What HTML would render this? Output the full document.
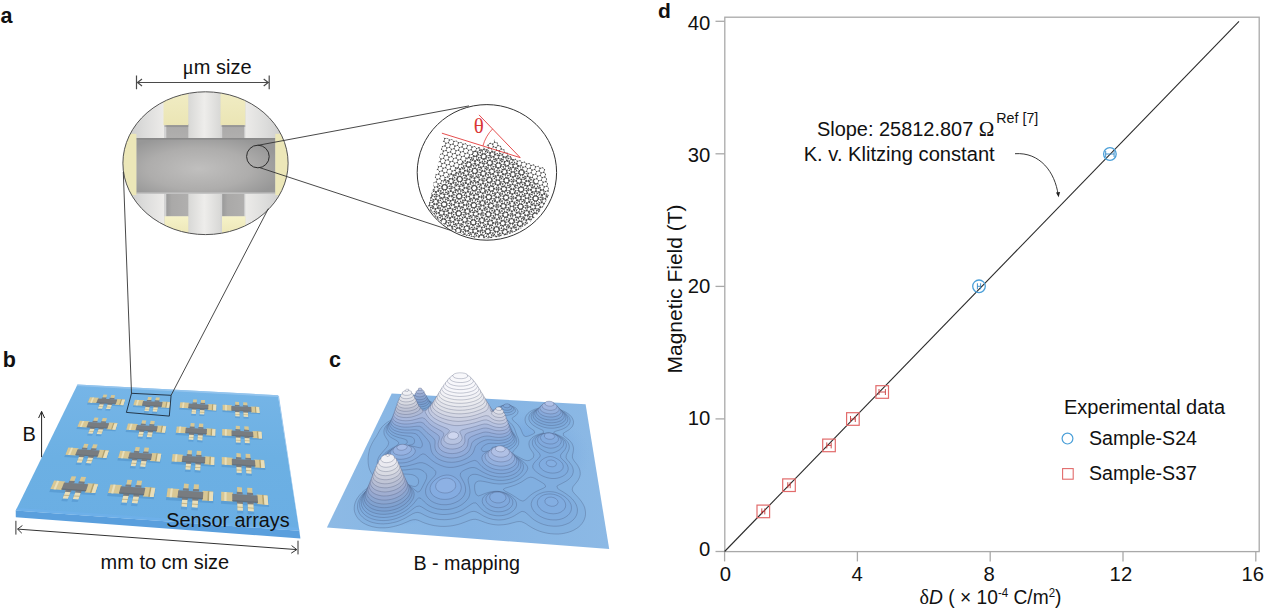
<!DOCTYPE html>
<html><head><meta charset="utf-8"><title>Twisted bilayer sensor arrays and quantized magnetic-field response</title>
<style>
html,body{margin:0;padding:0;background:#fff;}
body{width:1269px;height:611px;overflow:hidden;font-family:"Liberation Sans",sans-serif;}
svg{display:block;}
text{font-family:"Liberation Sans",sans-serif;fill:#111;}
.ser{font-family:"Liberation Serif",serif;}
</style></head><body>
<svg width="1269" height="611" viewBox="0 0 1269 611">
<rect width="1269" height="611" fill="#fff"/>
<defs><linearGradient id="cbase" x1="0" y1="0" x2="1" y2="0"><stop offset="0" stop-color="#8dbae5"/><stop offset="0.5" stop-color="#84b3e3"/><stop offset="1" stop-color="#8cb9e5"/></linearGradient>
<radialGradient id="cdark"><stop offset="0" stop-color="#5f93d6" stop-opacity="0.85"/><stop offset="0.6" stop-color="#6a9cda" stop-opacity="0.5"/><stop offset="1" stop-color="#7aaae0" stop-opacity="0"/></radialGradient></defs>
<path d="M391.7 393.4L585.6 404.2L609.2 549.1L326.9 527.5Z" fill="url(#cbase)"/>
<clipPath id="cclip"><path d="M391.7 393.4L585.6 404.2L609.2 549.1L326.9 527.5Z"/></clipPath>
<g clip-path="url(#cclip)"><ellipse cx="448" cy="462" rx="80" ry="42" fill="url(#cdark)"/><ellipse cx="395" cy="505" rx="42" ry="22" fill="url(#cdark)"/><ellipse cx="530" cy="455" rx="60" ry="45" fill="url(#cdark)" opacity="0.6"/></g>
<path d="M385.1 527.8L382.4 527.8L379.8 527.8L377.3 527.6L374.8 527.2L372.4 526.7L370.0 526.0L367.7 525.2L365.5 524.2L363.3 523.0L361.3 521.6L359.4 520.0L357.8 518.2L356.5 516.3L355.3 513.9L354.5 511.5L354.2 509.1L354.3 506.8L354.6 504.6L355.3 502.4L356.2 500.2L357.4 498.1L358.8 496.1L360.3 494.3L362.0 492.5L364.1 490.6L365.9 489.1L367.9 487.7L369.9 486.3L372.1 484.9L374.2 483.6L376.0 482.2L376.8 480.0L375.3 477.8L373.7 476.1L372.2 474.2L370.8 472.1L369.8 470.1L369.0 467.7L368.5 465.4L368.2 463.0L368.1 460.8L368.1 458.5L368.3 456.1L368.6 453.8L369.1 451.3L369.6 449.1L370.4 446.9L371.4 444.7L372.4 442.7L373.5 440.8L374.7 438.8L376.0 437.0L377.3 434.7L378.5 432.5L379.7 430.3L381.1 428.1L382.5 426.4L384.2 424.7L386.3 423.0L388.2 421.7L390.6 420.4L393.3 419.1L395.6 418.2L398.1 417.3L400.3 416.6L402.6 415.9L404.8 415.2L406.4 413.3L405.6 411.3L405.0 408.9L405.4 406.7L406.7 404.8L408.3 403.3L410.2 402.2L412.4 401.2L414.5 400.6L417.0 400.1L419.8 399.8L422.3 399.7L424.7 399.9L427.0 400.3L429.2 401.0L431.4 401.9L433.4 403.2L435.3 404.9L437.3 406.3L439.9 406.5L442.5 406.4L445.1 406.2L447.6 406.0L450.2 405.9L452.4 405.8L455.2 405.8L457.7 405.8L460.2 405.9L462.7 406.0L465.2 406.1L467.7 406.3L470.2 406.6L472.6 406.8L475.1 407.2L477.5 407.5L480.0 407.9L482.4 408.4L484.9 408.9L487.2 409.4L489.8 410.0L492.3 410.3L494.7 409.5L496.7 408.0L498.7 406.9L501.0 406.1L503.3 405.6L506.1 405.4L508.6 405.5L511.1 405.9L513.5 406.8L515.5 407.8L517.1 409.3L518.1 411.5L517.5 413.7L515.7 415.7L513.8 416.9L512.0 418.3L513.2 420.6L515.0 422.1L516.7 423.6L518.2 425.2L519.5 427.0L520.7 428.9L521.6 431.1L522.5 433.3L523.8 435.7L525.8 436.6L528.5 436.0L530.7 435.1L532.7 434.2L534.7 433.0L534.1 430.7L532.1 429.3L530.2 428.0L528.3 426.4L526.6 424.5L525.5 422.4L525.0 419.9L525.3 417.6L526.4 415.3L527.8 413.5L529.7 411.9L531.6 410.7L534.1 409.5L536.6 408.7L538.7 408.2L541.1 407.8L543.6 407.5L546.1 407.4L548.7 407.5L551.2 407.7L553.7 408.0L556.3 408.5L558.8 409.2L561.4 410.1L564.0 411.2L566.0 412.3L568.1 413.7L569.9 415.1L571.5 416.9L572.8 419.0L573.5 421.4L573.4 423.8L572.5 426.2L570.9 428.1L569.1 429.7L567.2 430.9L565.3 432.0L563.4 433.2L563.4 435.4L565.4 437.1L567.2 438.5L569.0 439.9L570.5 441.6L571.9 443.4L572.9 445.6L573.5 448.0L573.4 450.5L573.0 452.9L572.4 455.3L572.5 457.9L573.6 460.1L574.9 461.9L576.4 463.7L577.7 465.5L578.9 467.7L579.8 470.1L580.2 472.4L580.2 474.7L579.6 477.0L578.7 479.1L577.5 481.1L576.0 483.0L574.5 484.8L573.0 486.7L572.2 489.1L572.9 491.6L574.7 493.8L576.3 495.5L577.8 497.1L579.3 498.8L581.1 501.0L582.6 503.3L583.8 505.5L584.7 507.7L585.2 510.0L585.5 512.2L585.5 514.5L585.2 516.7L584.5 519.0L583.5 521.2L582.0 523.5L580.5 525.3L578.9 526.8L576.7 528.4L574.0 530.0L571.7 531.1L568.9 532.1L566.3 532.8L563.7 533.4L561.1 533.8L558.4 534.0L555.8 534.0L553.2 533.9L550.5 533.7L547.8 533.3L545.4 532.8L542.5 532.1L539.9 531.3L537.5 530.4L535.5 529.5L532.9 528.2L530.5 526.8L528.6 525.6L526.4 524.1L524.3 522.9L521.7 521.8L519.2 521.5L516.6 521.8L514.0 522.5L511.3 523.2L508.7 523.9L506.1 524.4L503.5 524.7L500.8 524.9L498.2 525.0L495.7 524.8L493.1 524.5L490.5 524.0L488.0 523.4L485.5 522.6L483.0 521.7L480.6 520.8L478.5 520.0L475.6 519.3L473.0 519.4L470.4 520.0L467.7 521.0L465.2 522.0L463.0 522.8L460.3 523.8L457.9 524.5L455.7 525.0L453.0 525.6L450.3 526.0L448.0 526.2L445.0 526.4L442.4 526.4L439.8 526.3L437.2 526.0L434.7 525.7L432.2 525.2L429.7 524.6L427.3 523.9L424.9 523.1L422.5 522.2L420.2 521.1L417.9 520.2L415.5 519.6L412.8 519.8L410.0 520.6L407.1 521.9L404.6 522.9L402.1 524.0L399.2 525.0L396.2 525.9L393.4 526.6L390.6 527.2L387.8 527.6L385.1 527.8Z" fill="rgb(131, 177, 224)" stroke="#3a4566" stroke-opacity="0.5" stroke-width="0.55"/>
<path d="M386.0 523.7L383.3 523.9L380.7 523.8L378.2 523.6L375.7 523.2L373.4 522.7L370.9 522.0L368.8 521.1L366.5 520.0L364.4 518.7L362.5 517.1L360.7 515.2L359.3 513.2L358.3 510.9L357.6 508.4L357.5 506.1L357.7 503.9L358.2 501.7L359.1 499.5L360.3 497.4L361.7 495.3L363.5 493.3L365.7 491.4L367.5 489.9L369.4 488.6L371.5 487.4L373.5 486.3L375.7 485.3L377.9 484.4L380.2 483.6L382.9 482.8L385.5 482.1L387.9 481.6L390.7 481.0L393.1 480.4L394.9 479.1L392.7 477.8L390.3 476.8L388.0 475.8L385.4 474.5L382.9 473.0L381.2 471.6L379.6 469.9L378.3 467.9L377.5 465.8L377.2 463.2L377.4 460.9L378.1 458.7L379.1 456.6L380.5 454.5L382.2 452.5L384.0 450.4L385.5 448.7L387.0 446.9L388.2 444.9L388.7 442.5L387.8 440.4L386.4 438.4L385.2 436.4L384.2 434.3L383.9 431.9L384.1 429.7L385.0 427.5L386.4 425.4L388.1 423.7L389.9 422.3L392.0 421.0L394.5 419.8L396.9 418.9L399.2 418.1L401.4 417.6L403.6 417.1L406.3 416.7L409.1 416.3L411.7 415.9L413.9 415.3L413.6 413.1L411.4 412.0L409.4 410.7L407.9 408.9L407.4 406.6L408.3 404.4L410.1 402.7L412.2 401.5L414.3 400.7L416.8 400.0L419.4 399.7L421.9 399.6L424.3 399.8L426.6 400.3L428.8 401.1L430.9 402.3L432.5 404.2L433.3 406.4L434.3 408.8L436.9 409.0L439.5 408.7L442.2 408.4L444.6 408.1L447.4 407.8L450.0 407.7L452.3 407.6L454.5 407.5L457.0 407.5L459.6 407.5L462.1 407.6L464.6 407.7L467.1 407.9L469.6 408.1L472.1 408.3L474.6 408.7L477.0 409.0L479.3 409.4L481.6 409.9L483.8 410.4L486.3 411.0L488.7 411.6L491.2 412.3L493.7 413.0L496.2 413.5L497.5 411.4L497.9 409.2L499.5 407.4L501.5 406.3L503.7 405.7L506.0 405.5L508.5 405.6L510.9 406.1L513.3 407.2L515.1 408.9L515.5 411.2L514.0 413.1L511.8 414.3L509.6 414.9L507.2 415.3L504.9 415.5L502.8 416.4L504.7 418.2L506.6 419.6L508.5 421.1L510.2 422.7L512.0 424.6L513.3 426.4L514.5 428.7L515.3 430.9L516.1 433.2L516.9 435.4L517.8 437.4L518.6 439.8L518.8 442.2L518.4 444.5L517.1 446.8L515.5 448.8L513.6 450.7L512.6 452.7L514.3 454.5L516.5 455.8L518.5 456.9L520.8 458.2L523.0 459.3L525.1 460.2L527.3 460.7L529.6 460.3L531.8 459.0L533.3 457.4L533.9 454.9L533.0 452.7L531.5 450.6L530.2 448.5L529.3 446.4L528.9 444.0L529.2 441.6L530.5 439.4L532.0 437.8L533.8 436.5L536.2 435.3L538.2 434.5L540.9 433.6L543.6 432.7L543.1 430.4L540.9 429.4L538.8 428.5L536.8 427.5L534.8 426.3L532.8 424.9L531.0 423.2L529.7 421.4L528.9 419.3L528.9 416.9L529.8 414.6L531.3 412.7L533.3 411.2L535.5 410.1L537.9 409.2L540.5 408.6L542.9 408.2L545.2 408.0L547.5 408.0L550.0 408.1L552.5 408.4L555.1 408.9L557.7 409.6L560.3 410.5L562.7 411.6L565.0 412.9L566.9 414.4L568.5 416.2L569.7 418.3L570.2 420.7L569.7 423.0L568.5 425.1L566.9 426.6L565.0 427.9L562.7 429.0L560.5 429.8L558.1 430.5L555.8 431.2L553.7 432.1L555.2 433.7L557.4 434.7L559.5 435.7L561.7 436.8L563.9 438.2L565.9 440.0L567.7 442.0L568.8 444.0L569.3 446.5L569.1 448.9L568.3 451.2L567.2 453.2L566.3 455.3L566.1 457.8L567.4 460.0L569.0 461.8L570.4 463.6L571.8 465.5L572.8 467.8L573.3 470.1L573.2 472.4L572.5 474.7L571.1 476.9L569.5 478.6L567.8 480.0L565.9 481.3L563.6 482.5L561.4 483.7L559.1 484.8L556.9 486.1L557.7 488.5L559.5 489.8L561.9 491.2L564.2 492.6L566.1 493.9L568.3 495.5L570.4 497.2L572.2 498.9L573.6 500.6L574.9 502.4L576.1 504.5L576.9 506.7L577.4 509.0L577.4 511.2L577.1 513.4L576.3 515.6L575.0 517.8L573.2 519.9L571.1 521.6L569.2 522.9L566.7 524.0L564.1 524.9L561.6 525.6L559.0 526.0L556.4 526.2L553.8 526.2L551.2 526.0L548.5 525.7L546.2 525.2L543.3 524.4L541.2 523.6L538.9 522.6L536.8 521.5L534.6 520.2L532.8 518.9L530.5 516.9L528.7 515.2L527.0 513.7L524.9 512.0L522.0 511.3L519.5 512.6L516.9 514.2L514.4 515.8L511.6 517.2L509.0 518.2L506.3 519.0L503.7 519.6L501.1 519.9L498.5 520.0L496.0 519.8L493.4 519.5L490.9 518.9L488.4 518.2L486.1 517.2L483.5 516.0L481.2 514.6L478.9 513.2L476.4 511.9L474.0 511.3L471.8 511.6L469.6 512.3L467.1 513.5L465.0 514.5L462.9 515.5L460.5 516.5L457.8 517.5L454.9 518.3L452.4 518.9L449.8 519.3L446.9 519.6L444.3 519.7L441.8 519.6L439.2 519.5L436.7 519.1L434.2 518.7L431.8 518.0L429.4 517.3L427.4 516.5L424.8 515.3L422.6 514.1L420.3 513.0L417.9 512.4L415.4 512.7L413.0 513.6L410.3 515.2L408.2 516.4L406.2 517.6L404.1 518.7L402.1 519.6L399.1 520.9L396.2 521.9L393.3 522.6L390.5 523.2L387.8 523.6Z" fill="rgb(128, 173, 222)" stroke="#3a4566" stroke-opacity="0.5" stroke-width="0.55"/>
<path d="M523.7 500.8L525.7 499.6L527.3 498.1L529.0 496.5L530.8 495.0L532.7 493.6L534.7 492.3L536.6 491.3L538.7 490.3L541.1 489.2L543.4 488.2L545.6 486.8L544.9 484.6L543.0 483.2L540.9 481.9L538.6 480.5L536.7 479.4L534.7 478.3L532.4 477.4L530.1 477.2L527.7 478.0L525.9 479.1L523.9 480.4L521.8 481.8L519.8 482.9L517.7 483.9L515.0 485.1L512.6 485.9L510.1 486.7L507.7 487.4L505.3 488.1L503.2 489.5L505.1 491.1L507.4 492.3L509.7 493.5L511.8 494.7L513.7 495.9L516.0 497.4L518.0 498.8L519.9 500.1L522.4 501.0Z" fill="rgb(129, 175, 224)" stroke="#3a4566" stroke-opacity="0.5" stroke-width="0.55"/>
<path d="M424.0 411.6L421.4 411.6L418.9 411.5L416.5 411.1L414.1 410.5L411.9 409.6L409.9 408.1L408.8 406.1L409.2 403.9L410.8 402.0L412.9 400.8L415.1 399.9L417.8 399.3L420.4 399.1L422.8 399.1L425.2 399.5L427.3 400.1L429.3 401.2L430.9 402.8L431.5 405.1L430.8 407.3L429.4 409.1L427.6 410.7L425.3 411.5Z" fill="rgb(123, 167, 216)" stroke="#3a4566" stroke-opacity="0.5" stroke-width="0.55"/>
<path d="M507.1 412.7L504.5 412.5L502.0 411.8L500.3 410.4L499.9 408.0L501.3 406.4L503.8 405.4L506.5 405.1L509.0 405.3L511.5 406.1L513.3 407.5L513.8 409.6L512.3 411.3L509.7 412.4L507.4 412.7Z" fill="rgb(124, 168, 217)" stroke="#3a4566" stroke-opacity="0.5" stroke-width="0.55"/>
<path d="M553.0 428.2L550.3 428.2L547.6 428.0L544.9 427.5L542.5 426.8L540.2 425.9L538.1 425.0L536.1 423.8L534.2 422.4L532.5 420.6L531.4 418.4L531.1 416.1L531.9 413.8L533.5 411.9L535.5 410.5L537.5 409.5L539.9 408.7L542.4 408.2L545.0 407.9L547.5 407.8L549.8 407.9L552.6 408.3L555.2 408.8L557.8 409.5L560.0 410.4L562.2 411.5L564.3 413.0L565.9 414.5L567.2 416.4L567.9 418.8L567.5 421.2L566.2 423.2L564.3 424.9L562.3 426.0L559.7 427.0L557.1 427.6L554.4 428.1Z" fill="rgb(125, 169, 218)" stroke="#3a4566" stroke-opacity="0.5" stroke-width="0.55"/>
<path d="M383.8 520.6L381.3 520.5L378.7 520.3L376.5 520.0L373.9 519.4L371.5 518.7L369.3 517.7L367.2 516.6L365.2 515.2L363.5 513.6L361.9 511.7L360.7 509.5L359.9 507.3L359.6 504.6L359.7 502.4L360.2 500.2L361.1 498.0L362.3 495.9L363.8 493.9L365.7 491.9L367.4 490.4L369.3 489.0L371.5 487.5L373.7 486.4L376.0 485.3L378.2 484.4L380.3 483.7L383.0 483.0L385.6 482.4L388.1 482.0L390.6 481.8L393.0 481.7L395.4 481.7L397.7 481.9L399.9 482.2L402.1 482.6L404.3 483.2L406.5 483.9L408.6 484.7L410.7 485.5L412.9 486.3L415.2 486.5L417.2 485.5L418.3 483.6L418.7 481.1L418.0 478.6L416.6 476.9L414.7 475.6L412.6 474.8L410.4 474.4L408.1 474.2L405.8 474.1L403.5 474.1L401.3 474.0L399.0 473.8L396.8 473.5L394.6 473.1L391.9 472.5L389.7 471.7L387.5 470.7L385.3 469.4L383.6 467.9L382.2 466.1L381.1 463.8L380.8 461.5L381.2 459.2L382.1 457.1L383.5 455.0L385.0 453.3L386.8 451.7L388.9 450.2L391.4 448.6L393.3 447.5L395.4 446.4L397.6 444.9L398.9 442.9L397.4 441.1L395.3 439.8L392.8 438.5L390.7 437.2L388.7 435.5L387.2 433.6L386.2 431.5L386.0 429.2L386.5 427.0L387.6 425.0L389.3 423.1L391.1 421.6L393.6 420.1L395.6 419.2L397.9 418.3L400.1 417.7L402.3 417.1L405.2 416.7L407.5 416.4L409.9 416.2L412.6 416.0L415.3 415.8L418.1 415.3L420.4 414.6L422.7 413.6L425.1 412.3L427.4 411.3L430.1 411.0L432.8 410.5L435.5 410.0L438.3 409.5L441.0 409.1L443.5 408.7L446.3 408.4L448.9 408.2L451.5 408.0L454.1 407.9L456.4 407.8L459.2 407.8L461.7 407.9L464.2 408.0L466.8 408.1L469.3 408.4L471.8 408.6L474.2 409.0L476.7 409.4L478.9 409.7L481.1 410.2L483.5 410.8L486.0 411.4L488.5 412.1L490.9 412.9L493.4 413.8L495.6 414.7L497.7 415.7L500.1 417.0L502.0 418.1L503.9 419.4L505.7 420.9L507.4 422.6L509.0 424.5L510.3 426.7L511.3 428.9L512.3 431.2L513.5 433.1L514.8 435.1L515.9 437.1L516.6 439.4L516.6 441.8L515.6 444.1L514.1 446.0L512.4 447.5L510.3 448.9L508.5 450.2L507.6 452.2L509.6 453.6L511.6 454.5L513.7 455.5L515.7 456.5L517.8 457.8L520.0 459.2L522.1 460.8L523.9 462.2L525.7 464.1L527.2 466.0L527.8 468.3L527.0 470.6L525.6 472.8L524.1 474.6L522.4 476.4L520.2 478.1L518.3 479.4L515.9 480.6L513.6 481.6L511.1 482.4L508.7 483.0L506.3 483.5L503.9 483.8L501.5 483.9L499.2 484.0L496.8 483.8L494.5 483.6L492.1 483.2L489.8 482.7L487.5 482.2L485.2 481.7L482.9 481.3L480.6 481.0L478.2 481.1L475.7 482.5L474.7 484.9L474.6 487.4L474.8 490.0L475.4 492.6L476.4 494.8L478.5 495.9L481.0 495.1L483.2 494.2L485.3 493.4L487.8 492.6L490.3 491.9L492.8 491.5L495.2 491.3L497.7 491.3L500.1 491.6L502.4 492.0L504.8 492.8L507.2 493.7L509.5 495.0L511.8 496.6L513.9 498.5L515.6 500.7L516.4 502.9L516.6 505.2L515.9 507.4L514.5 509.5L512.9 511.1L510.9 512.5L508.8 513.7L506.5 514.6L503.9 515.3L501.3 515.7L498.9 515.8L496.2 515.7L493.7 515.3L491.2 514.7L489.0 514.0L486.3 512.6L484.2 511.3L482.4 509.9L480.7 508.2L479.1 506.4L477.6 504.6L475.8 502.9L473.3 503.0L471.2 504.2L469.0 505.7L466.8 507.2L464.9 508.4L462.7 509.8L460.2 511.0L457.5 512.1L454.8 513.0L452.3 513.6L450.0 514.0L447.7 514.3L445.1 514.5L442.5 514.5L440.0 514.3L437.5 513.9L435.1 513.4L432.9 512.8L430.4 511.9L428.1 510.8L425.9 509.6L423.7 508.2L421.5 506.9L419.3 506.0L416.7 506.5L414.6 507.7L412.4 509.4L410.2 511.1L408.0 512.7L405.9 514.1L403.8 515.3L401.7 516.3L399.7 517.2L396.8 518.3L393.9 519.2L391.1 519.8L388.4 520.3L385.6 520.5Z" fill="rgb(125, 170, 220)" stroke="#3a4566" stroke-opacity="0.5" stroke-width="0.55"/>
<path d="M554.1 478.5L551.8 478.5L549.5 478.2L547.1 477.7L544.8 476.9L542.4 475.9L540.2 474.7L537.9 473.1L536.0 471.6L534.0 469.7L532.8 467.8L532.8 465.5L533.9 463.3L535.5 461.3L537.2 459.6L538.9 458.0L540.3 455.9L539.7 453.8L538.2 452.0L536.5 450.3L534.9 448.5L533.4 446.4L532.5 444.3L532.3 441.9L533.0 439.6L534.4 437.8L536.2 436.4L538.2 435.3L540.7 434.4L543.0 433.8L545.8 433.5L548.5 433.4L551.3 433.7L554.0 434.3L556.1 434.9L558.3 435.8L560.4 436.9L562.5 438.4L564.3 440.0L565.6 442.0L566.4 444.4L566.2 446.8L565.2 449.2L563.7 451.1L561.9 453.1L560.5 455.1L560.8 457.7L562.5 459.5L564.4 461.3L566.1 463.2L567.3 465.0L568.1 467.3L568.2 469.6L567.5 471.7L566.3 473.6L564.3 475.3L562.1 476.6L559.5 477.6L557.2 478.2L554.9 478.5Z" fill="rgb(126, 171, 222)" stroke="#3a4566" stroke-opacity="0.5" stroke-width="0.55"/>
<path d="M555.3 519.9L552.7 519.9L550.1 519.7L547.5 519.2L545.3 518.6L543.2 517.8L540.6 516.6L538.3 515.2L536.3 513.7L534.7 512.1L533.3 510.3L532.1 508.2L531.3 505.7L531.2 503.5L532.0 500.8L533.1 498.8L534.7 497.0L536.7 495.3L538.7 494.1L541.1 493.1L543.5 492.3L545.9 491.9L548.3 491.6L550.8 491.7L553.2 491.9L555.6 492.4L557.7 493.1L560.6 494.3L562.9 495.5L564.8 496.8L566.5 498.2L568.3 500.1L569.9 502.4L571.0 504.6L571.4 506.8L571.4 509.0L570.9 511.2L569.7 513.4L567.9 515.4L565.5 517.1L563.5 518.2L561.3 519.0L558.7 519.6L556.2 519.9Z" fill="rgb(127, 172, 223)" stroke="#3a4566" stroke-opacity="0.5" stroke-width="0.55"/>
<path d="M421.9 409.1L419.2 409.2L416.8 408.9L414.4 408.3L412.2 407.4L410.4 405.8L409.9 403.6L410.9 401.6L412.8 400.1L415.4 399.0L417.6 398.5L420.2 398.2L422.6 398.3L425.0 398.7L427.2 399.5L429.1 400.7L430.3 402.7L429.9 404.9L428.3 406.8L426.2 408.0L423.9 408.7Z" fill="rgb(121, 163, 211)" stroke="#3a4566" stroke-opacity="0.5" stroke-width="0.55"/>
<path d="M507.2 410.3L504.6 410.0L502.4 409.0L501.4 407.0L503.1 405.2L505.8 404.5L508.3 404.6L510.5 405.3L512.2 407.0L511.3 409.2L509.1 410.1Z" fill="rgb(124, 166, 216)" stroke="#3a4566" stroke-opacity="0.5" stroke-width="0.55"/>
<path d="M551.6 425.5L548.9 425.4L546.2 425.0L543.5 424.3L540.9 423.4L538.8 422.4L536.8 421.2L534.9 419.6L533.6 417.8L533.0 415.4L533.5 413.1L534.8 411.3L536.7 409.8L538.9 408.8L541.2 408.1L543.7 407.6L546.3 407.4L548.8 407.4L551.4 407.6L553.6 408.0L555.9 408.6L558.5 409.5L560.5 410.4L562.5 411.7L564.4 413.5L565.7 415.6L566.0 417.9L565.2 420.2L563.7 421.9L561.8 423.2L559.6 424.1L557.0 424.9L554.6 425.3L552.3 425.5Z" fill="rgb(124, 167, 217)" stroke="#3a4566" stroke-opacity="0.5" stroke-width="0.55"/>
<path d="M384.3 517.5L381.7 517.4L379.2 517.2L376.7 516.8L374.3 516.3L372.0 515.5L370.0 514.6L367.7 513.3L365.9 511.9L364.1 510.0L362.8 508.2L361.7 505.8L361.3 503.5L361.3 501.2L361.7 499.0L362.4 496.9L363.5 494.8L365.0 492.7L366.9 490.7L368.6 489.2L370.5 487.8L372.8 486.4L375.0 485.2L377.5 484.1L379.8 483.3L382.5 482.6L384.7 482.1L387.6 481.6L389.8 481.4L392.5 481.3L394.8 481.4L397.1 481.6L399.4 482.0L401.6 482.5L403.7 483.2L405.8 484.0L407.9 485.0L409.9 486.2L411.9 487.5L413.9 489.1L415.8 490.7L417.8 492.1L419.9 491.2L421.2 489.2L422.3 487.2L423.3 485.2L424.3 483.3L425.5 480.8L426.5 478.4L426.8 476.0L425.9 473.5L423.9 471.5L422.0 470.3L419.9 469.4L417.8 469.0L415.5 468.9L413.1 469.1L410.8 469.3L408.3 469.6L406.0 469.9L403.6 470.0L401.3 470.1L399.0 470.0L396.8 469.8L394.6 469.4L391.8 468.6L389.7 467.8L387.3 466.4L385.6 464.9L384.2 462.9L383.5 460.5L383.7 458.2L384.5 456.1L385.9 454.0L387.6 452.3L389.7 450.7L391.6 449.6L393.8 448.5L396.4 447.5L398.6 446.7L400.8 446.0L402.9 445.3L405.5 444.2L407.3 442.7L407.0 440.4L404.6 439.2L402.0 438.4L399.5 437.8L397.0 437.0L394.6 436.1L392.4 435.0L390.6 433.7L389.0 432.1L387.8 430.1L387.4 427.8L387.9 425.6L389.1 423.5L390.6 421.7L392.9 420.1L395.0 418.9L397.4 417.9L399.8 417.1L402.0 416.5L404.8 416.0L407.6 415.8L410.3 415.6L412.5 415.6L414.9 415.6L417.2 415.5L419.6 415.2L421.8 414.7L423.9 413.9L426.2 413.0L428.5 412.1L430.8 411.4L432.9 410.8L435.4 410.1L437.8 409.6L440.5 409.1L443.2 408.7L445.9 408.3L448.5 408.1L451.1 407.8L453.7 407.7L456.3 407.6L458.9 407.6L461.4 407.7L464.0 407.8L466.5 407.9L469.0 408.1L471.5 408.4L474.0 408.8L476.5 409.2L479.0 409.6L481.5 410.2L483.9 410.8L486.4 411.5L488.5 412.2L490.7 412.9L493.2 413.9L495.3 414.9L497.5 416.0L499.4 417.2L501.6 418.7L503.4 420.2L505.2 422.0L506.5 423.9L507.7 426.1L508.8 428.4L510.1 430.3L511.8 432.2L513.4 434.1L514.6 436.2L515.2 438.3L514.9 440.9L513.6 443.2L511.9 444.7L509.7 446.2L507.5 447.3L505.2 448.2L503.0 449.0L501.4 450.6L503.5 451.8L505.6 452.5L507.7 453.3L509.9 454.1L512.0 455.0L514.1 456.0L516.3 457.3L518.4 458.8L520.2 460.3L521.8 462.2L523.1 464.5L523.5 466.8L523.1 469.1L522.1 471.3L520.7 473.1L518.9 474.9L517.0 476.2L514.7 477.5L512.0 478.6L509.6 479.3L507.2 479.8L504.8 480.2L502.5 480.4L500.2 480.4L497.8 480.3L495.4 480.0L493.1 479.6L490.8 479.1L488.5 478.5L486.3 477.8L484.0 477.0L481.8 476.1L479.6 475.3L477.4 474.6L475.1 474.3L472.8 474.4L470.3 475.5L468.7 477.3L468.1 479.7L468.4 482.2L469.0 484.8L469.5 487.4L469.9 490.0L470.0 492.6L469.5 495.2L468.8 497.3L467.5 499.3L465.8 501.3L464.0 502.9L462.0 504.5L460.0 505.7L457.5 507.0L455.0 507.9L452.7 508.6L450.1 509.2L447.5 509.5L444.9 509.6L442.3 509.6L439.9 509.3L437.6 509.0L435.0 508.3L432.7 507.5L430.4 506.4L428.2 505.1L426.3 503.6L424.3 501.8L422.5 500.0L420.9 498.4L418.6 497.8L416.8 499.6L415.2 501.7L413.6 503.6L411.9 505.4L410.3 507.0L408.5 508.6L406.5 510.1L404.4 511.5L402.3 512.7L400.2 513.8L397.7 514.8L395.3 515.7L393.0 516.3L390.6 516.8L387.8 517.2L385.2 517.4Z" fill="rgb(125, 168, 218)" stroke="#3a4566" stroke-opacity="0.5" stroke-width="0.55"/>
<path d="M552.2 453.0L549.3 453.1L547.1 452.4L544.9 451.5L542.7 450.3L540.5 448.9L538.3 447.2L536.7 445.4L535.5 443.4L534.9 440.9L535.5 438.8L536.9 436.9L538.9 435.4L541.0 434.5L543.7 433.8L546.5 433.5L549.3 433.5L552.0 433.8L554.3 434.4L556.8 435.3L559.1 436.5L561.0 437.8L562.5 439.5L563.6 441.5L563.8 443.9L563.0 446.2L561.5 448.1L559.7 449.7L557.2 451.1L555.1 452.1L553.0 452.8Z" fill="rgb(126, 170, 220)" stroke="#3a4566" stroke-opacity="0.5" stroke-width="0.55"/>
<path d="M554.7 473.0L552.4 473.1L550.1 472.9L547.8 472.4L545.4 471.6L543.3 470.4L541.4 468.9L539.9 467.0L539.2 464.7L539.7 462.5L541.3 460.4L543.4 458.8L545.6 457.6L548.0 456.8L550.2 456.5L552.4 456.8L554.7 457.6L556.9 458.7L559.2 460.2L561.4 462.1L562.7 463.9L563.3 466.2L562.9 468.4L561.5 470.3L559.3 471.8L557.0 472.6L554.7 473.0Z" fill="rgb(128, 172, 224)" stroke="#3a4566" stroke-opacity="0.5" stroke-width="0.55"/>
<path d="M553.4 513.8L550.8 513.6L548.3 513.2L545.7 512.3L543.6 511.4L541.6 510.1L539.7 508.3L538.4 506.5L537.4 504.2L537.3 502.0L537.9 499.9L539.3 497.9L541.0 496.4L543.6 495.0L546.1 494.3L548.5 494.0L550.9 494.0L553.4 494.3L555.8 494.9L558.3 495.9L560.6 497.2L562.6 498.8L564.2 500.7L565.3 502.9L565.7 505.1L565.4 507.3L564.2 509.4L562.6 511.0L560.1 512.5L557.6 513.3L555.1 513.7Z" fill="rgb(128, 172, 224)" stroke="#3a4566" stroke-opacity="0.5" stroke-width="0.55"/>
<path d="M500.6 511.7L498.1 511.8L495.5 511.6L493.0 511.1L490.6 510.3L488.2 509.1L486.4 507.9L484.5 506.1L482.9 503.8L482.2 501.5L482.5 498.8L483.7 496.7L485.7 494.9L487.7 493.8L489.9 492.9L492.5 492.2L495.0 491.8L497.4 491.7L499.9 492.0L502.3 492.4L504.6 493.2L507.0 494.3L509.2 495.8L510.9 497.4L512.4 499.8L512.9 502.0L512.5 504.7L511.2 506.8L509.6 508.4L507.6 509.7L505.0 510.8L502.4 511.5Z" fill="rgb(126, 169, 220)" stroke="#3a4566" stroke-opacity="0.5" stroke-width="0.55"/>
<path d="M421.5 406.8L418.9 406.9L416.4 406.6L414.1 406.0L412.0 404.7L410.9 402.8L411.6 400.4L413.4 399.0L416.0 397.9L418.2 397.4L420.5 397.2L423.1 397.3L425.4 397.8L427.4 398.8L429.0 400.5L429.1 402.7L427.7 404.5L425.8 405.7L423.5 406.5Z" fill="rgb(121, 160, 209)" stroke="#3a4566" stroke-opacity="0.5" stroke-width="0.55"/>
<path d="M507.3 407.8L504.7 407.4L503.1 405.9L504.9 404.0L507.6 403.8L509.9 404.6L510.1 406.9L507.9 407.7Z" fill="rgb(126, 168, 218)" stroke="#3a4566" stroke-opacity="0.5" stroke-width="0.55"/>
<path d="M551.6 422.8L548.9 422.7L546.2 422.3L543.5 421.6L541.2 420.7L538.9 419.5L536.9 418.1L535.5 416.3L534.7 414.2L535.1 411.9L536.5 410.0L538.7 408.5L540.8 407.6L543.1 407.1L545.7 406.7L548.2 406.7L550.8 406.8L553.3 407.3L555.5 407.8L557.6 408.6L559.8 409.7L561.8 411.1L563.4 412.8L564.3 414.9L564.1 417.2L562.8 419.2L560.8 420.7L558.4 421.7L556.2 422.3L553.6 422.7Z" fill="rgb(125, 166, 216)" stroke="#3a4566" stroke-opacity="0.5" stroke-width="0.55"/>
<path d="M446.4 504.7L443.8 504.7L441.3 504.6L438.9 504.2L436.5 503.5L434.4 502.7L432.0 501.5L429.9 499.9L427.9 497.9L426.4 495.6L425.7 493.4L425.5 490.7L426.0 488.1L427.0 485.6L428.1 483.6L429.5 481.7L431.0 479.8L432.7 477.9L434.4 476.1L435.7 474.2L435.9 471.8L434.6 470.0L432.8 468.4L430.8 467.0L428.9 465.7L427.0 464.5L425.0 463.5L422.2 462.7L419.9 462.7L417.7 463.1L415.1 463.9L412.6 464.6L409.9 465.3L407.5 465.9L405.0 466.3L402.7 466.5L400.3 466.5L398.1 466.4L395.9 466.1L393.1 465.4L390.5 464.3L388.6 463.1L386.8 461.1L385.9 458.9L385.9 456.6L386.8 454.4L388.4 452.3L390.2 450.7L392.7 449.2L395.2 448.1L398.0 447.1L400.4 446.5L402.7 446.0L405.0 445.7L407.3 445.4L409.6 445.1L411.9 444.7L414.1 443.4L414.7 441.0L414.0 438.8L412.4 437.2L409.9 436.4L407.2 436.0L404.5 435.7L401.9 435.3L399.3 434.8L396.8 434.1L394.4 433.1L392.1 431.8L390.2 430.1L389.0 428.1L388.6 425.8L389.1 423.7L390.5 421.5L392.2 419.8L394.1 418.5L396.3 417.4L398.7 416.5L401.0 415.8L403.1 415.3L405.6 415.0L408.0 414.8L410.7 414.7L413.3 414.8L415.9 414.9L418.5 415.0L421.2 414.7L423.4 414.1L425.7 413.2L428.0 412.3L430.2 411.4L432.4 410.7L434.5 410.1L437.4 409.4L440.0 408.8L442.2 408.4L444.9 408.0L447.6 407.7L450.2 407.4L452.8 407.3L455.4 407.1L458.0 407.1L460.6 407.1L463.1 407.2L465.6 407.3L468.2 407.5L470.7 407.8L473.2 408.1L475.7 408.5L478.1 409.0L480.7 409.5L483.1 410.2L485.6 410.9L488.1 411.7L490.5 412.6L493.0 413.7L495.5 415.0L497.4 416.1L499.6 417.6L501.3 419.1L503.0 421.0L504.3 422.8L505.5 425.0L506.8 427.3L508.7 429.3L510.4 430.8L512.0 432.4L513.2 434.3L514.0 436.4L513.8 438.7L512.6 441.0L510.5 442.8L508.6 443.9L506.1 444.9L503.9 445.6L501.7 446.0L499.5 446.4L496.6 446.6L494.4 446.9L492.1 447.4L491.2 449.4L493.3 450.1L495.6 450.5L498.3 450.9L501.1 451.4L503.5 451.9L505.8 452.4L508.3 453.2L510.4 454.0L512.5 455.0L514.8 456.3L516.9 457.8L518.8 459.7L520.1 461.6L520.9 463.9L520.9 466.1L520.2 468.3L518.7 470.6L516.9 472.3L514.9 473.7L512.9 474.7L510.5 475.6L508.1 476.3L505.8 476.7L503.4 477.0L501.0 477.0L498.7 477.0L496.4 476.7L494.1 476.3L491.8 475.8L489.5 475.1L487.3 474.2L485.1 473.2L482.9 472.1L481.0 471.0L478.6 469.5L476.5 468.3L474.3 467.6L472.1 467.5L469.9 467.9L467.6 468.7L464.8 469.9L462.5 471.2L460.6 472.9L460.2 475.3L461.3 477.8L462.5 479.9L463.6 482.0L464.6 484.0L465.3 486.6L465.6 489.2L465.4 491.8L464.5 494.4L463.3 496.5L461.9 498.2L459.9 499.9L458.0 501.2L455.4 502.5L453.4 503.3L450.7 504.1L448.1 504.5Z" fill="rgb(127, 168, 219)" stroke="#3a4566" stroke-opacity="0.5" stroke-width="0.55"/>
<path d="M550.7 448.2L548.4 448.0L546.1 447.4L543.7 446.5L541.3 445.1L539.3 443.4L537.9 441.3L537.5 438.9L538.5 436.7L540.3 435.1L542.4 434.1L545.2 433.4L547.9 433.2L550.7 433.4L553.5 434.0L555.6 434.7L557.8 435.9L559.8 437.6L561.1 439.6L561.3 441.9L560.2 444.3L558.6 445.8L556.4 447.0L554.2 447.8L551.4 448.2Z" fill="rgb(128, 169, 221)" stroke="#3a4566" stroke-opacity="0.5" stroke-width="0.55"/>
<path d="M552.2 466.8L549.9 466.5L547.7 465.6L546.2 463.7L546.6 461.5L548.6 460.3L551.2 460.0L553.4 460.5L555.4 461.6L556.6 463.5L555.8 465.7L553.7 466.6Z" fill="rgb(131, 174, 226)" stroke="#3a4566" stroke-opacity="0.5" stroke-width="0.55"/>
<path d="M385.5 514.3L382.9 514.3L380.4 514.2L377.9 513.8L375.5 513.3L373.2 512.6L371.0 511.7L368.9 510.5L366.9 509.0L365.2 507.1L363.9 505.1L363.0 502.7L362.7 500.5L362.8 498.2L363.4 496.1L364.3 493.9L365.6 491.9L367.4 489.9L369.5 487.9L371.5 486.5L373.4 485.3L375.4 484.2L377.6 483.2L379.9 482.4L382.8 481.6L385.5 481.0L388.0 480.7L390.5 480.5L392.9 480.5L395.2 480.6L397.5 480.9L399.7 481.4L401.9 482.0L404.0 482.8L406.1 483.8L408.1 485.1L409.9 486.5L411.6 488.2L413.0 490.0L413.9 492.2L414.2 494.7L413.7 497.4L412.7 499.5L411.3 501.6L409.6 503.7L407.9 505.4L406.0 506.9L403.8 508.5L401.7 509.7L399.7 510.8L396.7 512.0L393.8 512.9L391.5 513.5L389.1 513.9L386.4 514.2Z" fill="rgb(122, 163, 212)" stroke="#3a4566" stroke-opacity="0.5" stroke-width="0.55"/>
<path d="M500.8 507.5L498.3 507.7L495.7 507.5L493.3 506.9L490.8 505.9L488.5 504.3L487.0 502.6L485.9 500.2L486.1 497.5L487.3 495.5L489.1 494.0L491.4 492.8L493.6 492.2L496.2 491.8L498.9 491.9L501.3 492.3L503.7 493.1L506.0 494.4L507.7 495.8L509.1 497.7L509.7 500.2L509.2 502.4L507.8 504.3L506.0 505.7L503.4 506.9L500.8 507.5Z" fill="rgb(128, 169, 221)" stroke="#3a4566" stroke-opacity="0.5" stroke-width="0.55"/>
<path d="M554.0 506.2L551.5 506.3L549.0 505.7L546.7 504.5L545.2 502.7L544.9 500.5L546.2 498.4L548.7 497.3L551.1 497.1L553.6 497.6L555.7 498.6L557.5 500.3L558.1 502.5L557.1 504.6L554.8 505.9Z" fill="rgb(131, 174, 226)" stroke="#3a4566" stroke-opacity="0.5" stroke-width="0.55"/>
<path d="M419.7 404.7L417.4 404.5L414.9 403.9L412.8 402.7L411.7 400.7L412.8 398.5L415.0 397.1L417.2 396.4L419.8 396.0L422.3 396.1L424.6 396.5L426.7 397.4L428.2 399.1L428.0 401.3L426.1 403.1L423.8 404.1L421.0 404.6Z" fill="rgb(121, 158, 207)" stroke="#3a4566" stroke-opacity="0.5" stroke-width="0.55"/>
<path d="M507.4 404.6Z" fill="rgb(132, 173, 226)" stroke="#3a4566" stroke-opacity="0.5" stroke-width="0.55"/>
<path d="M552.8 419.9L550.2 420.0L547.5 419.7L544.8 419.2L542.3 418.3L540.1 417.2L538.1 415.6L536.8 413.9L536.3 411.5L537.4 409.3L539.2 407.7L541.2 406.8L543.8 406.1L546.3 405.8L548.9 405.8L551.5 406.0L554.0 406.6L556.6 407.4L558.7 408.4L560.7 409.9L562.1 411.6L562.7 414.0L561.9 416.2L560.0 417.9L557.5 419.1L554.9 419.7Z" fill="rgb(127, 166, 216)" stroke="#3a4566" stroke-opacity="0.5" stroke-width="0.55"/>
<path d="M501.9 473.6L499.6 473.6L497.3 473.4L495.0 473.0L492.7 472.4L490.4 471.7L488.3 470.8L486.2 469.7L483.9 468.2L482.0 466.6L480.1 464.7L478.6 462.9L476.6 460.9L474.4 460.4L472.2 461.0L469.6 462.0L467.6 462.9L465.5 463.8L463.0 464.8L460.5 465.6L458.1 466.3L455.7 466.9L453.3 467.3L450.9 467.4L448.6 467.4L446.4 467.1L444.2 466.6L442.1 465.9L440.0 465.1L437.9 464.1L435.9 463.1L434.0 461.9L432.1 460.5L430.3 459.0L428.5 457.4L426.8 455.9L425.0 454.4L422.9 453.8L420.5 455.0L418.5 456.7L416.2 458.3L414.1 459.5L411.6 460.7L409.5 461.5L407.3 462.2L404.8 462.7L402.4 462.9L400.1 463.0L397.9 462.9L395.4 462.4L393.0 461.7L390.6 460.3L388.9 458.6L388.0 456.5L388.2 454.3L389.2 452.2L390.7 450.5L392.8 449.0L395.0 447.8L397.3 447.0L399.4 446.4L402.1 445.9L404.3 445.7L406.5 445.6L409.4 445.8L412.2 446.1L414.9 446.7L417.6 447.4L420.3 447.9L422.1 446.5L422.4 444.1L421.7 441.6L420.6 439.5L419.5 437.5L418.0 435.5L415.8 433.8L413.2 433.2L410.5 433.0L407.7 433.0L404.9 432.9L402.2 432.6L399.6 432.1L397.1 431.4L394.7 430.5L392.6 429.2L390.9 427.5L389.9 425.6L389.7 423.4L390.5 421.2L392.1 419.2L394.1 417.5L396.5 416.2L398.8 415.3L401.4 414.5L403.6 414.1L406.4 413.7L409.1 413.6L411.7 413.6L414.3 413.8L416.9 414.0L419.4 414.2L422.1 414.0L424.3 413.5L426.6 412.5L428.9 411.6L431.2 410.7L433.4 409.9L435.6 409.3L437.7 408.7L440.3 408.1L442.5 407.7L445.3 407.2L447.9 406.9L450.6 406.6L453.2 406.4L455.7 406.3L458.4 406.3L461.0 406.3L463.5 406.4L466.1 406.6L468.6 406.8L471.1 407.1L473.6 407.4L476.1 407.9L478.6 408.4L481.1 409.0L483.6 409.6L485.8 410.3L487.9 411.1L490.0 411.9L492.2 412.9L494.5 414.2L496.5 415.5L498.3 416.8L500.1 418.6L501.7 420.5L502.9 422.7L504.2 424.9L506.1 426.8L508.0 428.3L509.7 429.7L511.3 431.3L512.5 433.2L513.0 435.6L512.2 437.9L510.6 439.7L508.4 441.2L506.2 442.1L503.9 442.7L501.8 443.1L498.9 443.4L496.0 443.4L493.1 443.3L490.2 443.3L488.0 443.6L485.8 444.5L483.8 445.8L482.2 447.3L481.2 449.4L482.6 451.4L484.8 451.5L487.0 451.2L489.3 450.9L491.5 450.7L493.7 450.6L495.9 450.6L498.8 450.7L501.7 451.0L503.9 451.4L506.1 451.9L508.2 452.6L510.4 453.4L512.5 454.5L514.7 456.0L516.4 457.6L517.8 459.4L518.7 461.7L518.7 463.9L518.0 466.2L516.4 468.4L514.6 469.9L512.2 471.3L510.1 472.2L507.4 472.9L505.1 473.4L502.7 473.6Z" fill="rgb(128, 167, 218)" stroke="#3a4566" stroke-opacity="0.5" stroke-width="0.55"/>
<path d="M552.7 443.9L549.8 444.0L547.0 443.6L544.8 442.8L542.9 441.7L541.2 440.0L540.3 437.6L541.1 435.5L543.1 433.9L545.9 433.1L548.7 432.9L551.5 433.2L553.6 433.8L555.7 434.9L557.5 436.3L558.5 438.3L558.2 440.5L556.4 442.5L554.1 443.5Z" fill="rgb(130, 170, 222)" stroke="#3a4566" stroke-opacity="0.5" stroke-width="0.55"/>
<path d="M447.9 499.2L445.3 499.4L442.8 499.3L440.4 499.0L438.1 498.3L435.8 497.3L433.8 496.0L432.0 494.3L430.7 492.0L430.1 489.9L430.2 487.3L431.1 484.7L432.3 482.8L434.0 480.9L436.2 479.0L438.3 477.7L441.0 476.3L443.5 475.5L446.1 475.1L448.4 475.1L450.7 475.5L452.9 476.3L455.0 477.5L456.8 478.9L458.4 480.5L459.9 482.6L460.8 484.7L461.3 487.3L460.9 489.9L460.1 491.9L458.7 494.0L457.0 495.5L455.1 496.8L452.8 497.9L450.5 498.7L448.0 499.2Z" fill="rgb(132, 172, 225)" stroke="#3a4566" stroke-opacity="0.5" stroke-width="0.55"/>
<path d="M386.8 511.0L384.1 511.1L381.6 511.0L379.1 510.7L376.7 510.3L374.4 509.6L372.1 508.7L370.0 507.5L368.1 506.0L366.3 504.2L364.9 501.8L364.2 499.5L364.0 497.2L364.3 495.0L365.1 492.9L366.2 490.8L367.7 488.8L369.8 486.8L371.6 485.4L373.8 484.0L375.9 482.8L378.5 481.7L380.7 480.9L383.4 480.2L386.0 479.7L388.5 479.4L390.9 479.3L393.3 479.3L395.6 479.5L397.9 479.9L400.1 480.5L402.2 481.2L404.3 482.2L406.3 483.3L408.1 484.7L409.7 486.4L411.1 488.5L411.9 490.8L412.1 493.3L411.6 495.6L410.6 497.7L409.2 499.8L407.4 501.9L405.7 503.5L403.6 505.1L401.1 506.6L399.1 507.7L397.1 508.6L394.1 509.6L391.3 510.3L388.6 510.8Z" fill="rgb(123, 160, 209)" stroke="#3a4566" stroke-opacity="0.5" stroke-width="0.55"/>
<path d="M499.3 502.9L496.8 502.9L494.3 502.3L492.1 501.2L490.4 499.6L489.6 497.2L490.2 495.1L491.9 493.4L494.5 492.3L497.0 492.0L499.5 492.1L501.9 492.8L504.2 494.2L505.7 496.1L506.0 498.3L505.0 500.4L503.0 501.9L500.2 502.8Z" fill="rgb(131, 171, 223)" stroke="#3a4566" stroke-opacity="0.5" stroke-width="0.55"/>
<path d="M420.5 402.2L418.0 402.2L415.6 401.7L413.5 400.5L412.7 398.2L414.1 396.4L416.2 395.3L419.0 394.7L421.5 394.6L423.9 395.0L426.0 395.9L427.4 397.8L426.6 400.0L424.2 401.4L421.9 402.1Z" fill="rgb(128, 160, 207)" stroke="#3a4566" stroke-opacity="0.5" stroke-width="0.55"/>
<path d="M552.8 417.0L550.1 417.0L547.5 416.8L544.8 416.2L542.5 415.3L540.6 414.1L538.8 412.4L538.0 410.3L538.6 408.1L540.3 406.5L542.5 405.5L545.1 404.9L547.6 404.7L550.2 404.8L552.8 405.2L555.4 406.0L557.4 406.9L559.2 408.2L560.6 409.9L561.0 412.3L559.9 414.2L558.0 415.6L555.4 416.5L552.8 417.0Z" fill="rgb(135, 169, 218)" stroke="#3a4566" stroke-opacity="0.5" stroke-width="0.55"/>
<path d="M453.9 462.2L451.6 462.3L449.3 462.2L447.1 462.0L444.9 461.5L442.8 460.9L440.7 460.1L438.7 459.1L436.8 457.9L435.0 456.4L433.2 454.5L431.8 452.2L431.1 450.0L430.7 447.8L430.4 445.3L429.7 442.8L428.4 440.8L427.0 439.0L425.5 437.3L424.0 435.6L422.2 433.6L420.7 431.9L418.4 430.3L415.8 429.8L413.0 429.8L410.1 430.0L407.3 430.1L404.5 430.0L401.9 429.8L399.3 429.3L396.9 428.5L394.5 427.4L392.6 426.0L391.1 424.0L390.7 421.9L391.2 419.6L392.7 417.6L394.6 416.0L397.1 414.6L399.4 413.7L401.9 413.0L404.1 412.6L406.9 412.3L409.5 412.2L412.1 412.3L414.7 412.5L417.2 412.9L419.7 413.2L422.2 413.3L424.5 412.9L426.8 412.0L429.0 410.9L431.1 410.0L433.4 409.1L435.9 408.3L438.0 407.7L440.3 407.2L442.8 406.7L445.6 406.2L448.3 405.8L451.0 405.6L453.6 405.4L456.2 405.3L458.5 405.3L460.8 405.3L463.3 405.4L465.9 405.5L468.4 405.7L470.9 406.0L473.4 406.4L476.0 406.8L478.3 407.3L480.9 408.0L483.1 408.6L485.3 409.3L487.6 410.2L490.2 411.3L492.4 412.5L494.5 413.7L496.3 415.1L498.1 416.8L499.7 418.7L500.9 420.9L502.1 423.1L504.0 424.7L505.8 425.9L507.7 427.1L509.7 428.7L511.1 430.5L511.9 432.7L511.6 434.9L510.3 436.8L508.4 438.2L506.2 439.2L504.0 439.9L501.8 440.2L498.9 440.4L496.1 440.3L493.3 440.1L490.4 439.8L487.6 439.7L485.4 440.1L483.1 440.9L481.1 441.8L479.2 442.9L477.1 444.5L475.5 446.4L474.6 448.5L473.8 451.0L472.8 453.1L471.2 455.0L469.5 456.5L467.3 458.0L465.2 459.1L462.7 460.2L460.3 461.0L457.9 461.6L455.5 462.0Z" fill="rgb(135, 169, 217)" stroke="#3a4566" stroke-opacity="0.5" stroke-width="0.55"/>
<path d="M551.2 439.3L548.3 439.2L546.1 438.4L544.4 436.9L544.5 434.6L546.7 433.2L549.5 433.0L551.8 433.5L553.7 434.6L554.8 436.7L553.4 438.6L551.2 439.3Z" fill="rgb(141, 176, 227)" stroke="#3a4566" stroke-opacity="0.5" stroke-width="0.55"/>
<path d="M502.8 470.0L500.5 470.0L498.2 469.8L495.9 469.5L493.6 468.9L491.5 468.2L489.2 467.1L487.0 465.8L484.9 464.1L483.3 462.2L482.2 459.8L481.9 457.6L482.6 455.4L484.1 453.6L486.4 452.2L488.9 451.2L491.2 450.5L493.5 450.2L495.7 449.9L497.9 449.9L500.1 450.0L502.3 450.2L504.5 450.6L506.7 451.2L508.8 452.0L511.0 453.0L512.9 454.3L514.9 456.1L516.3 458.4L516.8 460.7L516.3 462.9L515.0 465.1L513.1 466.7L510.8 468.0L508.3 469.0L506.0 469.6L503.6 469.9Z" fill="rgb(136, 171, 220)" stroke="#3a4566" stroke-opacity="0.5" stroke-width="0.55"/>
<path d="M401.4 459.3L399.2 459.3L396.8 458.9L394.3 458.2L392.1 456.8L390.6 454.9L390.3 452.7L391.2 450.6L392.6 448.9L394.8 447.5L397.4 446.3L399.9 445.7L402.2 445.3L404.4 445.2L407.3 445.4L410.0 446.0L412.6 447.0L414.3 448.4L415.4 450.8L414.8 452.9L413.1 455.0L410.9 456.7L408.9 457.6L406.3 458.5L403.8 459.0L401.4 459.3Z" fill="rgb(138, 173, 222)" stroke="#3a4566" stroke-opacity="0.5" stroke-width="0.55"/>
<path d="M447.1 492.9L444.6 493.0L442.2 492.7L439.9 492.0L437.7 490.6L436.3 489.0L435.6 486.8L436.0 484.2L437.1 482.3L439.2 480.4L441.3 479.2L443.9 478.4L446.4 478.1L448.7 478.3L451.0 479.0L453.1 480.3L454.6 481.9L455.6 484.0L455.7 486.6L454.8 488.6L452.9 490.6L450.6 491.9L447.9 492.8Z" fill="rgb(141, 177, 228)" stroke="#3a4566" stroke-opacity="0.5" stroke-width="0.55"/>
<path d="M384.5 507.7L381.9 507.6L379.4 507.3L377.0 506.8L374.7 506.1L372.5 505.2L370.5 504.0L368.6 502.4L367.0 500.6L365.9 498.5L365.3 496.0L365.4 493.8L365.9 491.6L366.8 489.6L368.2 487.5L370.0 485.5L371.7 484.1L373.7 482.6L376.2 481.3L378.4 480.3L380.6 479.5L383.0 478.8L385.4 478.3L388.0 478.0L390.6 477.8L393.0 477.9L395.3 478.1L397.6 478.5L399.8 479.1L401.9 479.9L403.9 480.9L405.9 482.2L407.8 483.9L409.4 486.1L410.2 488.2L410.4 490.9L410.0 493.1L409.1 495.2L407.8 497.3L406.1 499.1L404.1 500.9L402.0 502.5L399.5 503.9L397.5 504.9L394.6 506.0L391.7 506.8L388.9 507.3L386.2 507.6Z" fill="rgb(129, 162, 208)" stroke="#3a4566" stroke-opacity="0.5" stroke-width="0.55"/>
<path d="M421.4 399.6L418.8 399.7L416.4 399.3L414.4 398.2L413.7 396.0L415.5 394.2L417.7 393.4L420.1 393.1L422.6 393.2L424.8 393.9L426.5 395.7L425.6 397.9L423.6 399.0Z" fill="rgb(138, 165, 208)" stroke="#3a4566" stroke-opacity="0.5" stroke-width="0.55"/>
<path d="M550.1 413.9L547.4 413.6L544.8 412.9L542.7 411.9L540.7 410.3L539.8 408.3L540.6 406.0L542.6 404.6L545.1 403.8L547.5 403.5L550.3 403.6L552.9 404.1L555.2 404.9L557.5 406.3L558.9 408.0L559.1 410.2L557.4 412.2L555.4 413.2L552.7 413.8L550.4 413.9Z" fill="rgb(147, 175, 221)" stroke="#3a4566" stroke-opacity="0.5" stroke-width="0.55"/>
<path d="M453.6 457.9L451.3 457.9L449.0 457.8L446.8 457.4L444.7 456.9L442.6 456.1L440.6 455.1L438.7 453.8L436.9 452.1L435.7 450.1L435.0 447.9L434.9 445.3L435.1 442.9L435.0 440.6L433.7 438.3L431.9 436.6L430.2 435.1L428.5 433.7L426.8 432.3L425.2 430.7L423.7 429.1L421.9 427.4L419.7 426.3L417.0 426.2L414.1 426.5L411.9 426.8L409.3 427.0L406.9 427.1L404.1 427.1L401.4 426.8L398.9 426.2L396.5 425.4L394.5 424.3L392.8 422.7L391.7 420.5L391.9 418.2L393.1 416.1L394.8 414.5L396.9 413.2L399.0 412.3L401.7 411.4L403.9 411.0L406.7 410.7L409.3 410.6L411.9 410.7L414.5 411.0L417.0 411.5L419.4 412.0L422.0 412.3L424.7 412.0L427.0 411.2L429.0 410.2L431.6 409.0L433.8 408.1L436.2 407.2L438.4 406.6L441.2 405.8L443.9 405.3L446.7 404.8L449.4 404.5L452.1 404.2L454.7 404.1L457.3 404.0L459.9 404.0L462.5 404.0L465.1 404.2L467.6 404.4L470.1 404.7L472.7 405.0L475.2 405.4L477.7 406.0L480.2 406.6L482.6 407.3L485.1 408.2L487.3 409.0L489.4 410.0L491.7 411.3L493.7 412.6L495.5 414.1L497.2 416.1L498.4 417.9L499.5 420.1L501.1 422.0L503.0 423.2L505.2 424.3L507.2 425.5L509.1 427.1L510.6 429.2L511.0 431.4L510.0 433.5L508.2 435.1L506.1 436.2L503.9 436.9L501.2 437.3L498.3 437.4L495.5 437.2L492.7 436.7L489.9 436.2L487.1 436.0L484.2 436.3L481.9 436.9L479.7 437.8L477.3 438.8L475.1 439.9L473.3 441.2L471.8 443.0L471.1 445.5L470.4 447.9L469.5 450.0L468.0 452.1L466.1 453.7L464.2 454.9L461.7 456.1L459.5 456.8L456.7 457.5L454.3 457.8Z" fill="rgb(145, 172, 218)" stroke="#3a4566" stroke-opacity="0.5" stroke-width="0.55"/>
<path d="M503.7 466.0L501.4 466.2L499.1 466.1L496.8 465.7L494.5 465.2L492.3 464.4L490.1 463.3L488.0 461.8L486.3 459.9L485.2 457.5L485.2 455.3L486.3 453.2L488.0 451.6L490.2 450.4L492.5 449.6L494.8 449.1L497.1 448.9L499.3 448.9L501.5 449.0L503.7 449.3L505.8 449.9L508.0 450.7L510.2 451.7L512.0 453.1L513.6 454.9L514.6 457.1L514.5 459.4L513.4 461.5L511.7 463.2L509.4 464.5L507.3 465.3L504.5 465.9Z" fill="rgb(147, 176, 222)" stroke="#3a4566" stroke-opacity="0.5" stroke-width="0.55"/>
<path d="M402.9 455.1L400.5 455.2L398.3 455.0L395.6 454.2L393.6 452.7L392.9 450.5L393.7 448.4L395.5 446.7L397.5 445.7L400.0 444.9L402.3 444.6L404.5 444.6L407.3 445.1L409.8 446.2L411.4 448.1L411.3 450.3L410.0 452.1L408.0 453.5L405.9 454.4L403.7 455.0Z" fill="rgb(150, 178, 225)" stroke="#3a4566" stroke-opacity="0.5" stroke-width="0.55"/>
<path d="M386.6 503.9L383.9 504.0L381.4 503.9L379.0 503.5L376.6 503.0L374.4 502.2L372.3 501.1L370.5 499.8L368.6 498.0L367.2 495.7L366.6 493.4L366.7 490.7L367.3 488.6L368.3 486.5L369.8 484.5L371.4 482.9L373.7 481.1L376.0 479.7L378.0 478.8L380.1 477.9L382.7 477.1L385.3 476.6L387.9 476.2L390.3 476.1L392.7 476.1L395.0 476.4L397.3 476.8L399.4 477.4L401.6 478.2L403.6 479.3L405.5 480.8L407.3 482.7L408.5 485.0L409.0 487.6L408.6 490.3L407.8 492.4L406.4 494.5L404.5 496.6L402.7 498.1L400.4 499.6L397.8 501.0L395.1 502.1L393.0 502.8L390.2 503.5L387.4 503.8Z" fill="rgb(138, 165, 208)" stroke="#3a4566" stroke-opacity="0.5" stroke-width="0.55"/>
<path d="M419.7 396.9L417.2 396.6L415.1 395.5L415.1 393.2L417.2 391.9L419.9 391.4L422.4 391.5L424.5 392.4L425.3 394.6L423.4 396.1L421.0 396.8Z" fill="rgb(151, 171, 211)" stroke="#3a4566" stroke-opacity="0.5" stroke-width="0.55"/>
<path d="M552.0 410.3L549.4 410.3L547.1 409.9L544.8 409.1L542.7 407.7L541.9 405.4L543.2 403.5L545.8 402.5L548.4 402.2L551.0 402.4L553.4 403.1L555.5 404.2L557.0 405.9L556.7 408.1L554.6 409.6L552.2 410.2Z" fill="rgb(161, 182, 225)" stroke="#3a4566" stroke-opacity="0.5" stroke-width="0.55"/>
<path d="M454.7 453.4L452.4 453.6L450.2 453.5L448.0 453.2L445.1 452.4L443.1 451.5L441.2 450.3L439.5 448.5L438.3 446.3L438.1 443.8L438.6 441.3L439.4 438.9L439.2 436.4L437.8 434.8L436.0 433.5L434.0 432.2L432.1 430.9L430.3 429.6L428.2 427.9L426.6 426.3L425.0 424.7L423.3 423.1L421.0 422.2L418.2 422.3L415.9 422.8L413.7 423.2L411.5 423.6L409.3 423.9L406.7 424.0L404.4 424.0L401.9 423.8L399.8 423.3L397.3 422.5L395.1 421.3L393.3 419.5L392.6 417.3L393.2 414.8L395.0 412.8L396.9 411.5L399.1 410.4L401.3 409.7L403.6 409.2L406.4 408.8L408.7 408.7L411.1 408.8L413.6 409.1L416.1 409.6L418.5 410.3L420.9 410.9L423.2 411.3L425.6 410.9L428.0 409.8L430.3 408.6L432.7 407.4L434.8 406.5L437.3 405.6L439.5 404.9L442.3 404.2L444.9 403.7L447.2 403.3L449.8 403.0L452.5 402.7L455.2 402.5L457.8 402.5L460.4 402.5L463.0 402.5L465.5 402.7L468.1 402.9L470.6 403.2L473.1 403.6L475.5 404.1L478.1 404.6L480.6 405.3L483.1 406.1L485.1 406.9L487.4 407.9L489.8 409.1L491.7 410.4L493.5 411.8L495.1 413.5L496.4 415.5L497.4 417.8L499.2 419.8L501.2 420.9L503.3 421.8L505.8 423.0L507.8 424.4L509.4 426.2L510.0 428.5L509.2 430.7L507.1 432.4L504.9 433.4L502.7 433.9L499.8 434.2L497.0 434.1L494.2 433.6L491.4 433.0L488.6 432.3L485.8 432.0L483.4 432.3L481.1 433.0L478.4 433.9L476.3 434.6L473.8 435.6L471.5 436.6L469.5 437.8L468.3 439.8L468.0 442.2L467.7 444.7L466.9 446.8L465.5 448.7L463.7 450.3L461.3 451.6L458.7 452.6L456.3 453.2Z" fill="rgb(156, 177, 219)" stroke="#3a4566" stroke-opacity="0.5" stroke-width="0.55"/>
<path d="M503.1 461.8L500.7 461.9L498.4 461.7L496.2 461.3L493.9 460.6L491.8 459.4L489.7 457.8L488.4 455.9L488.0 453.7L488.8 451.5L490.5 449.9L492.7 448.8L495.1 448.1L497.6 447.7L499.9 447.6L502.1 447.8L504.3 448.2L506.4 448.9L508.6 450.0L510.6 451.6L511.9 453.4L512.3 455.6L511.5 457.8L509.9 459.5L507.8 460.7L505.4 461.4L503.1 461.8Z" fill="rgb(160, 182, 225)" stroke="#3a4566" stroke-opacity="0.5" stroke-width="0.55"/>
<path d="M402.1 450.3L399.9 450.2L397.7 449.4L396.7 447.2L398.6 445.2L400.7 444.4L403.0 444.2L405.6 444.8L407.3 446.6L406.3 448.7L404.1 449.8Z" fill="rgb(165, 188, 232)" stroke="#3a4566" stroke-opacity="0.5" stroke-width="0.55"/>
<path d="M384.3 500.1L381.8 500.0L379.3 499.6L377.0 499.0L374.8 498.2L372.7 497.0L370.7 495.5L369.0 493.5L368.1 491.1L367.8 488.9L368.3 486.3L369.2 484.2L370.6 482.2L372.6 480.2L374.5 478.8L376.5 477.6L378.5 476.6L380.9 475.6L383.2 475.0L385.8 474.4L388.4 474.1L390.8 474.0L393.2 474.2L395.5 474.5L397.7 475.0L399.8 475.7L401.9 476.7L403.9 478.0L405.7 479.8L407.0 482.0L407.5 484.1L407.4 486.7L406.7 488.8L405.4 490.9L403.8 492.8L401.8 494.5L399.6 496.0L397.2 497.3L394.3 498.5L391.4 499.3L388.7 499.8L386.0 500.1Z" fill="rgb(149, 168, 208)" stroke="#3a4566" stroke-opacity="0.5" stroke-width="0.55"/>
<path d="M419.9 393.8L417.5 393.5L415.8 392.0L417.6 390.0L420.3 389.5L422.7 389.9L424.3 391.6L422.7 393.2L420.1 393.8Z" fill="rgb(166, 182, 217)" stroke="#3a4566" stroke-opacity="0.5" stroke-width="0.55"/>
<path d="M550.6 406.2L548.0 406.0L545.6 405.0L544.7 403.0L546.5 401.5L549.1 401.2L551.7 401.6L553.7 402.7L553.9 405.1L551.3 406.2Z" fill="rgb(178, 194, 232)" stroke="#3a4566" stroke-opacity="0.5" stroke-width="0.55"/>
<path d="M452.0 449.0L449.8 448.9L447.2 448.3L444.9 447.4L443.0 446.1L441.5 444.1L440.9 442.0L441.4 439.5L442.4 437.5L443.6 435.5L443.8 433.2L442.0 431.5L440.0 430.3L438.1 429.3L435.7 428.0L433.5 426.7L431.6 425.5L429.6 423.8L427.9 422.2L426.3 420.3L424.8 418.7L422.4 417.7L419.8 418.1L417.1 418.9L414.8 419.5L412.5 420.1L410.3 420.5L408.0 420.7L405.3 420.8L402.6 420.6L400.0 420.1L397.9 419.4L395.9 418.3L394.2 416.6L393.5 414.4L394.4 412.0L396.0 410.3L397.9 409.0L400.0 408.1L402.7 407.3L405.5 406.9L408.3 406.7L410.9 406.8L413.4 407.1L415.9 407.7L418.1 408.4L420.6 409.4L422.9 410.2L425.3 410.2L427.4 409.3L429.4 408.0L431.5 406.8L433.8 405.6L435.9 404.7L438.2 403.8L440.6 403.1L442.7 402.5L445.5 401.9L448.3 401.5L450.7 401.2L453.0 401.0L455.6 400.8L458.2 400.7L460.8 400.7L463.4 400.8L466.0 401.0L468.5 401.2L471.1 401.6L473.6 402.0L476.1 402.5L478.6 403.1L480.8 403.8L482.9 404.5L485.4 405.6L487.9 406.8L490.2 408.3L492.0 409.8L493.6 411.6L494.8 413.7L495.7 415.9L497.6 417.7L499.8 418.7L501.9 419.4L504.0 420.3L506.3 421.5L508.1 423.1L509.1 425.3L508.4 427.6L506.4 429.2L504.2 430.2L502.0 430.6L499.2 430.8L496.3 430.6L493.6 430.0L491.1 429.2L488.8 428.5L486.0 428.0L483.2 428.2L481.0 428.8L478.7 429.5L476.4 430.2L474.2 430.9L471.9 431.6L469.7 432.3L467.3 433.2L465.4 434.4L464.6 436.8L464.9 439.2L464.9 441.7L463.9 444.2L462.0 446.2L460.0 447.3L457.5 448.3L455.1 448.8L452.8 449.0Z" fill="rgb(168, 184, 220)" stroke="#3a4566" stroke-opacity="0.5" stroke-width="0.55"/>
<path d="M503.2 457.1L500.9 457.2L498.6 457.0L496.4 456.5L494.2 455.5L492.3 454.1L491.1 451.8L491.9 449.3L493.6 447.8L495.8 446.9L498.2 446.5L500.4 446.4L502.7 446.7L504.8 447.3L507.0 448.4L509.0 450.3L509.5 452.5L508.5 454.6L506.4 456.1L504.0 456.9Z" fill="rgb(176, 192, 229)" stroke="#3a4566" stroke-opacity="0.5" stroke-width="0.55"/>
<path d="M386.3 495.9L383.8 496.0L381.3 495.8L379.0 495.3L376.6 494.6L374.4 493.6L372.4 492.3L370.7 490.4L369.4 488.0L369.1 485.8L369.4 483.5L370.4 481.3L371.9 479.2L373.6 477.5L375.9 475.8L378.1 474.6L380.5 473.6L382.8 472.8L385.5 472.2L388.0 471.9L390.5 471.8L392.9 471.9L395.2 472.2L397.4 472.8L399.5 473.5L401.5 474.6L403.4 476.1L405.2 478.2L406.0 480.3L406.1 483.0L405.4 485.6L404.1 487.6L402.2 489.7L400.3 491.2L397.9 492.7L395.9 493.7L393.7 494.5L390.8 495.3L388.1 495.8Z" fill="rgb(160, 174, 209)" stroke="#3a4566" stroke-opacity="0.5" stroke-width="0.55"/>
<path d="M420.9 390.5L418.4 390.4L418.7 388.1L421.2 388.0L422.2 390.0Z" fill="rgb(186, 198, 228)" stroke="#3a4566" stroke-opacity="0.5" stroke-width="0.55"/>
<path d="M452.4 444.4L450.2 444.3L447.4 443.5L445.5 442.3L444.1 440.6L443.9 438.1L444.9 436.1L446.6 434.1L448.4 432.6L449.7 430.7L448.0 429.1L445.7 428.0L443.1 426.9L440.9 426.0L438.7 425.0L436.4 423.8L434.4 422.7L432.5 421.3L430.6 419.7L428.9 418.0L427.5 416.1L426.2 414.0L425.0 411.8L426.4 409.8L428.1 408.3L429.8 406.9L431.7 405.5L434.1 404.1L436.6 402.9L438.8 402.0L441.0 401.3L443.2 400.8L446.0 400.1L448.7 399.7L451.2 399.4L453.4 399.2L456.1 399.0L458.7 398.9L461.3 398.9L463.9 399.1L466.5 399.2L469.0 399.5L471.5 399.9L474.1 400.3L476.6 400.9L479.1 401.6L481.6 402.4L484.0 403.4L486.2 404.5L488.3 405.8L490.1 407.2L491.6 408.9L492.9 411.0L493.6 413.1L495.1 415.2L497.2 416.1L499.7 416.8L501.9 417.5L504.0 418.3L506.1 419.5L507.8 421.4L508.0 423.7L506.6 425.5L504.3 426.7L502.1 427.3L499.2 427.5L496.4 427.2L494.1 426.7L491.6 425.8L489.4 424.9L486.9 424.1L484.1 424.0L481.9 424.5L479.7 425.1L477.4 425.8L475.2 426.5L472.9 427.1L470.8 427.7L468.5 428.2L466.2 428.8L463.9 429.4L461.6 430.1L459.7 431.7L460.7 434.1L461.7 436.1L462.2 438.3L461.3 440.7L459.8 442.3L457.7 443.5L455.5 444.1L453.2 444.4Z" fill="rgb(183, 195, 225)" stroke="#3a4566" stroke-opacity="0.5" stroke-width="0.55"/>
<path d="M406.2 417.6L403.5 417.5L400.9 417.1L398.7 416.5L396.7 415.4L395.0 413.7L394.4 411.5L395.2 409.5L396.9 407.8L399.0 406.6L401.3 405.7L403.5 405.1L406.0 404.7L408.7 404.6L411.3 404.8L413.8 405.2L416.2 405.9L418.5 406.9L420.5 408.1L422.3 409.6L423.1 411.7L420.9 413.4L418.5 414.7L416.3 415.6L413.5 416.5L411.3 417.1L409.0 417.4L406.2 417.6Z" fill="rgb(174, 185, 213)" stroke="#3a4566" stroke-opacity="0.5" stroke-width="0.55"/>
<path d="M501.9 451.8L499.6 451.8L497.4 451.2L495.4 449.6L495.9 447.0L497.9 446.1L500.2 445.8L502.4 446.2L504.6 447.3L505.3 449.7L503.5 451.3Z" fill="rgb(193, 206, 237)" stroke="#3a4566" stroke-opacity="0.5" stroke-width="0.55"/>
<path d="M384.1 491.9L381.6 491.7L379.2 491.2L377.0 490.5L374.8 489.5L372.9 488.0L371.3 486.1L370.4 483.9L370.4 481.2L371.3 478.6L372.7 476.6L374.6 474.7L376.5 473.3L378.6 472.1L381.3 471.1L383.4 470.4L386.0 469.9L388.6 469.6L391.0 469.5L393.3 469.7L395.6 470.1L397.8 470.8L399.9 471.7L401.8 473.0L403.6 474.9L404.7 477.1L404.9 479.7L404.1 482.3L402.9 484.3L400.9 486.4L398.9 487.9L396.2 489.4L394.0 490.3L391.2 491.1L388.6 491.6L385.8 491.9Z" fill="rgb(171, 182, 210)" stroke="#3a4566" stroke-opacity="0.5" stroke-width="0.55"/>
<path d="M459.9 425.5L457.0 425.6L454.2 425.5L451.4 425.0L449.3 424.5L446.8 423.8L444.6 423.1L442.2 422.2L440.0 421.3L437.9 420.3L435.9 419.2L433.7 417.8L431.7 416.0L430.1 414.1L428.9 411.9L428.4 409.7L429.1 407.3L430.7 405.4L432.6 403.8L434.4 402.5L436.7 401.3L438.8 400.4L441.3 399.6L443.6 398.9L446.4 398.3L449.2 397.8L451.5 397.5L453.9 397.3L456.5 397.1L459.2 397.1L461.8 397.1L464.4 397.2L467.0 397.4L469.5 397.8L472.0 398.2L474.6 398.7L477.1 399.3L479.3 400.0L481.4 400.7L483.9 401.8L486.0 402.9L488.0 404.4L489.8 406.2L491.1 408.3L491.8 410.4L492.5 412.5L494.9 413.9L497.6 414.5L500.3 415.0L503.0 415.9L504.9 416.9L506.8 418.7L507.0 420.9L505.5 422.7L503.2 423.7L500.7 424.1L497.9 424.1L495.4 423.6L493.1 422.9L491.1 421.9L489.1 420.8L486.4 419.9L484.1 420.0L481.6 420.6L479.2 421.4L476.9 422.1L474.7 422.8L472.4 423.3L470.2 423.8L468.0 424.3L465.8 424.7L463.6 425.0L461.3 425.3Z" fill="rgb(194, 201, 224)" stroke="#3a4566" stroke-opacity="0.5" stroke-width="0.55"/>
<path d="M407.8 414.4L405.0 414.5L402.4 414.2L399.8 413.6L397.8 412.7L396.1 411.2L395.3 409.0L396.1 406.9L397.8 405.3L399.8 404.2L402.2 403.3L404.4 402.8L407.2 402.6L409.9 402.6L412.4 402.9L414.6 403.5L417.1 404.5L419.0 405.8L420.2 407.6L419.5 410.0L417.3 411.6L414.6 412.9L412.3 413.6L410.1 414.1L407.8 414.4Z" fill="rgb(183, 190, 212)" stroke="#3a4566" stroke-opacity="0.5" stroke-width="0.55"/>
<path d="M454.5 439.2L452.2 439.3L449.9 438.9L447.9 437.5L447.6 435.0L449.3 433.1L451.7 432.0L454.1 431.8L456.8 432.7L458.4 434.4L458.3 436.9L456.5 438.4Z" fill="rgb(206, 214, 239)" stroke="#3a4566" stroke-opacity="0.5" stroke-width="0.55"/>
<path d="M387.0 487.8L384.4 487.8L381.9 487.6L379.5 487.2L377.3 486.4L375.3 485.3L373.3 483.7L371.9 481.3L371.5 478.6L372.2 476.1L373.5 474.1L375.3 472.1L377.2 470.7L379.2 469.7L381.9 468.5L384.9 467.7L387.2 467.4L389.9 467.2L392.3 467.3L394.6 467.6L396.8 468.2L398.9 469.1L400.8 470.4L402.6 472.3L403.5 474.4L403.6 477.0L402.6 479.6L401.1 481.6L399.5 483.1L397.5 484.5L395.4 485.6L393.2 486.5L390.6 487.2L387.8 487.7Z" fill="rgb(183, 190, 212)" stroke="#3a4566" stroke-opacity="0.5" stroke-width="0.55"/>
<path d="M460.9 421.3L458.1 421.4L455.2 421.2L452.5 420.9L449.8 420.4L447.1 419.8L444.5 419.0L441.9 418.1L439.6 417.1L437.6 416.1L435.4 414.6L433.6 413.2L432.1 411.6L430.9 409.4L430.4 406.9L431.2 404.5L432.8 402.6L434.8 401.0L436.8 399.8L438.9 398.8L441.2 397.9L443.4 397.2L445.5 396.7L448.3 396.1L451.0 395.7L453.6 395.4L456.4 395.3L459.0 395.2L461.6 395.2L464.2 395.3L466.8 395.6L469.4 395.9L471.9 396.3L474.4 396.8L476.9 397.5L479.4 398.3L481.7 399.2L483.7 400.2L485.7 401.4L487.4 402.8L488.9 404.5L489.8 406.6L490.2 409.1L490.8 411.3L493.4 412.3L496.1 412.5L498.9 412.7L501.6 413.3L504.0 414.4L505.8 415.9L506.1 418.1L504.4 419.8L502.2 420.6L499.3 420.9L496.8 420.6L494.5 420.0L492.5 419.0L490.6 417.7L488.7 416.1L486.0 415.6L483.8 416.1L481.6 416.8L479.4 417.5L477.1 418.3L474.9 418.9L472.6 419.5L470.4 420.0L468.2 420.4L466.0 420.8L463.8 421.0L461.1 421.3Z" fill="rgb(202, 207, 225)" stroke="#3a4566" stroke-opacity="0.5" stroke-width="0.55"/>
<path d="M406.6 411.3L403.9 411.3L401.3 410.8L398.9 410.0L397.1 408.6L396.2 406.5L397.2 404.1L399.3 402.5L402.0 401.3L404.2 400.8L406.4 400.5L409.0 400.5L411.6 400.8L414.0 401.4L416.3 402.4L418.1 403.8L418.6 406.3L416.9 408.3L415.0 409.4L412.5 410.3L410.2 410.9L408.0 411.2Z" fill="rgb(191, 196, 213)" stroke="#3a4566" stroke-opacity="0.5" stroke-width="0.55"/>
<path d="M384.7 483.8L382.2 483.6L379.9 483.1L377.7 482.3L375.6 481.1L373.9 479.3L372.9 477.1L372.9 474.5L373.9 472.0L375.5 470.1L377.2 468.7L379.5 467.3L381.7 466.3L384.1 465.6L386.3 465.1L388.7 464.9L391.2 464.9L393.5 465.2L395.8 465.7L397.9 466.6L399.8 467.8L401.5 469.7L402.4 471.8L402.3 474.3L401.1 476.8L399.4 478.8L397.4 480.3L394.8 481.7L392.4 482.7L390.0 483.3L387.3 483.7L384.7 483.8Z" fill="rgb(192, 197, 214)" stroke="#3a4566" stroke-opacity="0.5" stroke-width="0.55"/>
<path d="M461.2 417.5L458.3 417.5L455.5 417.4L452.8 417.1L450.1 416.6L447.4 416.0L444.8 415.3L442.2 414.3L440.0 413.3L438.0 412.2L436.1 410.9L434.4 409.4L433.0 407.6L432.3 405.4L432.5 403.0L433.6 401.1L435.2 399.5L437.5 397.9L439.9 396.7L442.1 395.9L444.6 395.1L447.1 394.5L449.5 394.1L452.2 393.7L454.9 393.4L457.6 393.3L460.2 393.3L462.8 393.3L465.4 393.5L468.0 393.8L470.2 394.1L472.4 394.5L474.9 395.1L477.2 395.7L479.3 396.5L481.7 397.5L483.8 398.7L485.7 400.1L487.2 401.8L488.2 403.9L488.4 406.3L487.9 408.7L486.3 410.7L484.0 411.9L481.8 412.8L479.7 413.6L477.3 414.5L475.1 415.2L472.8 415.8L470.6 416.3L468.4 416.7L466.2 417.0L463.3 417.3Z" fill="rgb(213, 216, 229)" stroke="#3a4566" stroke-opacity="0.5" stroke-width="0.55"/>
<path d="M404.7 408.2L402.1 407.8L399.7 407.0L397.9 405.7L397.1 403.6L398.1 401.6L400.0 400.1L402.5 399.1L404.7 398.6L407.5 398.4L410.1 398.5L412.6 399.0L414.7 399.7L416.8 401.2L417.3 403.6L415.6 405.6L413.6 406.7L411.3 407.5L409.0 408.0L406.1 408.2Z" fill="rgb(203, 206, 219)" stroke="#3a4566" stroke-opacity="0.5" stroke-width="0.55"/>
<path d="M500.8 417.5L498.0 417.4L495.3 416.8L493.3 415.7L491.5 413.9L492.2 411.4L494.6 410.8L497.0 410.6L499.5 410.8L502.2 411.5L504.1 412.7L505.2 414.6L503.7 416.6L501.5 417.4Z" fill="rgb(210, 213, 226)" stroke="#3a4566" stroke-opacity="0.5" stroke-width="0.55"/>
<path d="M386.7 479.7L384.2 479.7L381.8 479.4L379.5 478.8L377.4 477.8L375.5 476.3L374.2 474.1L374.0 471.9L374.8 469.5L376.3 467.5L378.2 465.9L380.2 464.7L382.3 463.8L385.0 463.1L387.7 462.6L390.1 462.6L392.5 462.7L394.7 463.2L396.9 464.0L398.8 465.3L400.4 467.0L401.2 469.6L400.7 472.1L399.5 474.1L397.4 476.0L395.2 477.4L393.2 478.3L390.3 479.2L387.6 479.6Z" fill="rgb(205, 208, 221)" stroke="#3a4566" stroke-opacity="0.5" stroke-width="0.55"/>
<path d="M458.6 413.8L455.8 413.7L453.0 413.4L450.6 413.0L448.3 412.5L445.7 411.8L443.2 410.9L441.0 410.0L438.9 408.8L436.8 407.3L435.1 405.5L434.0 403.3L434.0 400.9L435.2 398.6L436.8 397.0L439.0 395.6L441.0 394.6L443.3 393.7L445.8 393.0L448.5 392.4L450.7 392.0L453.3 391.7L455.6 391.5L458.1 391.4L460.7 391.3L463.3 391.4L465.9 391.6L468.5 391.9L471.0 392.3L473.5 392.9L476.0 393.6L478.5 394.4L481.0 395.5L483.0 396.7L484.7 398.1L486.1 399.9L486.8 402.2L486.4 404.6L485.2 406.6L483.0 408.3L480.5 409.6L478.2 410.5L476.0 411.3L473.8 412.0L471.5 412.5L469.3 413.0L467.2 413.3L464.3 413.6L461.4 413.8L458.6 413.8Z" fill="rgb(222, 224, 232)" stroke="#3a4566" stroke-opacity="0.5" stroke-width="0.55"/>
<path d="M407.0 405.1L404.3 405.0L401.7 404.5L399.5 403.5L398.1 401.7L398.8 399.4L400.5 398.0L403.0 396.9L405.2 396.5L408.0 396.3L410.6 396.5L412.9 397.1L415.0 398.2L416.2 400.3L415.2 402.3L413.2 403.6L410.7 404.5L408.5 404.9Z" fill="rgb(215, 217, 225)" stroke="#3a4566" stroke-opacity="0.5" stroke-width="0.55"/>
<path d="M500.9 414.0L498.1 414.1L495.4 413.2L493.5 411.7L494.5 409.3L496.6 408.8L499.4 408.8L502.1 409.6L503.8 411.1L503.0 413.3L500.9 414.0Z" fill="rgb(222, 223, 232)" stroke="#3a4566" stroke-opacity="0.5" stroke-width="0.55"/>
<path d="M387.9 475.5L385.4 475.7L382.9 475.5L380.7 475.0L378.4 474.0L376.7 472.6L375.4 470.5L375.4 467.9L376.7 465.4L378.7 463.6L380.9 462.2L383.0 461.3L385.6 460.6L388.2 460.3L390.6 460.3L392.9 460.6L395.1 461.2L397.2 462.3L398.8 463.8L399.8 465.8L399.6 468.4L398.5 470.3L396.8 472.1L394.6 473.5L392.6 474.4L389.7 475.2Z" fill="rgb(217, 219, 227)" stroke="#3a4566" stroke-opacity="0.5" stroke-width="0.55"/>
<path d="M462.3 410.2L459.5 410.3L456.7 410.2L453.9 409.9L451.2 409.5L448.6 409.0L446.1 408.3L443.8 407.4L441.6 406.5L439.3 405.1L437.5 403.6L436.1 401.8L435.4 399.4L436.1 397.0L437.6 395.2L439.4 393.9L441.5 392.7L443.6 391.9L446.2 391.0L448.5 390.5L451.2 390.0L453.9 389.7L456.6 389.5L459.3 389.4L461.9 389.4L464.5 389.6L467.1 389.8L469.6 390.2L472.1 390.7L474.6 391.3L477.1 392.1L479.2 393.0L481.2 394.1L483.0 395.5L484.5 397.2L485.3 399.5L484.8 401.8L483.3 403.9L481.0 405.5L478.4 406.7L476.2 407.6L474.1 408.3L471.8 408.9L469.5 409.4L467.3 409.7L464.5 410.1Z" fill="rgb(227, 228, 235)" stroke="#3a4566" stroke-opacity="0.5" stroke-width="0.55"/>
<path d="M408.0 401.8L405.2 401.9L402.6 401.5L400.5 400.6L399.1 398.9L400.0 396.7L401.9 395.4L404.3 394.6L407.1 394.2L409.7 394.4L412.2 394.9L414.3 396.2L414.8 398.6L413.0 400.3L411.0 401.2L408.7 401.7Z" fill="rgb(224, 225, 232)" stroke="#3a4566" stroke-opacity="0.5" stroke-width="0.55"/>
<path d="M500.3 410.5L497.5 410.3L495.5 409.2L496.5 407.2L499.3 407.0L501.8 408.0L501.0 410.3Z" fill="rgb(231, 232, 239)" stroke="#3a4566" stroke-opacity="0.5" stroke-width="0.55"/>
<path d="M385.7 471.6L383.3 471.3L381.0 470.8L378.9 469.7L377.3 467.9L376.7 465.3L377.8 462.9L379.7 461.0L381.9 459.7L384.1 458.8L387.0 458.2L389.5 458.0L391.8 458.2L394.1 458.8L396.1 459.8L397.9 461.6L398.4 464.1L397.5 466.6L395.6 468.5L393.2 469.9L391.1 470.8L388.3 471.4L385.8 471.6Z" fill="rgb(225, 227, 234)" stroke="#3a4566" stroke-opacity="0.5" stroke-width="0.55"/>
<path d="M461.8 406.8L459.0 406.8L456.2 406.7L453.5 406.4L450.8 405.9L448.4 405.4L446.2 404.7L443.7 403.7L441.4 402.5L439.6 401.3L438.0 399.7L437.1 397.5L437.3 395.2L438.6 393.3L440.5 391.7L442.7 390.5L444.8 389.7L447.5 388.9L449.8 388.3L452.4 387.9L454.8 387.6L457.1 387.5L459.8 387.4L462.4 387.5L465.0 387.6L467.6 387.9L470.1 388.3L472.3 388.8L474.5 389.4L477.0 390.3L479.3 391.4L481.2 392.7L482.9 394.5L483.7 396.5L483.3 398.8L481.8 400.8L479.6 402.4L477.1 403.6L474.9 404.5L472.6 405.2L470.4 405.7L468.2 406.1L465.3 406.5L462.5 406.7Z" fill="rgb(233, 234, 239)" stroke="#3a4566" stroke-opacity="0.5" stroke-width="0.55"/>
<path d="M406.8 398.7L404.1 398.6L401.7 397.8L400.3 396.0L401.3 394.0L403.7 392.8L406.2 392.3L408.8 392.3L411.3 392.8L413.2 394.0L413.3 396.3L411.3 397.7L409.0 398.4Z" fill="rgb(232, 233, 238)" stroke="#3a4566" stroke-opacity="0.5" stroke-width="0.55"/>
<path d="M388.8 467.0L386.1 467.3L383.7 467.1L381.5 466.4L379.5 465.1L378.4 462.8L379.0 460.5L380.6 458.7L382.8 457.3L385.6 456.3L388.2 456.0L390.7 456.0L392.9 456.5L395.0 457.5L396.5 459.4L396.6 461.9L395.4 463.8L393.7 465.2L391.6 466.2L389.0 467.0Z" fill="rgb(234, 234, 240)" stroke="#3a4566" stroke-opacity="0.5" stroke-width="0.55"/>
<path d="M461.3 403.3L458.5 403.3L455.7 403.1L453.0 402.8L450.3 402.3L447.7 401.6L445.4 400.8L443.4 399.8L441.3 398.5L439.5 396.7L438.6 394.6L439.0 392.3L440.5 390.5L442.7 389.0L445.0 387.9L447.2 387.1L449.4 386.6L452.2 386.0L454.6 385.7L457.0 385.5L459.6 385.5L462.2 385.5L464.8 385.7L467.4 386.0L470.0 386.4L472.5 387.0L474.6 387.6L476.8 388.5L479.1 389.8L481.0 391.4L482.1 393.5L481.9 395.8L480.5 397.7L478.3 399.3L475.8 400.6L473.6 401.4L471.3 402.0L469.1 402.5L467.0 402.9L464.5 403.1L462.0 403.3Z" fill="rgb(239, 239, 242)" stroke="#3a4566" stroke-opacity="0.5" stroke-width="0.55"/>
<path d="M407.8 395.3L405.1 395.3L402.7 394.5L402.3 392.2L404.2 391.0L406.5 390.5L409.1 390.5L411.3 391.3L411.8 393.6L409.6 394.9Z" fill="rgb(240, 240, 244)" stroke="#3a4566" stroke-opacity="0.5" stroke-width="0.55"/>
<path d="M386.7 462.7L384.4 462.5L382.1 461.6L380.7 459.8L381.2 457.3L383.0 455.7L385.0 454.7L387.7 454.2L390.1 454.2L392.3 454.8L394.2 456.3L394.5 458.6L393.1 460.5L390.8 461.9L388.4 462.5Z" fill="rgb(241, 241, 245)" stroke="#3a4566" stroke-opacity="0.5" stroke-width="0.55"/>
<path d="M460.0 399.9L457.3 399.8L454.5 399.6L451.9 399.1L449.2 398.5L446.7 397.6L444.6 396.7L442.5 395.4L441.0 393.8L440.1 391.8L440.7 389.5L442.2 387.9L444.4 386.5L447.0 385.4L449.2 384.8L452.0 384.2L454.4 383.8L456.7 383.6L459.5 383.5L462.1 383.5L464.7 383.7L467.3 384.0L469.8 384.5L472.3 385.1L474.8 386.0L477.2 387.1L479.0 388.4L480.5 390.5L480.5 392.8L479.2 394.7L477.0 396.3L474.5 397.5L472.3 398.2L470.1 398.8L467.9 399.3L465.0 399.7L462.1 399.9Z" fill="rgb(242, 242, 246)" stroke="#3a4566" stroke-opacity="0.5" stroke-width="0.55"/>
<path d="M407.0 391.5L404.8 390.7L406.6 389.2L408.9 389.3L407.7 391.5Z" fill="rgb(245, 245, 249)" stroke="#3a4566" stroke-opacity="0.5" stroke-width="0.55"/>
<path d="M387.1 456.6L385.6 454.9L388.2 453.8L389.6 455.7L387.1 456.6Z" fill="rgb(246, 246, 250)" stroke="#3a4566" stroke-opacity="0.5" stroke-width="0.55"/>
<path d="M459.5 396.5L456.8 396.3L454.1 396.0L451.4 395.5L449.3 395.0L447.1 394.2L444.9 393.1L443.1 391.6L441.8 389.6L442.1 387.3L443.7 385.5L445.7 384.3L448.2 383.3L450.4 382.6L452.9 382.1L455.3 381.8L458.0 381.6L460.5 381.5L463.3 381.6L465.9 381.9L468.4 382.3L470.9 382.9L473.4 383.7L475.7 384.8L477.6 386.1L478.9 388.1L478.7 390.4L477.1 392.3L475.1 393.5L473.1 394.4L470.3 395.3L468.0 395.8L465.2 396.2L462.3 396.4L459.8 396.5Z" fill="rgb(245, 245, 249)" stroke="#3a4566" stroke-opacity="0.5" stroke-width="0.55"/>
<path d="M463.2 393.0L460.4 393.1L457.6 393.0L454.9 392.7L452.3 392.2L449.7 391.5L447.3 390.5L445.1 389.1L443.6 387.1L443.8 384.8L445.5 383.0L447.6 381.8L449.9 381.0L452.3 380.4L454.7 380.0L457.1 379.7L459.8 379.6L462.4 379.7L465.1 379.9L467.4 380.2L470.2 380.9L472.6 381.7L474.8 382.8L476.7 384.4L477.4 386.7L476.0 388.9L473.7 390.5L471.6 391.3L469.0 392.1L466.8 392.5L463.9 392.9Z" fill="rgb(247, 247, 251)" stroke="#3a4566" stroke-opacity="0.5" stroke-width="0.55"/>
<path d="M462.0 389.6L459.2 389.6L456.5 389.4L453.8 389.0L451.3 388.4L448.8 387.4L446.8 386.2L445.3 384.2L445.8 382.0L447.4 380.5L449.8 379.3L452.0 378.7L454.9 378.1L457.4 377.8L459.6 377.7L462.3 377.8L464.9 378.0L467.4 378.4L469.8 379.0L472.4 380.1L474.4 381.4L475.6 383.4L474.7 385.6L473.0 387.0L470.7 388.0L468.4 388.7L466.3 389.1L463.4 389.5Z" fill="rgb(247, 247, 251)" stroke="#3a4566" stroke-opacity="0.5" stroke-width="0.55"/>
<path d="M458.7 386.1L456.0 385.8L453.4 385.3L450.9 384.5L448.8 383.3L447.3 381.4L448.0 379.2L450.2 377.7L452.5 376.9L454.6 376.4L457.4 376.0L460.1 375.9L462.7 376.0L465.3 376.3L467.9 376.8L470.4 377.7L472.5 379.0L473.5 381.3L472.3 383.1L470.3 384.3L467.9 385.2L465.8 385.7L463.5 386.0L460.8 386.1Z" fill="rgb(247, 247, 251)" stroke="#3a4566" stroke-opacity="0.5" stroke-width="0.55"/>
<path d="M460.4 382.5L457.9 382.4L455.7 382.1L453.1 381.4L450.7 380.2L449.6 378.2L451.2 376.1L453.6 375.1L455.7 374.6L458.4 374.3L461.2 374.2L463.8 374.4L466.4 374.9L468.5 375.7L470.6 377.0L471.0 379.2L469.3 380.7L467.3 381.6L465.2 382.1L462.5 382.5Z" fill="rgb(248, 248, 251)" stroke="#3a4566" stroke-opacity="0.5" stroke-width="0.55"/>
<path d="M461.4 378.7L458.6 378.6L456.0 378.2L453.9 377.4L452.6 375.4L454.6 373.7L456.8 373.1L459.5 372.8L462.2 372.9L464.8 373.3L467.0 374.2L467.9 376.4L465.7 377.9L463.5 378.5Z" fill="rgb(248, 248, 251)" stroke="#3a4566" stroke-opacity="0.5" stroke-width="0.55"/>
<text x="329" y="366.8" font-size="21.5" font-weight="bold">c</text>
<text x="413.4" y="569.5" font-size="20" textLength="106.5" lengthAdjust="spacingAndGlyphs">B - mapping</text><defs><linearGradient id="slab" x1="0" y1="0" x2="0" y2="1"><stop offset="0" stop-color="#76b5e7"/><stop offset="0.5" stop-color="#6cb0e3"/><stop offset="1" stop-color="#6aaee4"/></linearGradient></defs>
<path d="M15.7 510.6L299.3 530.7L300.4 538.5000000000001L15.8 517.2Z" fill="#5a9fdd"/>
<path d="M278 395.3L299.3 530.7L300.6 538.5000000000001L279 396.5Z" fill="#8cbdec"/>
<path d="M77.5 384.5L278 395.3L299.3 530.7L15.7 510.6Z" fill="url(#slab)"/>
<path d="M77.5 384.5L278.0 395.3L278.3 397.0L76.7 386.1Z" fill="#9cc8ef" opacity="0.75"/>
<path d="M17.0 507.9L298.8 527.8L299.3 530.7L15.7 510.6Z" fill="#6fb0ec" opacity="0.6"/>
<path d="M89.4 398.7L125.2 400.7L123.3 406.5L86.9 404.4Z" fill="#4e8fc9" opacity="0.55"/><path d="M99.9 402.9L104.5 403.2L101.8 410.3L97.1 410.0Z" fill="#4e8fc9" opacity="0.5"/><path d="M107.8 403.3L112.6 403.6L110.0 410.8L105.2 410.5Z" fill="#4e8fc9" opacity="0.5"/><path d="M103.6 394.5L107.3 394.7L106.1 397.8L102.4 397.6Z" fill="#d8c794" /><path d="M102.1 397.4L106.6 397.6L106.0 399.0L101.5 398.7Z" fill="#787c80" /><path d="M111.3 394.9L115.2 395.2L114.1 398.2L110.2 398.0Z" fill="#d8c794" /><path d="M109.8 397.8L114.5 398.1L114.1 399.4L109.3 399.2Z" fill="#787c80" /><path d="M100.1 402.9L104.3 403.1L102.2 408.7L97.9 408.4Z" fill="#e9dfba" /><path d="M99.9 402.9L104.5 403.2L103.9 404.6L99.3 404.3Z" fill="#787c80" /><path d="M98.6 406.1L103.2 406.4L103.0 407.0L98.4 406.8Z" fill="#a89868" opacity="0.6"/><path d="M108.0 403.4L112.4 403.6L110.4 409.1L106.0 408.9Z" fill="#e9dfba" /><path d="M107.8 403.3L112.6 403.6L112.1 405.0L107.3 404.8Z" fill="#787c80" /><path d="M106.6 406.6L111.4 406.9L111.2 407.5L106.4 407.2Z" fill="#a89868" opacity="0.6"/><path d="M90.0 397.3L99.0 397.8L96.8 403.1L87.7 402.6Z" fill="#d8c794" /><path d="M92.5 397.4L94.1 397.5L91.9 402.9L90.2 402.8Z" fill="#e9dfba" /><path d="M116.9 399.0L125.1 399.5L123.3 405.2L114.9 404.8Z" fill="#d8c794" /><path d="M121.0 399.2L122.3 399.3L120.4 405.1L119.1 405.0Z" fill="#a89868" opacity="0.8"/><path d="M122.1 399.7L125.0 399.8L123.3 405.2L120.4 405.1Z" fill="#e9dfba" /><path d="M98.1 398.5L117.3 399.6L115.9 403.8L96.4 402.7Z" fill="#787c80" /><path d="M96.5 402.3L116.0 403.4L115.8 404.2L96.2 403.1Z" fill="#5d6670" opacity="0.7"/>
<path d="M134.5 401.2L170.7 403.2L169.6 409.1L132.8 407.0Z" fill="#4e8fc9" opacity="0.55"/><path d="M145.6 405.5L150.2 405.7L148.5 413.0L143.8 412.7Z" fill="#4e8fc9" opacity="0.5"/><path d="M153.6 405.9L158.4 406.2L156.9 413.4L151.9 413.2Z" fill="#4e8fc9" opacity="0.5"/><path d="M148.1 397.0L151.8 397.2L151.1 400.3L147.4 400.1Z" fill="#d8c794" /><path d="M147.0 399.9L151.5 400.1L151.2 401.5L146.7 401.2Z" fill="#787c80" /><path d="M155.9 397.4L159.8 397.6L159.2 400.7L155.2 400.5Z" fill="#d8c794" /><path d="M154.9 400.3L159.6 400.6L159.3 401.9L154.5 401.7Z" fill="#787c80" /><path d="M145.8 405.5L150.0 405.7L148.7 411.3L144.4 411.1Z" fill="#e9dfba" /><path d="M145.6 405.5L150.2 405.7L149.9 407.2L145.2 406.9Z" fill="#787c80" /><path d="M144.8 408.7L149.4 409.0L149.3 409.6L144.6 409.4Z" fill="#a89868" opacity="0.6"/><path d="M153.8 405.9L158.2 406.2L157.0 411.8L152.5 411.5Z" fill="#e9dfba" /><path d="M153.6 405.9L158.4 406.2L158.1 407.6L153.3 407.3Z" fill="#787c80" /><path d="M152.8 409.2L157.7 409.5L157.6 410.1L152.7 409.8Z" fill="#a89868" opacity="0.6"/><path d="M134.9 399.8L144.0 400.3L142.6 405.7L133.3 405.2Z" fill="#d8c794" /><path d="M137.4 399.9L139.0 400.0L137.5 405.4L135.8 405.3Z" fill="#e9dfba" /><path d="M162.1 401.5L170.5 402.0L169.4 407.8L161.0 407.4Z" fill="#d8c794" /><path d="M166.3 401.7L167.5 401.8L166.5 407.7L165.2 407.6Z" fill="#a89868" opacity="0.8"/><path d="M167.5 402.2L170.4 402.4L169.4 407.8L166.5 407.7Z" fill="#e9dfba" /><path d="M143.1 401.0L162.6 402.1L161.8 406.4L142.0 405.3Z" fill="#787c80" /><path d="M142.1 404.9L161.9 406.0L161.7 406.8L141.9 405.7Z" fill="#5d6670" opacity="0.7"/>
<path d="M180.1 403.7L216.7 405.7L216.5 411.7L179.2 409.6Z" fill="#4e8fc9" opacity="0.55"/><path d="M191.8 408.1L196.5 408.3L195.8 415.7L191.0 415.4Z" fill="#4e8fc9" opacity="0.5"/><path d="M199.9 408.5L204.8 408.8L204.3 416.1L199.3 415.9Z" fill="#4e8fc9" opacity="0.5"/><path d="M193.2 399.4L196.9 399.6L196.6 402.8L192.9 402.6Z" fill="#d8c794" /><path d="M192.5 402.4L197.1 402.6L196.9 404.0L192.3 403.8Z" fill="#787c80" /><path d="M201.1 399.9L205.0 400.1L204.8 403.3L200.8 403.0Z" fill="#d8c794" /><path d="M200.4 402.8L205.2 403.1L205.1 404.5L200.3 404.2Z" fill="#787c80" /><path d="M192.1 408.1L196.3 408.3L195.8 414.0L191.4 413.7Z" fill="#e9dfba" /><path d="M191.8 408.1L196.5 408.3L196.4 409.8L191.7 409.5Z" fill="#787c80" /><path d="M191.5 411.4L196.2 411.7L196.1 412.3L191.4 412.0Z" fill="#a89868" opacity="0.6"/><path d="M200.1 408.5L204.6 408.8L204.2 414.5L199.7 414.2Z" fill="#e9dfba" /><path d="M199.9 408.5L204.8 408.8L204.7 410.2L199.8 410.0Z" fill="#787c80" /><path d="M199.6 411.8L204.6 412.1L204.5 412.8L199.6 412.5Z" fill="#a89868" opacity="0.6"/><path d="M180.3 402.3L189.5 402.8L188.8 408.3L179.5 407.8Z" fill="#d8c794" /><path d="M182.8 402.4L184.5 402.5L183.7 408.0L182.0 407.9Z" fill="#e9dfba" /><path d="M207.9 404.0L216.3 404.5L216.1 410.5L207.5 410.0Z" fill="#d8c794" /><path d="M212.1 404.3L213.4 404.3L213.1 410.3L211.8 410.2Z" fill="#a89868" opacity="0.8"/><path d="M213.3 404.7L216.3 404.9L216.1 410.5L213.1 410.3Z" fill="#e9dfba" /><path d="M188.7 403.6L208.5 404.7L208.2 409.0L188.2 407.9Z" fill="#787c80" /><path d="M188.3 407.4L208.3 408.6L208.2 409.4L188.2 408.3Z" fill="#5d6670" opacity="0.7"/>
<path d="M222.6 406.1L259.6 408.1L260.2 414.2L222.5 412.1Z" fill="#4e8fc9" opacity="0.55"/><path d="M235.0 410.5L239.7 410.7L240.0 418.2L235.1 417.9Z" fill="#4e8fc9" opacity="0.5"/><path d="M243.2 410.9L248.1 411.2L248.6 418.7L243.5 418.4Z" fill="#4e8fc9" opacity="0.5"/><path d="M235.2 401.8L239.0 402.0L239.1 405.2L235.3 405.0Z" fill="#d8c794" /><path d="M234.9 404.7L239.5 405.0L239.6 406.4L234.9 406.1Z" fill="#787c80" /><path d="M243.2 402.2L247.2 402.4L247.4 405.6L243.3 405.4Z" fill="#d8c794" /><path d="M242.9 405.2L247.8 405.4L247.9 406.9L243.0 406.6Z" fill="#787c80" /><path d="M235.2 410.5L239.5 410.7L239.7 416.5L235.3 416.2Z" fill="#e9dfba" /><path d="M235.0 410.5L239.7 410.7L239.8 412.2L235.0 411.9Z" fill="#787c80" /><path d="M235.1 413.9L239.8 414.1L239.9 414.8L235.1 414.5Z" fill="#a89868" opacity="0.6"/><path d="M243.4 410.9L247.9 411.2L248.2 417.0L243.6 416.7Z" fill="#e9dfba" /><path d="M243.2 410.9L248.1 411.2L248.2 412.7L243.2 412.4Z" fill="#787c80" /><path d="M243.3 414.3L248.3 414.6L248.4 415.2L243.3 415.0Z" fill="#a89868" opacity="0.6"/><path d="M222.6 404.7L231.9 405.2L232.0 410.7L222.5 410.2Z" fill="#d8c794" /><path d="M225.2 404.8L226.9 404.9L226.8 410.4L225.1 410.3Z" fill="#e9dfba" /><path d="M250.6 406.4L259.1 406.9L259.7 412.9L251.0 412.4Z" fill="#d8c794" /><path d="M254.8 406.6L256.1 406.7L256.6 412.7L255.3 412.7Z" fill="#a89868" opacity="0.8"/><path d="M256.1 407.1L259.1 407.3L259.7 412.9L256.6 412.7Z" fill="#e9dfba" /><path d="M231.3 405.9L251.3 407.1L251.6 411.4L231.3 410.3Z" fill="#787c80" /><path d="M231.3 409.9L251.5 411.0L251.6 411.8L231.3 410.7Z" fill="#5d6670" opacity="0.7"/>
<path d="M79.2 422.3L117.6 424.5L115.4 431.3L76.4 428.9Z" fill="#4e8fc9" opacity="0.55"/><path d="M90.4 427.1L95.3 427.4L92.1 435.7L87.1 435.4Z" fill="#4e8fc9" opacity="0.5"/><path d="M98.8 427.6L104.0 428.0L101.0 436.2L95.8 435.9Z" fill="#4e8fc9" opacity="0.5"/><path d="M94.6 417.5L98.5 417.7L97.2 421.3L93.2 421.0Z" fill="#d8c794" /><path d="M92.9 420.8L97.7 421.1L97.1 422.6L92.2 422.3Z" fill="#787c80" /><path d="M102.8 418.0L107.0 418.2L105.7 421.8L101.5 421.5Z" fill="#d8c794" /><path d="M101.2 421.3L106.2 421.6L105.7 423.1L100.6 422.8Z" fill="#787c80" /><path d="M90.6 427.2L95.0 427.4L92.6 433.8L88.1 433.5Z" fill="#e9dfba" /><path d="M90.4 427.1L95.3 427.4L94.6 429.1L89.7 428.8Z" fill="#787c80" /><path d="M88.9 430.9L93.8 431.2L93.6 431.9L88.6 431.6Z" fill="#a89868" opacity="0.6"/><path d="M99.1 427.7L103.7 427.9L101.5 434.3L96.7 434.0Z" fill="#e9dfba" /><path d="M98.8 427.6L104.0 428.0L103.4 429.6L98.2 429.3Z" fill="#787c80" /><path d="M97.4 431.4L102.6 431.7L102.4 432.4L97.2 432.1Z" fill="#a89868" opacity="0.6"/><path d="M79.9 420.7L89.5 421.3L87.1 427.4L77.3 426.8Z" fill="#d8c794" /><path d="M82.5 420.9L84.3 421.0L81.7 427.1L79.9 427.0Z" fill="#e9dfba" /><path d="M108.8 422.6L117.6 423.1L115.4 429.8L106.5 429.3Z" fill="#d8c794" /><path d="M113.2 422.9L114.5 423.0L112.3 429.6L111.0 429.6Z" fill="#a89868" opacity="0.8"/><path d="M114.3 423.4L117.4 423.6L115.4 429.8L112.3 429.6Z" fill="#e9dfba" /><path d="M88.5 422.1L109.2 423.3L107.5 428.2L86.6 426.9Z" fill="#787c80" /><path d="M86.8 426.5L107.7 427.7L107.4 428.6L86.4 427.4Z" fill="#5d6670" opacity="0.7"/>
<path d="M127.6 425.1L166.4 427.4L165.2 434.2L125.6 431.9Z" fill="#4e8fc9" opacity="0.55"/><path d="M139.4 430.1L144.4 430.3L142.4 438.7L137.3 438.4Z" fill="#4e8fc9" opacity="0.5"/><path d="M148.0 430.6L153.2 430.9L151.4 439.3L146.1 439.0Z" fill="#4e8fc9" opacity="0.5"/><path d="M142.3 420.3L146.3 420.5L145.4 424.1L141.4 423.8Z" fill="#d8c794" /><path d="M141.0 423.6L145.9 423.9L145.5 425.5L140.6 425.2Z" fill="#787c80" /><path d="M150.7 420.7L154.8 421.0L154.1 424.6L149.9 424.3Z" fill="#d8c794" /><path d="M149.5 424.1L154.6 424.4L154.2 426.0L149.1 425.7Z" fill="#787c80" /><path d="M139.6 430.1L144.2 430.3L142.6 436.8L138.0 436.5Z" fill="#e9dfba" /><path d="M139.4 430.1L144.4 430.3L144.0 432.0L139.0 431.7Z" fill="#787c80" /><path d="M138.5 433.9L143.5 434.2L143.3 434.9L138.3 434.6Z" fill="#a89868" opacity="0.6"/><path d="M148.2 430.6L153.0 430.9L151.6 437.3L146.8 437.1Z" fill="#e9dfba" /><path d="M148.0 430.6L153.2 430.9L152.8 432.5L147.6 432.2Z" fill="#787c80" /><path d="M147.1 434.4L152.4 434.7L152.2 435.4L147.0 435.1Z" fill="#a89868" opacity="0.6"/><path d="M128.0 423.5L137.8 424.1L136.1 430.3L126.2 429.7Z" fill="#d8c794" /><path d="M130.7 423.7L132.5 423.8L130.7 430.0L128.9 429.9Z" fill="#e9dfba" /><path d="M157.3 425.5L166.2 426.0L165.0 432.8L155.9 432.2Z" fill="#d8c794" /><path d="M161.7 425.7L163.1 425.8L161.8 432.6L160.4 432.5Z" fill="#a89868" opacity="0.8"/><path d="M163.0 426.3L166.1 426.5L165.0 432.8L161.8 432.6Z" fill="#e9dfba" /><path d="M136.9 425.0L157.8 426.2L156.8 431.1L135.6 429.8Z" fill="#787c80" /><path d="M135.7 429.4L156.9 430.6L156.7 431.6L135.5 430.3Z" fill="#5d6670" opacity="0.7"/>
<path d="M176.5 428.0L215.8 430.3L215.6 437.2L175.5 434.9Z" fill="#4e8fc9" opacity="0.55"/><path d="M189.1 433.0L194.1 433.3L193.3 441.8L188.2 441.5Z" fill="#4e8fc9" opacity="0.5"/><path d="M197.8 433.5L203.1 433.8L202.5 442.4L197.1 442.0Z" fill="#4e8fc9" opacity="0.5"/><path d="M190.7 423.1L194.6 423.3L194.3 426.9L190.3 426.7Z" fill="#d8c794" /><path d="M189.8 426.4L194.8 426.7L194.6 428.4L189.7 428.1Z" fill="#787c80" /><path d="M199.1 423.6L203.3 423.8L203.1 427.5L198.8 427.2Z" fill="#d8c794" /><path d="M198.4 426.9L203.5 427.2L203.4 428.9L198.2 428.6Z" fill="#787c80" /><path d="M189.3 433.0L193.9 433.3L193.3 439.9L188.6 439.6Z" fill="#e9dfba" /><path d="M189.1 433.0L194.1 433.3L194.0 435.0L188.9 434.7Z" fill="#787c80" /><path d="M188.7 436.9L193.8 437.2L193.7 437.9L188.6 437.6Z" fill="#a89868" opacity="0.6"/><path d="M198.0 433.5L202.8 433.8L202.4 440.4L197.5 440.1Z" fill="#e9dfba" /><path d="M197.8 433.5L203.1 433.8L203.0 435.5L197.7 435.2Z" fill="#787c80" /><path d="M197.5 437.4L202.8 437.7L202.7 438.4L197.4 438.1Z" fill="#a89868" opacity="0.6"/><path d="M176.8 426.4L186.6 427.0L185.9 433.3L175.8 432.7Z" fill="#d8c794" /><path d="M179.4 426.5L181.2 426.6L180.4 433.0L178.6 432.9Z" fill="#e9dfba" /><path d="M206.4 428.3L215.4 428.9L215.2 435.8L206.0 435.2Z" fill="#d8c794" /><path d="M210.9 428.6L212.3 428.7L212.0 435.6L210.6 435.5Z" fill="#a89868" opacity="0.8"/><path d="M212.3 429.2L215.4 429.3L215.2 435.8L212.0 435.6Z" fill="#e9dfba" /><path d="M185.8 427.8L207.0 429.1L206.7 434.0L185.2 432.8Z" fill="#787c80" /><path d="M185.3 432.3L206.8 433.6L206.7 434.5L185.2 433.2Z" fill="#5d6670" opacity="0.7"/>
<path d="M222.2 430.7L262.0 433.0L262.7 440.1L222.1 437.6Z" fill="#4e8fc9" opacity="0.55"/><path d="M235.5 435.8L240.6 436.1L240.9 444.7L235.7 444.4Z" fill="#4e8fc9" opacity="0.5"/><path d="M244.3 436.3L249.6 436.6L250.2 445.2L244.7 444.9Z" fill="#4e8fc9" opacity="0.5"/><path d="M235.8 425.7L239.8 425.9L239.9 429.6L235.8 429.4Z" fill="#d8c794" /><path d="M235.4 429.1L240.4 429.4L240.4 431.0L235.4 430.7Z" fill="#787c80" /><path d="M244.3 426.2L248.6 426.4L248.8 430.1L244.5 429.9Z" fill="#d8c794" /><path d="M244.0 429.6L249.2 429.9L249.3 431.6L244.1 431.3Z" fill="#787c80" /><path d="M235.8 435.8L240.4 436.0L240.6 442.7L235.9 442.4Z" fill="#e9dfba" /><path d="M235.5 435.8L240.6 436.1L240.7 437.8L235.6 437.5Z" fill="#787c80" /><path d="M235.6 439.7L240.7 440.0L240.8 440.7L235.6 440.4Z" fill="#a89868" opacity="0.6"/><path d="M244.5 436.3L249.4 436.6L249.8 443.3L244.9 443.0Z" fill="#e9dfba" /><path d="M244.3 436.3L249.6 436.6L249.7 438.3L244.4 438.0Z" fill="#787c80" /><path d="M244.5 440.2L249.9 440.5L249.9 441.3L244.5 440.9Z" fill="#a89868" opacity="0.6"/><path d="M222.2 429.0L232.2 429.6L232.3 436.0L222.1 435.4Z" fill="#d8c794" /><path d="M225.0 429.2L226.8 429.3L226.7 435.7L224.9 435.6Z" fill="#e9dfba" /><path d="M252.3 431.0L261.4 431.6L262.1 438.5L252.7 438.0Z" fill="#d8c794" /><path d="M256.8 431.3L258.2 431.4L258.8 438.4L257.4 438.3Z" fill="#a89868" opacity="0.8"/><path d="M258.3 431.9L261.5 432.0L262.1 438.5L258.8 438.4Z" fill="#e9dfba" /><path d="M231.5 430.5L253.0 431.8L253.4 436.8L231.6 435.5Z" fill="#787c80" /><path d="M231.6 435.0L253.3 436.3L253.4 437.3L231.6 436.0Z" fill="#5d6670" opacity="0.7"/>
<path d="M67.6 449.4L108.9 451.9L106.4 459.8L64.2 457.1Z" fill="#4e8fc9" opacity="0.55"/><path d="M79.4 455.0L84.7 455.4L81.0 465.0L75.6 464.7Z" fill="#4e8fc9" opacity="0.5"/><path d="M88.5 455.6L94.1 455.9L90.6 465.6L85.0 465.3Z" fill="#4e8fc9" opacity="0.5"/><path d="M84.3 443.8L88.5 444.0L86.9 448.2L82.7 447.9Z" fill="#d8c794" /><path d="M82.3 447.6L87.5 447.9L86.8 449.8L81.6 449.4Z" fill="#787c80" /><path d="M93.2 444.3L97.6 444.6L96.1 448.7L91.6 448.5Z" fill="#d8c794" /><path d="M91.3 448.2L96.7 448.5L96.0 450.3L90.6 450.0Z" fill="#787c80" /><path d="M79.6 455.0L84.4 455.3L81.6 462.8L76.7 462.5Z" fill="#e9dfba" /><path d="M79.4 455.0L84.7 455.4L84.0 457.3L78.6 456.9Z" fill="#787c80" /><path d="M77.7 459.4L83.0 459.7L82.7 460.6L77.3 460.2Z" fill="#a89868" opacity="0.6"/><path d="M88.8 455.6L93.8 455.9L91.2 463.4L86.0 463.1Z" fill="#e9dfba" /><path d="M88.5 455.6L94.1 455.9L93.4 457.9L87.8 457.5Z" fill="#787c80" /><path d="M86.9 460.0L92.5 460.3L92.2 461.2L86.6 460.8Z" fill="#a89868" opacity="0.6"/><path d="M68.3 447.5L78.7 448.2L75.8 455.4L65.3 454.7Z" fill="#d8c794" /><path d="M71.2 447.7L73.0 447.8L70.1 455.0L68.1 454.9Z" fill="#e9dfba" /><path d="M99.4 449.7L108.9 450.3L106.4 458.1L96.7 457.5Z" fill="#d8c794" /><path d="M104.1 450.0L105.6 450.1L103.0 457.9L101.6 457.8Z" fill="#a89868" opacity="0.8"/><path d="M105.4 450.7L108.7 450.9L106.4 458.1L103.0 457.9Z" fill="#e9dfba" /><path d="M77.6 449.2L99.8 450.6L97.9 456.2L75.3 454.8Z" fill="#787c80" /><path d="M75.5 454.2L98.1 455.7L97.7 456.7L75.1 455.3Z" fill="#5d6670" opacity="0.7"/>
<path d="M119.6 452.6L161.5 455.2L160.1 463.2L117.4 460.5Z" fill="#4e8fc9" opacity="0.55"/><path d="M132.3 458.4L137.7 458.7L135.3 468.5L129.9 468.2Z" fill="#4e8fc9" opacity="0.5"/><path d="M141.6 458.9L147.2 459.3L145.1 469.1L139.3 468.8Z" fill="#4e8fc9" opacity="0.5"/><path d="M135.7 447.0L139.9 447.2L138.9 451.4L134.6 451.1Z" fill="#d8c794" /><path d="M134.2 450.8L139.5 451.2L139.0 453.0L133.7 452.7Z" fill="#787c80" /><path d="M144.6 447.5L149.1 447.8L148.2 452.0L143.7 451.7Z" fill="#d8c794" /><path d="M143.3 451.4L148.8 451.7L148.4 453.6L142.9 453.3Z" fill="#787c80" /><path d="M132.6 458.4L137.4 458.7L135.6 466.2L130.7 465.9Z" fill="#e9dfba" /><path d="M132.3 458.4L137.7 458.7L137.2 460.6L131.8 460.3Z" fill="#787c80" /><path d="M131.2 462.8L136.6 463.1L136.4 464.0L131.0 463.6Z" fill="#a89868" opacity="0.6"/><path d="M141.8 459.0L146.9 459.3L145.3 466.9L140.1 466.5Z" fill="#e9dfba" /><path d="M141.6 458.9L147.2 459.3L146.8 461.2L141.1 460.9Z" fill="#787c80" /><path d="M140.6 463.4L146.2 463.8L146.1 464.6L140.4 464.2Z" fill="#a89868" opacity="0.6"/><path d="M120.2 450.8L130.7 451.4L128.8 458.7L118.1 458.0Z" fill="#d8c794" /><path d="M123.0 450.9L124.9 451.1L122.9 458.3L121.0 458.2Z" fill="#e9dfba" /><path d="M151.7 453.0L161.3 453.6L159.9 461.5L150.1 460.9Z" fill="#d8c794" /><path d="M156.5 453.3L157.9 453.4L156.5 461.3L155.0 461.2Z" fill="#a89868" opacity="0.8"/><path d="M157.8 453.9L161.2 454.1L159.9 461.5L156.5 461.3Z" fill="#e9dfba" /><path d="M129.7 452.4L152.2 453.8L151.1 459.5L128.2 458.1Z" fill="#787c80" /><path d="M128.3 457.6L151.2 459.0L151.0 460.1L128.0 458.6Z" fill="#5d6670" opacity="0.7"/>
<path d="M172.4 455.9L214.9 458.6L214.6 466.7L171.2 463.9Z" fill="#4e8fc9" opacity="0.55"/><path d="M186.0 461.7L191.4 462.1L190.5 472.0L184.9 471.7Z" fill="#4e8fc9" opacity="0.5"/><path d="M195.4 462.3L201.1 462.7L200.4 472.7L194.5 472.3Z" fill="#4e8fc9" opacity="0.5"/><path d="M187.7 450.2L192.0 450.4L191.6 454.7L187.3 454.4Z" fill="#d8c794" /><path d="M186.8 454.1L192.1 454.4L192.0 456.3L186.6 456.0Z" fill="#787c80" /><path d="M196.8 450.7L201.4 451.0L201.1 455.3L196.5 455.0Z" fill="#d8c794" /><path d="M196.0 454.7L201.6 455.0L201.5 456.9L195.9 456.6Z" fill="#787c80" /><path d="M186.2 461.8L191.2 462.1L190.4 469.8L185.4 469.4Z" fill="#e9dfba" /><path d="M186.0 461.7L191.4 462.1L191.2 464.0L185.8 463.7Z" fill="#787c80" /><path d="M185.5 466.3L191.0 466.6L190.9 467.5L185.4 467.1Z" fill="#a89868" opacity="0.6"/><path d="M195.6 462.4L200.8 462.7L200.3 470.4L195.0 470.0Z" fill="#e9dfba" /><path d="M195.4 462.3L201.1 462.7L200.9 464.7L195.2 464.3Z" fill="#787c80" /><path d="M195.0 466.9L200.7 467.2L200.7 468.1L194.9 467.7Z" fill="#a89868" opacity="0.6"/><path d="M172.7 454.0L183.3 454.7L182.5 462.1L171.6 461.4Z" fill="#d8c794" /><path d="M175.6 454.2L177.5 454.3L176.5 461.7L174.6 461.6Z" fill="#e9dfba" /><path d="M204.7 456.3L214.4 456.9L214.2 464.9L204.2 464.3Z" fill="#d8c794" /><path d="M209.6 456.6L211.0 456.7L210.7 464.7L209.2 464.6Z" fill="#a89868" opacity="0.8"/><path d="M211.0 457.2L214.4 457.4L214.2 464.9L210.7 464.7Z" fill="#e9dfba" /><path d="M182.5 455.7L205.4 457.1L205.0 462.9L181.8 461.5Z" fill="#787c80" /><path d="M181.8 460.9L205.1 462.4L205.0 463.5L181.7 462.0Z" fill="#5d6670" opacity="0.7"/>
<path d="M221.7 459.0L264.7 461.7L265.5 469.9L221.6 467.1Z" fill="#4e8fc9" opacity="0.55"/><path d="M236.1 464.9L241.6 465.3L242.0 475.4L236.3 475.0Z" fill="#4e8fc9" opacity="0.5"/><path d="M245.6 465.5L251.4 465.9L252.0 476.0L246.1 475.6Z" fill="#4e8fc9" opacity="0.5"/><path d="M236.4 453.1L240.7 453.4L240.9 457.7L236.5 457.5Z" fill="#d8c794" /><path d="M236.0 457.1L241.4 457.5L241.4 459.4L236.0 459.1Z" fill="#787c80" /><path d="M245.6 453.7L250.2 454.0L250.5 458.3L245.8 458.0Z" fill="#d8c794" /><path d="M245.3 457.7L250.9 458.1L251.1 460.0L245.4 459.6Z" fill="#787c80" /><path d="M236.4 464.9L241.4 465.2L241.7 473.0L236.6 472.7Z" fill="#e9dfba" /><path d="M236.1 464.9L241.6 465.3L241.7 467.2L236.2 466.9Z" fill="#787c80" /><path d="M236.2 469.5L241.8 469.8L241.8 470.7L236.2 470.4Z" fill="#a89868" opacity="0.6"/><path d="M245.9 465.5L251.2 465.9L251.6 473.7L246.3 473.3Z" fill="#e9dfba" /><path d="M245.6 465.5L251.4 465.9L251.5 467.9L245.7 467.5Z" fill="#787c80" /><path d="M245.9 470.1L251.7 470.5L251.7 471.3L245.9 471.0Z" fill="#a89868" opacity="0.6"/><path d="M221.8 457.1L232.6 457.8L232.6 465.3L221.7 464.6Z" fill="#d8c794" /><path d="M224.7 457.3L226.7 457.4L226.6 464.9L224.7 464.7Z" fill="#e9dfba" /><path d="M254.2 459.4L264.1 460.0L264.9 468.1L254.8 467.5Z" fill="#d8c794" /><path d="M259.2 459.7L260.6 459.8L261.3 467.9L259.8 467.8Z" fill="#a89868" opacity="0.8"/><path d="M260.7 460.3L264.1 460.5L264.9 468.1L261.3 467.9Z" fill="#e9dfba" /><path d="M231.8 458.8L255.0 460.2L255.4 466.1L231.9 464.6Z" fill="#787c80" /><path d="M231.9 464.1L255.4 465.6L255.5 466.7L231.9 465.2Z" fill="#5d6670" opacity="0.7"/>
<path d="M53.1 482.8L98.1 485.8L95.1 495.2L49.2 492.0Z" fill="#4e8fc9" opacity="0.55"/><path d="M65.8 489.5L71.6 489.9L67.2 501.4L61.3 501.0Z" fill="#4e8fc9" opacity="0.5"/><path d="M75.8 490.2L81.8 490.6L77.7 502.1L71.5 501.7Z" fill="#4e8fc9" opacity="0.5"/><path d="M71.6 476.2L76.2 476.5L74.3 481.3L69.7 481.0Z" fill="#d8c794" /><path d="M69.3 480.7L74.9 481.1L74.1 483.2L68.4 482.9Z" fill="#787c80" /><path d="M81.2 476.8L86.1 477.1L84.3 482.0L79.4 481.7Z" fill="#d8c794" /><path d="M79.0 481.3L84.9 481.7L84.2 483.9L78.2 483.5Z" fill="#787c80" /><path d="M66.1 489.5L71.3 489.9L67.9 498.8L62.6 498.4Z" fill="#e9dfba" /><path d="M65.8 489.5L71.6 489.9L70.7 492.2L64.9 491.8Z" fill="#787c80" /><path d="M63.8 494.7L69.6 495.1L69.2 496.1L63.4 495.7Z" fill="#a89868" opacity="0.6"/><path d="M76.0 490.2L81.5 490.6L78.4 499.5L72.8 499.1Z" fill="#e9dfba" /><path d="M75.8 490.2L81.8 490.6L81.0 492.9L74.9 492.4Z" fill="#787c80" /><path d="M73.8 495.4L80.0 495.8L79.6 496.8L73.5 496.4Z" fill="#a89868" opacity="0.6"/><path d="M54.1 480.6L65.3 481.4L61.9 489.9L50.4 489.1Z" fill="#d8c794" /><path d="M57.1 480.8L59.2 481.0L55.6 489.5L53.5 489.3Z" fill="#e9dfba" /><path d="M87.8 483.2L98.2 483.9L95.2 493.1L84.7 492.4Z" fill="#d8c794" /><path d="M93.0 483.5L94.6 483.6L91.5 492.9L89.9 492.8Z" fill="#a89868" opacity="0.8"/><path d="M94.4 484.3L98.0 484.5L95.2 493.1L91.5 492.9Z" fill="#e9dfba" /><path d="M64.1 482.6L88.3 484.2L86.0 490.9L61.4 489.2Z" fill="#787c80" /><path d="M61.6 488.6L86.2 490.2L85.8 491.5L61.1 489.8Z" fill="#5d6670" opacity="0.7"/>
<path d="M109.8 486.6L155.5 489.6L153.8 499.2L107.1 496.0Z" fill="#4e8fc9" opacity="0.55"/><path d="M123.5 493.4L129.4 493.8L126.6 505.5L120.6 505.1Z" fill="#4e8fc9" opacity="0.5"/><path d="M133.6 494.1L139.7 494.5L137.2 506.3L131.0 505.8Z" fill="#4e8fc9" opacity="0.5"/><path d="M127.4 479.8L132.1 480.1L130.9 485.1L126.2 484.8Z" fill="#d8c794" /><path d="M125.8 484.4L131.5 484.8L131.0 487.0L125.2 486.6Z" fill="#787c80" /><path d="M137.2 480.5L142.1 480.8L141.1 485.8L136.1 485.4Z" fill="#d8c794" /><path d="M135.6 485.1L141.6 485.5L141.2 487.7L135.1 487.3Z" fill="#787c80" /><path d="M123.8 493.4L129.1 493.8L126.9 502.8L121.5 502.4Z" fill="#e9dfba" /><path d="M123.5 493.4L129.4 493.8L128.8 496.1L122.9 495.7Z" fill="#787c80" /><path d="M122.2 498.7L128.1 499.1L127.9 500.1L121.9 499.7Z" fill="#a89868" opacity="0.6"/><path d="M133.9 494.1L139.5 494.5L137.5 503.5L131.8 503.1Z" fill="#e9dfba" /><path d="M133.6 494.1L139.7 494.5L139.2 496.8L133.1 496.4Z" fill="#787c80" /><path d="M132.4 499.4L138.6 499.8L138.4 500.8L132.2 500.4Z" fill="#a89868" opacity="0.6"/><path d="M110.5 484.4L121.9 485.1L119.6 493.8L108.0 493.0Z" fill="#d8c794" /><path d="M113.6 484.6L115.6 484.7L113.3 493.4L111.1 493.2Z" fill="#e9dfba" /><path d="M144.8 487.0L155.3 487.7L153.6 497.1L142.9 496.4Z" fill="#d8c794" /><path d="M150.0 487.3L151.6 487.4L149.8 496.9L148.2 496.7Z" fill="#a89868" opacity="0.8"/><path d="M151.5 488.1L155.2 488.3L153.6 497.1L149.8 496.9Z" fill="#e9dfba" /><path d="M120.8 486.3L145.4 488.0L144.0 494.8L119.0 493.1Z" fill="#787c80" /><path d="M119.2 492.4L144.1 494.1L143.9 495.4L118.8 493.7Z" fill="#5d6670" opacity="0.7"/>
<path d="M167.3 490.4L213.7 493.5L213.3 503.2L165.9 500.0Z" fill="#4e8fc9" opacity="0.55"/><path d="M182.1 497.4L188.0 497.8L186.9 509.7L180.8 509.3Z" fill="#4e8fc9" opacity="0.5"/><path d="M192.3 498.1L198.6 498.5L197.7 510.4L191.3 510.0Z" fill="#4e8fc9" opacity="0.5"/><path d="M184.1 483.6L188.8 483.9L188.3 488.9L183.6 488.6Z" fill="#d8c794" /><path d="M183.1 488.2L188.9 488.6L188.7 490.9L182.8 490.5Z" fill="#787c80" /><path d="M194.0 484.2L199.0 484.5L198.6 489.6L193.6 489.3Z" fill="#d8c794" /><path d="M193.1 488.9L199.2 489.3L199.0 491.6L192.9 491.2Z" fill="#787c80" /><path d="M182.3 497.4L187.7 497.7L186.9 506.9L181.4 506.6Z" fill="#e9dfba" /><path d="M182.1 497.4L188.0 497.8L187.8 500.1L181.8 499.7Z" fill="#787c80" /><path d="M181.5 502.8L187.5 503.2L187.4 504.2L181.4 503.8Z" fill="#a89868" opacity="0.6"/><path d="M192.6 498.1L198.3 498.5L197.6 507.7L191.8 507.3Z" fill="#e9dfba" /><path d="M192.3 498.1L198.6 498.5L198.4 500.8L192.1 500.4Z" fill="#787c80" /><path d="M191.9 503.5L198.2 503.9L198.1 504.9L191.8 504.5Z" fill="#a89868" opacity="0.6"/><path d="M167.7 488.2L179.3 489.0L178.2 497.8L166.4 497.0Z" fill="#d8c794" /><path d="M170.8 488.4L172.9 488.5L171.8 497.3L169.6 497.2Z" fill="#e9dfba" /><path d="M202.6 490.8L213.2 491.5L212.9 501.1L202.0 500.4Z" fill="#d8c794" /><path d="M207.9 491.2L209.5 491.3L209.0 500.9L207.4 500.8Z" fill="#a89868" opacity="0.8"/><path d="M209.4 491.9L213.2 492.2L212.9 501.1L209.0 500.9Z" fill="#e9dfba" /><path d="M178.3 490.2L203.3 491.9L202.9 498.8L177.5 497.1Z" fill="#787c80" /><path d="M177.6 496.4L202.9 498.1L202.8 499.4L177.4 497.7Z" fill="#5d6670" opacity="0.7"/>
<path d="M221.2 494.0L268.1 497.2L269.1 507.0L221.0 503.7Z" fill="#4e8fc9" opacity="0.55"/><path d="M236.9 501.1L242.9 501.5L243.3 513.6L237.1 513.2Z" fill="#4e8fc9" opacity="0.5"/><path d="M247.3 501.8L253.6 502.2L254.3 514.4L247.8 513.9Z" fill="#4e8fc9" opacity="0.5"/><path d="M237.1 487.1L241.9 487.4L242.1 492.5L237.2 492.2Z" fill="#d8c794" /><path d="M236.7 491.8L242.6 492.2L242.7 494.5L236.7 494.1Z" fill="#787c80" /><path d="M247.2 487.7L252.2 488.0L252.5 493.2L247.4 492.9Z" fill="#d8c794" /><path d="M246.9 492.5L253.0 492.9L253.2 495.2L247.0 494.8Z" fill="#787c80" /><path d="M237.2 501.1L242.6 501.5L243.0 510.8L237.4 510.4Z" fill="#e9dfba" /><path d="M236.9 501.1L242.9 501.5L243.0 503.9L236.9 503.4Z" fill="#787c80" /><path d="M237.0 506.5L243.1 507.0L243.1 508.0L237.0 507.6Z" fill="#a89868" opacity="0.6"/><path d="M247.6 501.8L253.3 502.2L253.9 511.6L248.0 511.1Z" fill="#e9dfba" /><path d="M247.3 501.8L253.6 502.2L253.7 504.6L247.4 504.2Z" fill="#787c80" /><path d="M247.5 507.3L253.9 507.7L254.0 508.8L247.6 508.3Z" fill="#a89868" opacity="0.6"/><path d="M221.2 491.8L233.0 492.5L233.1 501.5L221.1 500.7Z" fill="#d8c794" /><path d="M224.4 492.0L226.6 492.1L226.5 501.0L224.3 500.9Z" fill="#e9dfba" /><path d="M256.6 494.4L267.4 495.2L268.3 504.9L257.3 504.1Z" fill="#d8c794" /><path d="M262.0 494.8L263.6 494.9L264.5 504.6L262.8 504.5Z" fill="#a89868" opacity="0.8"/><path d="M263.7 495.6L267.5 495.8L268.3 504.9L264.5 504.6Z" fill="#e9dfba" /><path d="M232.2 493.8L257.5 495.5L258.0 502.5L232.3 500.8Z" fill="#787c80" /><path d="M232.2 500.1L257.9 501.8L258.0 503.2L232.3 501.4Z" fill="#5d6670" opacity="0.7"/>
<path d="M131.5 393.3L171.1 395.3L169.3 416.1L126.4 412.4Z" fill="none" stroke="#1c2a3a" stroke-width="0.9"/>
<text x="2.7" y="366.7" font-size="21.5" font-weight="bold">b</text>
<text x="166.2" y="527" font-size="20" textLength="123.5" lengthAdjust="spacingAndGlyphs">Sensor arrays</text>
<text x="100.6" y="569.3" font-size="20" textLength="128.6" lengthAdjust="spacingAndGlyphs">mm to cm size</text>
<text x="22.6" y="440.5" font-size="20">B</text>
<path d="M41.6 457.2V411.6M38.6 418L41.6 411.4L44.6 418" fill="none" stroke="#222" stroke-width="1"/>
<path d="M15.9 520.8V534.6M298 540.7V554.4M17.6 529.1L296.8 549.6M22.4 525.5L17.6 529.1L21.8 533.2M291.6 545.6L296.8 549.6L291.2 553.2" fill="none" stroke="#333" stroke-width="1"/><text x="0.6" y="22.8" font-size="21.5" font-weight="bold">a</text>
<text x="182.6" y="74.2" font-size="20"><tspan class="ser" font-size="21">μ</tspan>m size</text>
<path d="M136.5 75.5V89.2M269.2 75.5V89.2M137.5 82.5H268.2M142 79L137.5 82.5L142 86M263.7 79L268.2 82.5L263.7 86" fill="none" stroke="#4a4a4a" stroke-width="1.2"/>
<defs>
<clipPath id="ecl"><ellipse cx="205.5" cy="163.2" rx="82.6" ry="71.4"/></clipPath>
<linearGradient id="band" x1="0" x2="1" y1="0" y2="0"><stop offset="0" stop-color="#d8d8d6"/><stop offset="0.5" stop-color="#eeedeb"/><stop offset="1" stop-color="#d8d8d6"/></linearGradient>
<linearGradient id="bandL" x1="0" x2="1" y1="0" y2="0"><stop offset="0" stop-color="#c4c4c4"/><stop offset="0.55" stop-color="#dcdcdb"/><stop offset="1" stop-color="#ecebe9"/></linearGradient>
<linearGradient id="bandR" x1="0" x2="1" y1="0" y2="0"><stop offset="0" stop-color="#ecebe9"/><stop offset="0.45" stop-color="#dcdcdb"/><stop offset="1" stop-color="#c4c4c4"/></linearGradient>
<radialGradient id="bar" cx="0.45" cy="0.55" r="0.62"><stop offset="0" stop-color="#c0bfbe"/><stop offset="0.6" stop-color="#aeadac"/><stop offset="1" stop-color="#979797"/></radialGradient>
<linearGradient id="gold" x1="0" x2="0" y1="0" y2="1"><stop offset="0" stop-color="#f1edc6"/><stop offset="1" stop-color="#ebe5b4"/></linearGradient>
<linearGradient id="goldb" x1="0" x2="0" y1="0" y2="1"><stop offset="0" stop-color="#f6f2c8"/><stop offset="1" stop-color="#e9e3b2"/></linearGradient>
<linearGradient id="armt" x1="0" x2="0" y1="0" y2="1"><stop offset="0" stop-color="#949494"/><stop offset="0.25" stop-color="#acabaa"/><stop offset="1" stop-color="#b0afae"/></linearGradient>
<linearGradient id="armb" x1="0" x2="1" y1="0" y2="0"><stop offset="0" stop-color="#9a9a9a"/><stop offset="0.25" stop-color="#aaa9a8"/><stop offset="1" stop-color="#b0afae"/></linearGradient>
</defs>
<g clip-path="url(#ecl)">
<rect x="120" y="88" width="172" height="150" fill="#d3d3d3"/>
<rect x="120" y="88" width="44" height="150" fill="url(#bandL)"/>
<rect x="188.3" y="88" width="32.2" height="150" fill="url(#band)"/>
<rect x="245.4" y="88" width="46" height="150" fill="url(#bandR)"/>
<rect x="166.3" y="124" width="22" height="15" fill="url(#armt)"/>
<rect x="166.3" y="193" width="22" height="23.5" fill="url(#armb)"/>
<rect x="222.2" y="124" width="22" height="15" fill="url(#armt)"/>
<rect x="222.2" y="193" width="22" height="23.5" fill="url(#armb)"/>
<rect x="136.2" y="138.1" width="139.2" height="55.7" fill="url(#bar)"/>
<rect x="136.2" y="138.1" width="139.2" height="1.4" fill="#7d7d7d" opacity="0.7"/>
<rect x="136.2" y="192.4" width="139.2" height="1.6" fill="#c9c9c9" opacity="0.8"/>
<rect x="163.5" y="88" width="24.80000000000001" height="37.2" fill="url(#gold)"/>
<rect x="164.5" y="125.2" width="23.80000000000001" height="1.6" fill="#8a8a8a" opacity="0.6"/>
<rect x="220.5" y="88" width="24.80000000000001" height="37.2" fill="url(#gold)"/>
<rect x="221.5" y="125.2" width="23.80000000000001" height="1.6" fill="#8a8a8a" opacity="0.6"/>
<rect x="164.5" y="216.3" width="23.80000000000001" height="24" fill="url(#goldb)"/>
<rect x="222" y="216.3" width="23.5" height="24" fill="url(#goldb)"/>
<rect x="120" y="133.8" width="16.4" height="61.4" fill="#ece7b8"/>
<rect x="275.3" y="133.8" width="16" height="61.4" fill="#ece7b8"/>
</g>
<ellipse cx="205.5" cy="163.2" rx="82.6" ry="71.4" fill="none" stroke="#555" stroke-width="1"/>
<circle cx="257.9" cy="156.5" r="11.3" fill="none" stroke="#2b2b2b" stroke-width="1"/>
<path d="M257.5 145.4L469 105.9M259.6 167.6L455 231.8" fill="none" stroke="#333" stroke-width="0.9"/>
<path d="M123.3 172L131.5 393.3M268.4 208.5L171.1 395.3" fill="none" stroke="#333" stroke-width="0.9"/>
<defs><clipPath id="ccl"><ellipse cx="485.5" cy="172.6" rx="67.3" ry="65.6"/></clipPath><clipPath id="ccl2"><path d="M443.9 136.9L544.3 165.6L549 190L552 250L415 250L429.3 202.7Z"/></clipPath><clipPath id="ccl3"><path d="M443.9 136.9L544.3 165.6L549 190L552 250L415 250L429.3 202.7ZM480 149.8L494.6 139.4L511.5 156Z"/></clipPath></defs>
<ellipse cx="486.9" cy="172.4" rx="69.7" ry="67.8" fill="#fff" stroke="#333" stroke-width="1"/>
<g clip-path="url(#ccl)">
<defs><marker id="dot" markerWidth="2" markerHeight="2" refX="1" refY="1" markerUnits="userSpaceOnUse"><circle cx="1" cy="1" r="0.56" fill="#4a4a4a"/></marker></defs>
<g clip-path="url(#ccl2)"><g transform="translate(443.6 136.6) rotate(17.3)"><path d="M-3.00 1.60l2.375-1.371l2.375 1.371l2.375-1.371l2.375 1.371l2.375-1.371l2.375 1.371l2.375-1.371l2.375 1.371l2.375-1.371l2.375 1.371l2.375-1.371l2.375 1.371l2.375-1.371l2.375 1.371l2.375-1.371l2.375 1.371l2.375-1.371l2.375 1.371l2.375-1.371l2.375 1.371l2.375-1.371l2.375 1.371l2.375-1.371l2.375 1.371l2.375-1.371l2.375 1.371l2.375-1.371l2.375 1.371l2.375-1.371l2.375 1.371l2.375-1.371l2.375 1.371l2.375-1.371l2.375 1.371l2.375-1.371l2.375 1.371l2.375-1.371l2.375 1.371l2.375-1.371l2.375 1.371l2.375-1.371l2.375 1.371l2.375-1.371l2.375 1.371l2.375-1.371l2.375 1.371l2.375-1.371l2.375 1.371l2.375-1.371l2.375 1.371l2.375-1.371l2.375 1.371l2.375-1.371l2.375 1.371l2.375-1.371l2.375 1.371v2.742m-4.750-2.742v2.742m-4.750-2.742v2.742m-4.750-2.742v2.742m-4.750-2.742v2.742m-4.750-2.742v2.742m-4.750-2.742v2.742m-4.750-2.742v2.742m-4.750-2.742v2.742m-4.750-2.742v2.742m-4.750-2.742v2.742m-4.750-2.742v2.742m-4.750-2.742v2.742m-4.750-2.742v2.742m-4.750-2.742v2.742m-4.750-2.742v2.742m-4.750-2.742v2.742m-4.750-2.742v2.742m-4.750-2.742v2.742m-4.750-2.742v2.742m-4.750-2.742v2.742m-4.750-2.742v2.742m-4.750-2.742v2.742m-4.750-2.742v2.742m-4.750-2.742v2.742m-4.750-2.742v2.742m-4.750-2.742v2.742m-4.750-2.742v2.742m-4.750-2.742v2.742M-5.38 5.71l2.375-1.371l2.375 1.371l2.375-1.371l2.375 1.371l2.375-1.371l2.375 1.371l2.375-1.371l2.375 1.371l2.375-1.371l2.375 1.371l2.375-1.371l2.375 1.371l2.375-1.371l2.375 1.371l2.375-1.371l2.375 1.371l2.375-1.371l2.375 1.371l2.375-1.371l2.375 1.371l2.375-1.371l2.375 1.371l2.375-1.371l2.375 1.371l2.375-1.371l2.375 1.371l2.375-1.371l2.375 1.371l2.375-1.371l2.375 1.371l2.375-1.371l2.375 1.371l2.375-1.371l2.375 1.371l2.375-1.371l2.375 1.371l2.375-1.371l2.375 1.371l2.375-1.371l2.375 1.371l2.375-1.371l2.375 1.371l2.375-1.371l2.375 1.371l2.375-1.371l2.375 1.371l2.375-1.371l2.375 1.371l2.375-1.371l2.375 1.371l2.375-1.371l2.375 1.371l2.375-1.371l2.375 1.371l2.375-1.371l2.375 1.371v2.742m-4.750-2.742v2.742m-4.750-2.742v2.742m-4.750-2.742v2.742m-4.750-2.742v2.742m-4.750-2.742v2.742m-4.750-2.742v2.742m-4.750-2.742v2.742m-4.750-2.742v2.742m-4.750-2.742v2.742m-4.750-2.742v2.742m-4.750-2.742v2.742m-4.750-2.742v2.742m-4.750-2.742v2.742m-4.750-2.742v2.742m-4.750-2.742v2.742m-4.750-2.742v2.742m-4.750-2.742v2.742m-4.750-2.742v2.742m-4.750-2.742v2.742m-4.750-2.742v2.742m-4.750-2.742v2.742m-4.750-2.742v2.742m-4.750-2.742v2.742m-4.750-2.742v2.742m-4.750-2.742v2.742m-4.750-2.742v2.742m-4.750-2.742v2.742m-4.750-2.742v2.742M-3.00 9.83l2.375-1.371l2.375 1.371l2.375-1.371l2.375 1.371l2.375-1.371l2.375 1.371l2.375-1.371l2.375 1.371l2.375-1.371l2.375 1.371l2.375-1.371l2.375 1.371l2.375-1.371l2.375 1.371l2.375-1.371l2.375 1.371l2.375-1.371l2.375 1.371l2.375-1.371l2.375 1.371l2.375-1.371l2.375 1.371l2.375-1.371l2.375 1.371l2.375-1.371l2.375 1.371l2.375-1.371l2.375 1.371l2.375-1.371l2.375 1.371l2.375-1.371l2.375 1.371l2.375-1.371l2.375 1.371l2.375-1.371l2.375 1.371l2.375-1.371l2.375 1.371l2.375-1.371l2.375 1.371l2.375-1.371l2.375 1.371l2.375-1.371l2.375 1.371l2.375-1.371l2.375 1.371l2.375-1.371l2.375 1.371l2.375-1.371l2.375 1.371l2.375-1.371l2.375 1.371l2.375-1.371l2.375 1.371l2.375-1.371l2.375 1.371v2.742m-4.750-2.742v2.742m-4.750-2.742v2.742m-4.750-2.742v2.742m-4.750-2.742v2.742m-4.750-2.742v2.742m-4.750-2.742v2.742m-4.750-2.742v2.742m-4.750-2.742v2.742m-4.750-2.742v2.742m-4.750-2.742v2.742m-4.750-2.742v2.742m-4.750-2.742v2.742m-4.750-2.742v2.742m-4.750-2.742v2.742m-4.750-2.742v2.742m-4.750-2.742v2.742m-4.750-2.742v2.742m-4.750-2.742v2.742m-4.750-2.742v2.742m-4.750-2.742v2.742m-4.750-2.742v2.742m-4.750-2.742v2.742m-4.750-2.742v2.742m-4.750-2.742v2.742m-4.750-2.742v2.742m-4.750-2.742v2.742m-4.750-2.742v2.742m-4.750-2.742v2.742M-5.38 13.94l2.375-1.371l2.375 1.371l2.375-1.371l2.375 1.371l2.375-1.371l2.375 1.371l2.375-1.371l2.375 1.371l2.375-1.371l2.375 1.371l2.375-1.371l2.375 1.371l2.375-1.371l2.375 1.371l2.375-1.371l2.375 1.371l2.375-1.371l2.375 1.371l2.375-1.371l2.375 1.371l2.375-1.371l2.375 1.371l2.375-1.371l2.375 1.371l2.375-1.371l2.375 1.371l2.375-1.371l2.375 1.371l2.375-1.371l2.375 1.371l2.375-1.371l2.375 1.371l2.375-1.371l2.375 1.371l2.375-1.371l2.375 1.371l2.375-1.371l2.375 1.371l2.375-1.371l2.375 1.371l2.375-1.371l2.375 1.371l2.375-1.371l2.375 1.371l2.375-1.371l2.375 1.371l2.375-1.371l2.375 1.371l2.375-1.371l2.375 1.371l2.375-1.371l2.375 1.371l2.375-1.371l2.375 1.371l2.375-1.371l2.375 1.371v2.742m-4.750-2.742v2.742m-4.750-2.742v2.742m-4.750-2.742v2.742m-4.750-2.742v2.742m-4.750-2.742v2.742m-4.750-2.742v2.742m-4.750-2.742v2.742m-4.750-2.742v2.742m-4.750-2.742v2.742m-4.750-2.742v2.742m-4.750-2.742v2.742m-4.750-2.742v2.742m-4.750-2.742v2.742m-4.750-2.742v2.742m-4.750-2.742v2.742m-4.750-2.742v2.742m-4.750-2.742v2.742m-4.750-2.742v2.742m-4.750-2.742v2.742m-4.750-2.742v2.742m-4.750-2.742v2.742m-4.750-2.742v2.742m-4.750-2.742v2.742m-4.750-2.742v2.742m-4.750-2.742v2.742m-4.750-2.742v2.742m-4.750-2.742v2.742m-4.750-2.742v2.742M-3.00 18.05l2.375-1.371l2.375 1.371l2.375-1.371l2.375 1.371l2.375-1.371l2.375 1.371l2.375-1.371l2.375 1.371l2.375-1.371l2.375 1.371l2.375-1.371l2.375 1.371l2.375-1.371l2.375 1.371l2.375-1.371l2.375 1.371l2.375-1.371l2.375 1.371l2.375-1.371l2.375 1.371l2.375-1.371l2.375 1.371l2.375-1.371l2.375 1.371l2.375-1.371l2.375 1.371l2.375-1.371l2.375 1.371l2.375-1.371l2.375 1.371l2.375-1.371l2.375 1.371l2.375-1.371l2.375 1.371l2.375-1.371l2.375 1.371l2.375-1.371l2.375 1.371l2.375-1.371l2.375 1.371l2.375-1.371l2.375 1.371l2.375-1.371l2.375 1.371l2.375-1.371l2.375 1.371l2.375-1.371l2.375 1.371l2.375-1.371l2.375 1.371l2.375-1.371l2.375 1.371l2.375-1.371l2.375 1.371l2.375-1.371l2.375 1.371v2.742m-4.750-2.742v2.742m-4.750-2.742v2.742m-4.750-2.742v2.742m-4.750-2.742v2.742m-4.750-2.742v2.742m-4.750-2.742v2.742m-4.750-2.742v2.742m-4.750-2.742v2.742m-4.750-2.742v2.742m-4.750-2.742v2.742m-4.750-2.742v2.742m-4.750-2.742v2.742m-4.750-2.742v2.742m-4.750-2.742v2.742m-4.750-2.742v2.742m-4.750-2.742v2.742m-4.750-2.742v2.742m-4.750-2.742v2.742m-4.750-2.742v2.742m-4.750-2.742v2.742m-4.750-2.742v2.742m-4.750-2.742v2.742m-4.750-2.742v2.742m-4.750-2.742v2.742m-4.750-2.742v2.742m-4.750-2.742v2.742m-4.750-2.742v2.742m-4.750-2.742v2.742M-5.38 22.17l2.375-1.371l2.375 1.371l2.375-1.371l2.375 1.371l2.375-1.371l2.375 1.371l2.375-1.371l2.375 1.371l2.375-1.371l2.375 1.371l2.375-1.371l2.375 1.371l2.375-1.371l2.375 1.371l2.375-1.371l2.375 1.371l2.375-1.371l2.375 1.371l2.375-1.371l2.375 1.371l2.375-1.371l2.375 1.371l2.375-1.371l2.375 1.371l2.375-1.371l2.375 1.371l2.375-1.371l2.375 1.371l2.375-1.371l2.375 1.371l2.375-1.371l2.375 1.371l2.375-1.371l2.375 1.371l2.375-1.371l2.375 1.371l2.375-1.371l2.375 1.371l2.375-1.371l2.375 1.371l2.375-1.371l2.375 1.371l2.375-1.371l2.375 1.371l2.375-1.371l2.375 1.371l2.375-1.371l2.375 1.371l2.375-1.371l2.375 1.371l2.375-1.371l2.375 1.371l2.375-1.371l2.375 1.371l2.375-1.371l2.375 1.371v2.742m-4.750-2.742v2.742m-4.750-2.742v2.742m-4.750-2.742v2.742m-4.750-2.742v2.742m-4.750-2.742v2.742m-4.750-2.742v2.742m-4.750-2.742v2.742m-4.750-2.742v2.742m-4.750-2.742v2.742m-4.750-2.742v2.742m-4.750-2.742v2.742m-4.750-2.742v2.742m-4.750-2.742v2.742m-4.750-2.742v2.742m-4.750-2.742v2.742m-4.750-2.742v2.742m-4.750-2.742v2.742m-4.750-2.742v2.742m-4.750-2.742v2.742m-4.750-2.742v2.742m-4.750-2.742v2.742m-4.750-2.742v2.742m-4.750-2.742v2.742m-4.750-2.742v2.742m-4.750-2.742v2.742m-4.750-2.742v2.742m-4.750-2.742v2.742m-4.750-2.742v2.742M-3.00 26.28l2.375-1.371l2.375 1.371l2.375-1.371l2.375 1.371l2.375-1.371l2.375 1.371l2.375-1.371l2.375 1.371l2.375-1.371l2.375 1.371l2.375-1.371l2.375 1.371l2.375-1.371l2.375 1.371l2.375-1.371l2.375 1.371l2.375-1.371l2.375 1.371l2.375-1.371l2.375 1.371l2.375-1.371l2.375 1.371l2.375-1.371l2.375 1.371l2.375-1.371l2.375 1.371l2.375-1.371l2.375 1.371l2.375-1.371l2.375 1.371l2.375-1.371l2.375 1.371l2.375-1.371l2.375 1.371l2.375-1.371l2.375 1.371l2.375-1.371l2.375 1.371l2.375-1.371l2.375 1.371l2.375-1.371l2.375 1.371l2.375-1.371l2.375 1.371l2.375-1.371l2.375 1.371l2.375-1.371l2.375 1.371l2.375-1.371l2.375 1.371l2.375-1.371l2.375 1.371l2.375-1.371l2.375 1.371l2.375-1.371l2.375 1.371v2.742m-4.750-2.742v2.742m-4.750-2.742v2.742m-4.750-2.742v2.742m-4.750-2.742v2.742m-4.750-2.742v2.742m-4.750-2.742v2.742m-4.750-2.742v2.742m-4.750-2.742v2.742m-4.750-2.742v2.742m-4.750-2.742v2.742m-4.750-2.742v2.742m-4.750-2.742v2.742m-4.750-2.742v2.742m-4.750-2.742v2.742m-4.750-2.742v2.742m-4.750-2.742v2.742m-4.750-2.742v2.742m-4.750-2.742v2.742m-4.750-2.742v2.742m-4.750-2.742v2.742m-4.750-2.742v2.742m-4.750-2.742v2.742m-4.750-2.742v2.742m-4.750-2.742v2.742m-4.750-2.742v2.742m-4.750-2.742v2.742m-4.750-2.742v2.742m-4.750-2.742v2.742M-5.38 30.40l2.375-1.371l2.375 1.371l2.375-1.371l2.375 1.371l2.375-1.371l2.375 1.371l2.375-1.371l2.375 1.371l2.375-1.371l2.375 1.371l2.375-1.371l2.375 1.371l2.375-1.371l2.375 1.371l2.375-1.371l2.375 1.371l2.375-1.371l2.375 1.371l2.375-1.371l2.375 1.371l2.375-1.371l2.375 1.371l2.375-1.371l2.375 1.371l2.375-1.371l2.375 1.371l2.375-1.371l2.375 1.371l2.375-1.371l2.375 1.371l2.375-1.371l2.375 1.371l2.375-1.371l2.375 1.371l2.375-1.371l2.375 1.371l2.375-1.371l2.375 1.371l2.375-1.371l2.375 1.371l2.375-1.371l2.375 1.371l2.375-1.371l2.375 1.371l2.375-1.371l2.375 1.371l2.375-1.371l2.375 1.371l2.375-1.371l2.375 1.371l2.375-1.371l2.375 1.371l2.375-1.371l2.375 1.371l2.375-1.371l2.375 1.371v2.742m-4.750-2.742v2.742m-4.750-2.742v2.742m-4.750-2.742v2.742m-4.750-2.742v2.742m-4.750-2.742v2.742m-4.750-2.742v2.742m-4.750-2.742v2.742m-4.750-2.742v2.742m-4.750-2.742v2.742m-4.750-2.742v2.742m-4.750-2.742v2.742m-4.750-2.742v2.742m-4.750-2.742v2.742m-4.750-2.742v2.742m-4.750-2.742v2.742m-4.750-2.742v2.742m-4.750-2.742v2.742m-4.750-2.742v2.742m-4.750-2.742v2.742m-4.750-2.742v2.742m-4.750-2.742v2.742m-4.750-2.742v2.742m-4.750-2.742v2.742m-4.750-2.742v2.742m-4.750-2.742v2.742m-4.750-2.742v2.742m-4.750-2.742v2.742m-4.750-2.742v2.742M-3.00 34.51l2.375-1.371l2.375 1.371l2.375-1.371l2.375 1.371l2.375-1.371l2.375 1.371l2.375-1.371l2.375 1.371l2.375-1.371l2.375 1.371l2.375-1.371l2.375 1.371l2.375-1.371l2.375 1.371l2.375-1.371l2.375 1.371l2.375-1.371l2.375 1.371l2.375-1.371l2.375 1.371l2.375-1.371l2.375 1.371l2.375-1.371l2.375 1.371l2.375-1.371l2.375 1.371l2.375-1.371l2.375 1.371l2.375-1.371l2.375 1.371l2.375-1.371l2.375 1.371l2.375-1.371l2.375 1.371l2.375-1.371l2.375 1.371l2.375-1.371l2.375 1.371l2.375-1.371l2.375 1.371l2.375-1.371l2.375 1.371l2.375-1.371l2.375 1.371l2.375-1.371l2.375 1.371l2.375-1.371l2.375 1.371l2.375-1.371l2.375 1.371l2.375-1.371l2.375 1.371l2.375-1.371l2.375 1.371l2.375-1.371l2.375 1.371v2.742m-4.750-2.742v2.742m-4.750-2.742v2.742m-4.750-2.742v2.742m-4.750-2.742v2.742m-4.750-2.742v2.742m-4.750-2.742v2.742m-4.750-2.742v2.742m-4.750-2.742v2.742m-4.750-2.742v2.742m-4.750-2.742v2.742m-4.750-2.742v2.742m-4.750-2.742v2.742m-4.750-2.742v2.742m-4.750-2.742v2.742m-4.750-2.742v2.742m-4.750-2.742v2.742m-4.750-2.742v2.742m-4.750-2.742v2.742m-4.750-2.742v2.742m-4.750-2.742v2.742m-4.750-2.742v2.742m-4.750-2.742v2.742m-4.750-2.742v2.742m-4.750-2.742v2.742m-4.750-2.742v2.742m-4.750-2.742v2.742m-4.750-2.742v2.742m-4.750-2.742v2.742M-5.38 38.62l2.375-1.371l2.375 1.371l2.375-1.371l2.375 1.371l2.375-1.371l2.375 1.371l2.375-1.371l2.375 1.371l2.375-1.371l2.375 1.371l2.375-1.371l2.375 1.371l2.375-1.371l2.375 1.371l2.375-1.371l2.375 1.371l2.375-1.371l2.375 1.371l2.375-1.371l2.375 1.371l2.375-1.371l2.375 1.371l2.375-1.371l2.375 1.371l2.375-1.371l2.375 1.371l2.375-1.371l2.375 1.371l2.375-1.371l2.375 1.371l2.375-1.371l2.375 1.371l2.375-1.371l2.375 1.371l2.375-1.371l2.375 1.371l2.375-1.371l2.375 1.371l2.375-1.371l2.375 1.371l2.375-1.371l2.375 1.371l2.375-1.371l2.375 1.371l2.375-1.371l2.375 1.371l2.375-1.371l2.375 1.371l2.375-1.371l2.375 1.371l2.375-1.371l2.375 1.371l2.375-1.371l2.375 1.371l2.375-1.371l2.375 1.371v2.742m-4.750-2.742v2.742m-4.750-2.742v2.742m-4.750-2.742v2.742m-4.750-2.742v2.742m-4.750-2.742v2.742m-4.750-2.742v2.742m-4.750-2.742v2.742m-4.750-2.742v2.742m-4.750-2.742v2.742m-4.750-2.742v2.742m-4.750-2.742v2.742m-4.750-2.742v2.742m-4.750-2.742v2.742m-4.750-2.742v2.742m-4.750-2.742v2.742m-4.750-2.742v2.742m-4.750-2.742v2.742m-4.750-2.742v2.742m-4.750-2.742v2.742m-4.750-2.742v2.742m-4.750-2.742v2.742m-4.750-2.742v2.742m-4.750-2.742v2.742m-4.750-2.742v2.742m-4.750-2.742v2.742m-4.750-2.742v2.742m-4.750-2.742v2.742m-4.750-2.742v2.742M-3.00 42.74l2.375-1.371l2.375 1.371l2.375-1.371l2.375 1.371l2.375-1.371l2.375 1.371l2.375-1.371l2.375 1.371l2.375-1.371l2.375 1.371l2.375-1.371l2.375 1.371l2.375-1.371l2.375 1.371l2.375-1.371l2.375 1.371l2.375-1.371l2.375 1.371l2.375-1.371l2.375 1.371l2.375-1.371l2.375 1.371l2.375-1.371l2.375 1.371l2.375-1.371l2.375 1.371l2.375-1.371l2.375 1.371l2.375-1.371l2.375 1.371l2.375-1.371l2.375 1.371l2.375-1.371l2.375 1.371l2.375-1.371l2.375 1.371l2.375-1.371l2.375 1.371l2.375-1.371l2.375 1.371l2.375-1.371l2.375 1.371l2.375-1.371l2.375 1.371l2.375-1.371l2.375 1.371l2.375-1.371l2.375 1.371l2.375-1.371l2.375 1.371l2.375-1.371l2.375 1.371l2.375-1.371l2.375 1.371l2.375-1.371l2.375 1.371v2.742m-4.750-2.742v2.742m-4.750-2.742v2.742m-4.750-2.742v2.742m-4.750-2.742v2.742m-4.750-2.742v2.742m-4.750-2.742v2.742m-4.750-2.742v2.742m-4.750-2.742v2.742m-4.750-2.742v2.742m-4.750-2.742v2.742m-4.750-2.742v2.742m-4.750-2.742v2.742m-4.750-2.742v2.742m-4.750-2.742v2.742m-4.750-2.742v2.742m-4.750-2.742v2.742m-4.750-2.742v2.742m-4.750-2.742v2.742m-4.750-2.742v2.742m-4.750-2.742v2.742m-4.750-2.742v2.742m-4.750-2.742v2.742m-4.750-2.742v2.742m-4.750-2.742v2.742m-4.750-2.742v2.742m-4.750-2.742v2.742m-4.750-2.742v2.742m-4.750-2.742v2.742M-5.38 46.85l2.375-1.371l2.375 1.371l2.375-1.371l2.375 1.371l2.375-1.371l2.375 1.371l2.375-1.371l2.375 1.371l2.375-1.371l2.375 1.371l2.375-1.371l2.375 1.371l2.375-1.371l2.375 1.371l2.375-1.371l2.375 1.371l2.375-1.371l2.375 1.371l2.375-1.371l2.375 1.371l2.375-1.371l2.375 1.371l2.375-1.371l2.375 1.371l2.375-1.371l2.375 1.371l2.375-1.371l2.375 1.371l2.375-1.371l2.375 1.371l2.375-1.371l2.375 1.371l2.375-1.371l2.375 1.371l2.375-1.371l2.375 1.371l2.375-1.371l2.375 1.371l2.375-1.371l2.375 1.371l2.375-1.371l2.375 1.371l2.375-1.371l2.375 1.371l2.375-1.371l2.375 1.371l2.375-1.371l2.375 1.371l2.375-1.371l2.375 1.371l2.375-1.371l2.375 1.371l2.375-1.371l2.375 1.371l2.375-1.371l2.375 1.371v2.742m-4.750-2.742v2.742m-4.750-2.742v2.742m-4.750-2.742v2.742m-4.750-2.742v2.742m-4.750-2.742v2.742m-4.750-2.742v2.742m-4.750-2.742v2.742m-4.750-2.742v2.742m-4.750-2.742v2.742m-4.750-2.742v2.742m-4.750-2.742v2.742m-4.750-2.742v2.742m-4.750-2.742v2.742m-4.750-2.742v2.742m-4.750-2.742v2.742m-4.750-2.742v2.742m-4.750-2.742v2.742m-4.750-2.742v2.742m-4.750-2.742v2.742m-4.750-2.742v2.742m-4.750-2.742v2.742m-4.750-2.742v2.742m-4.750-2.742v2.742m-4.750-2.742v2.742m-4.750-2.742v2.742m-4.750-2.742v2.742m-4.750-2.742v2.742m-4.750-2.742v2.742M-3.00 50.96l2.375-1.371l2.375 1.371l2.375-1.371l2.375 1.371l2.375-1.371l2.375 1.371l2.375-1.371l2.375 1.371l2.375-1.371l2.375 1.371l2.375-1.371l2.375 1.371l2.375-1.371l2.375 1.371l2.375-1.371l2.375 1.371l2.375-1.371l2.375 1.371l2.375-1.371l2.375 1.371l2.375-1.371l2.375 1.371l2.375-1.371l2.375 1.371l2.375-1.371l2.375 1.371l2.375-1.371l2.375 1.371l2.375-1.371l2.375 1.371l2.375-1.371l2.375 1.371l2.375-1.371l2.375 1.371l2.375-1.371l2.375 1.371l2.375-1.371l2.375 1.371l2.375-1.371l2.375 1.371l2.375-1.371l2.375 1.371l2.375-1.371l2.375 1.371l2.375-1.371l2.375 1.371l2.375-1.371l2.375 1.371l2.375-1.371l2.375 1.371l2.375-1.371l2.375 1.371l2.375-1.371l2.375 1.371l2.375-1.371l2.375 1.371v2.742m-4.750-2.742v2.742m-4.750-2.742v2.742m-4.750-2.742v2.742m-4.750-2.742v2.742m-4.750-2.742v2.742m-4.750-2.742v2.742m-4.750-2.742v2.742m-4.750-2.742v2.742m-4.750-2.742v2.742m-4.750-2.742v2.742m-4.750-2.742v2.742m-4.750-2.742v2.742m-4.750-2.742v2.742m-4.750-2.742v2.742m-4.750-2.742v2.742m-4.750-2.742v2.742m-4.750-2.742v2.742m-4.750-2.742v2.742m-4.750-2.742v2.742m-4.750-2.742v2.742m-4.750-2.742v2.742m-4.750-2.742v2.742m-4.750-2.742v2.742m-4.750-2.742v2.742m-4.750-2.742v2.742m-4.750-2.742v2.742m-4.750-2.742v2.742m-4.750-2.742v2.742M-5.38 55.08l2.375-1.371l2.375 1.371l2.375-1.371l2.375 1.371l2.375-1.371l2.375 1.371l2.375-1.371l2.375 1.371l2.375-1.371l2.375 1.371l2.375-1.371l2.375 1.371l2.375-1.371l2.375 1.371l2.375-1.371l2.375 1.371l2.375-1.371l2.375 1.371l2.375-1.371l2.375 1.371l2.375-1.371l2.375 1.371l2.375-1.371l2.375 1.371l2.375-1.371l2.375 1.371l2.375-1.371l2.375 1.371l2.375-1.371l2.375 1.371l2.375-1.371l2.375 1.371l2.375-1.371l2.375 1.371l2.375-1.371l2.375 1.371l2.375-1.371l2.375 1.371l2.375-1.371l2.375 1.371l2.375-1.371l2.375 1.371l2.375-1.371l2.375 1.371l2.375-1.371l2.375 1.371l2.375-1.371l2.375 1.371l2.375-1.371l2.375 1.371l2.375-1.371l2.375 1.371l2.375-1.371l2.375 1.371l2.375-1.371l2.375 1.371v2.742m-4.750-2.742v2.742m-4.750-2.742v2.742m-4.750-2.742v2.742m-4.750-2.742v2.742m-4.750-2.742v2.742m-4.750-2.742v2.742m-4.750-2.742v2.742m-4.750-2.742v2.742m-4.750-2.742v2.742m-4.750-2.742v2.742m-4.750-2.742v2.742m-4.750-2.742v2.742m-4.750-2.742v2.742m-4.750-2.742v2.742m-4.750-2.742v2.742m-4.750-2.742v2.742m-4.750-2.742v2.742m-4.750-2.742v2.742m-4.750-2.742v2.742m-4.750-2.742v2.742m-4.750-2.742v2.742m-4.750-2.742v2.742m-4.750-2.742v2.742m-4.750-2.742v2.742m-4.750-2.742v2.742m-4.750-2.742v2.742m-4.750-2.742v2.742m-4.750-2.742v2.742M-3.00 59.19l2.375-1.371l2.375 1.371l2.375-1.371l2.375 1.371l2.375-1.371l2.375 1.371l2.375-1.371l2.375 1.371l2.375-1.371l2.375 1.371l2.375-1.371l2.375 1.371l2.375-1.371l2.375 1.371l2.375-1.371l2.375 1.371l2.375-1.371l2.375 1.371l2.375-1.371l2.375 1.371l2.375-1.371l2.375 1.371l2.375-1.371l2.375 1.371l2.375-1.371l2.375 1.371l2.375-1.371l2.375 1.371l2.375-1.371l2.375 1.371l2.375-1.371l2.375 1.371l2.375-1.371l2.375 1.371l2.375-1.371l2.375 1.371l2.375-1.371l2.375 1.371l2.375-1.371l2.375 1.371l2.375-1.371l2.375 1.371l2.375-1.371l2.375 1.371l2.375-1.371l2.375 1.371l2.375-1.371l2.375 1.371l2.375-1.371l2.375 1.371l2.375-1.371l2.375 1.371l2.375-1.371l2.375 1.371l2.375-1.371l2.375 1.371v2.742m-4.750-2.742v2.742m-4.750-2.742v2.742m-4.750-2.742v2.742m-4.750-2.742v2.742m-4.750-2.742v2.742m-4.750-2.742v2.742m-4.750-2.742v2.742m-4.750-2.742v2.742m-4.750-2.742v2.742m-4.750-2.742v2.742m-4.750-2.742v2.742m-4.750-2.742v2.742m-4.750-2.742v2.742m-4.750-2.742v2.742m-4.750-2.742v2.742m-4.750-2.742v2.742m-4.750-2.742v2.742m-4.750-2.742v2.742m-4.750-2.742v2.742m-4.750-2.742v2.742m-4.750-2.742v2.742m-4.750-2.742v2.742m-4.750-2.742v2.742m-4.750-2.742v2.742m-4.750-2.742v2.742m-4.750-2.742v2.742m-4.750-2.742v2.742m-4.750-2.742v2.742M-5.38 63.30l2.375-1.371l2.375 1.371l2.375-1.371l2.375 1.371l2.375-1.371l2.375 1.371l2.375-1.371l2.375 1.371l2.375-1.371l2.375 1.371l2.375-1.371l2.375 1.371l2.375-1.371l2.375 1.371l2.375-1.371l2.375 1.371l2.375-1.371l2.375 1.371l2.375-1.371l2.375 1.371l2.375-1.371l2.375 1.371l2.375-1.371l2.375 1.371l2.375-1.371l2.375 1.371l2.375-1.371l2.375 1.371l2.375-1.371l2.375 1.371l2.375-1.371l2.375 1.371l2.375-1.371l2.375 1.371l2.375-1.371l2.375 1.371l2.375-1.371l2.375 1.371l2.375-1.371l2.375 1.371l2.375-1.371l2.375 1.371l2.375-1.371l2.375 1.371l2.375-1.371l2.375 1.371l2.375-1.371l2.375 1.371l2.375-1.371l2.375 1.371l2.375-1.371l2.375 1.371l2.375-1.371l2.375 1.371l2.375-1.371l2.375 1.371v2.742m-4.750-2.742v2.742m-4.750-2.742v2.742m-4.750-2.742v2.742m-4.750-2.742v2.742m-4.750-2.742v2.742m-4.750-2.742v2.742m-4.750-2.742v2.742m-4.750-2.742v2.742m-4.750-2.742v2.742m-4.750-2.742v2.742m-4.750-2.742v2.742m-4.750-2.742v2.742m-4.750-2.742v2.742m-4.750-2.742v2.742m-4.750-2.742v2.742m-4.750-2.742v2.742m-4.750-2.742v2.742m-4.750-2.742v2.742m-4.750-2.742v2.742m-4.750-2.742v2.742m-4.750-2.742v2.742m-4.750-2.742v2.742m-4.750-2.742v2.742m-4.750-2.742v2.742m-4.750-2.742v2.742m-4.750-2.742v2.742m-4.750-2.742v2.742m-4.750-2.742v2.742M-3.00 67.42l2.375-1.371l2.375 1.371l2.375-1.371l2.375 1.371l2.375-1.371l2.375 1.371l2.375-1.371l2.375 1.371l2.375-1.371l2.375 1.371l2.375-1.371l2.375 1.371l2.375-1.371l2.375 1.371l2.375-1.371l2.375 1.371l2.375-1.371l2.375 1.371l2.375-1.371l2.375 1.371l2.375-1.371l2.375 1.371l2.375-1.371l2.375 1.371l2.375-1.371l2.375 1.371l2.375-1.371l2.375 1.371l2.375-1.371l2.375 1.371l2.375-1.371l2.375 1.371l2.375-1.371l2.375 1.371l2.375-1.371l2.375 1.371l2.375-1.371l2.375 1.371l2.375-1.371l2.375 1.371l2.375-1.371l2.375 1.371l2.375-1.371l2.375 1.371l2.375-1.371l2.375 1.371l2.375-1.371l2.375 1.371l2.375-1.371l2.375 1.371l2.375-1.371l2.375 1.371l2.375-1.371l2.375 1.371l2.375-1.371l2.375 1.371v2.742m-4.750-2.742v2.742m-4.750-2.742v2.742m-4.750-2.742v2.742m-4.750-2.742v2.742m-4.750-2.742v2.742m-4.750-2.742v2.742m-4.750-2.742v2.742m-4.750-2.742v2.742m-4.750-2.742v2.742m-4.750-2.742v2.742m-4.750-2.742v2.742m-4.750-2.742v2.742m-4.750-2.742v2.742m-4.750-2.742v2.742m-4.750-2.742v2.742m-4.750-2.742v2.742m-4.750-2.742v2.742m-4.750-2.742v2.742m-4.750-2.742v2.742m-4.750-2.742v2.742m-4.750-2.742v2.742m-4.750-2.742v2.742m-4.750-2.742v2.742m-4.750-2.742v2.742m-4.750-2.742v2.742m-4.750-2.742v2.742m-4.750-2.742v2.742m-4.750-2.742v2.742M-5.38 71.53l2.375-1.371l2.375 1.371l2.375-1.371l2.375 1.371l2.375-1.371l2.375 1.371l2.375-1.371l2.375 1.371l2.375-1.371l2.375 1.371l2.375-1.371l2.375 1.371l2.375-1.371l2.375 1.371l2.375-1.371l2.375 1.371l2.375-1.371l2.375 1.371l2.375-1.371l2.375 1.371l2.375-1.371l2.375 1.371l2.375-1.371l2.375 1.371l2.375-1.371l2.375 1.371l2.375-1.371l2.375 1.371l2.375-1.371l2.375 1.371l2.375-1.371l2.375 1.371l2.375-1.371l2.375 1.371l2.375-1.371l2.375 1.371l2.375-1.371l2.375 1.371l2.375-1.371l2.375 1.371l2.375-1.371l2.375 1.371l2.375-1.371l2.375 1.371l2.375-1.371l2.375 1.371l2.375-1.371l2.375 1.371l2.375-1.371l2.375 1.371l2.375-1.371l2.375 1.371l2.375-1.371l2.375 1.371l2.375-1.371l2.375 1.371v2.742m-4.750-2.742v2.742m-4.750-2.742v2.742m-4.750-2.742v2.742m-4.750-2.742v2.742m-4.750-2.742v2.742m-4.750-2.742v2.742m-4.750-2.742v2.742m-4.750-2.742v2.742m-4.750-2.742v2.742m-4.750-2.742v2.742m-4.750-2.742v2.742m-4.750-2.742v2.742m-4.750-2.742v2.742m-4.750-2.742v2.742m-4.750-2.742v2.742m-4.750-2.742v2.742m-4.750-2.742v2.742m-4.750-2.742v2.742m-4.750-2.742v2.742m-4.750-2.742v2.742m-4.750-2.742v2.742m-4.750-2.742v2.742m-4.750-2.742v2.742m-4.750-2.742v2.742m-4.750-2.742v2.742m-4.750-2.742v2.742m-4.750-2.742v2.742m-4.750-2.742v2.742M-3.00 75.65l2.375-1.371l2.375 1.371l2.375-1.371l2.375 1.371l2.375-1.371l2.375 1.371l2.375-1.371l2.375 1.371l2.375-1.371l2.375 1.371l2.375-1.371l2.375 1.371l2.375-1.371l2.375 1.371l2.375-1.371l2.375 1.371l2.375-1.371l2.375 1.371l2.375-1.371l2.375 1.371l2.375-1.371l2.375 1.371l2.375-1.371l2.375 1.371l2.375-1.371l2.375 1.371l2.375-1.371l2.375 1.371l2.375-1.371l2.375 1.371l2.375-1.371l2.375 1.371l2.375-1.371l2.375 1.371l2.375-1.371l2.375 1.371l2.375-1.371l2.375 1.371l2.375-1.371l2.375 1.371l2.375-1.371l2.375 1.371l2.375-1.371l2.375 1.371l2.375-1.371l2.375 1.371l2.375-1.371l2.375 1.371l2.375-1.371l2.375 1.371l2.375-1.371l2.375 1.371l2.375-1.371l2.375 1.371l2.375-1.371l2.375 1.371v2.742m-4.750-2.742v2.742m-4.750-2.742v2.742m-4.750-2.742v2.742m-4.750-2.742v2.742m-4.750-2.742v2.742m-4.750-2.742v2.742m-4.750-2.742v2.742m-4.750-2.742v2.742m-4.750-2.742v2.742m-4.750-2.742v2.742m-4.750-2.742v2.742m-4.750-2.742v2.742m-4.750-2.742v2.742m-4.750-2.742v2.742m-4.750-2.742v2.742m-4.750-2.742v2.742m-4.750-2.742v2.742m-4.750-2.742v2.742m-4.750-2.742v2.742m-4.750-2.742v2.742m-4.750-2.742v2.742m-4.750-2.742v2.742m-4.750-2.742v2.742m-4.750-2.742v2.742m-4.750-2.742v2.742m-4.750-2.742v2.742m-4.750-2.742v2.742m-4.750-2.742v2.742M-5.38 79.76l2.375-1.371l2.375 1.371l2.375-1.371l2.375 1.371l2.375-1.371l2.375 1.371l2.375-1.371l2.375 1.371l2.375-1.371l2.375 1.371l2.375-1.371l2.375 1.371l2.375-1.371l2.375 1.371l2.375-1.371l2.375 1.371l2.375-1.371l2.375 1.371l2.375-1.371l2.375 1.371l2.375-1.371l2.375 1.371l2.375-1.371l2.375 1.371l2.375-1.371l2.375 1.371l2.375-1.371l2.375 1.371l2.375-1.371l2.375 1.371l2.375-1.371l2.375 1.371l2.375-1.371l2.375 1.371l2.375-1.371l2.375 1.371l2.375-1.371l2.375 1.371l2.375-1.371l2.375 1.371l2.375-1.371l2.375 1.371l2.375-1.371l2.375 1.371l2.375-1.371l2.375 1.371l2.375-1.371l2.375 1.371l2.375-1.371l2.375 1.371l2.375-1.371l2.375 1.371l2.375-1.371l2.375 1.371l2.375-1.371l2.375 1.371v2.742m-4.750-2.742v2.742m-4.750-2.742v2.742m-4.750-2.742v2.742m-4.750-2.742v2.742m-4.750-2.742v2.742m-4.750-2.742v2.742m-4.750-2.742v2.742m-4.750-2.742v2.742m-4.750-2.742v2.742m-4.750-2.742v2.742m-4.750-2.742v2.742m-4.750-2.742v2.742m-4.750-2.742v2.742m-4.750-2.742v2.742m-4.750-2.742v2.742m-4.750-2.742v2.742m-4.750-2.742v2.742m-4.750-2.742v2.742m-4.750-2.742v2.742m-4.750-2.742v2.742m-4.750-2.742v2.742m-4.750-2.742v2.742m-4.750-2.742v2.742m-4.750-2.742v2.742m-4.750-2.742v2.742m-4.750-2.742v2.742m-4.750-2.742v2.742m-4.750-2.742v2.742M-3.00 83.87l2.375-1.371l2.375 1.371l2.375-1.371l2.375 1.371l2.375-1.371l2.375 1.371l2.375-1.371l2.375 1.371l2.375-1.371l2.375 1.371l2.375-1.371l2.375 1.371l2.375-1.371l2.375 1.371l2.375-1.371l2.375 1.371l2.375-1.371l2.375 1.371l2.375-1.371l2.375 1.371l2.375-1.371l2.375 1.371l2.375-1.371l2.375 1.371l2.375-1.371l2.375 1.371l2.375-1.371l2.375 1.371l2.375-1.371l2.375 1.371l2.375-1.371l2.375 1.371l2.375-1.371l2.375 1.371l2.375-1.371l2.375 1.371l2.375-1.371l2.375 1.371l2.375-1.371l2.375 1.371l2.375-1.371l2.375 1.371l2.375-1.371l2.375 1.371l2.375-1.371l2.375 1.371l2.375-1.371l2.375 1.371l2.375-1.371l2.375 1.371l2.375-1.371l2.375 1.371l2.375-1.371l2.375 1.371l2.375-1.371l2.375 1.371v2.742m-4.750-2.742v2.742m-4.750-2.742v2.742m-4.750-2.742v2.742m-4.750-2.742v2.742m-4.750-2.742v2.742m-4.750-2.742v2.742m-4.750-2.742v2.742m-4.750-2.742v2.742m-4.750-2.742v2.742m-4.750-2.742v2.742m-4.750-2.742v2.742m-4.750-2.742v2.742m-4.750-2.742v2.742m-4.750-2.742v2.742m-4.750-2.742v2.742m-4.750-2.742v2.742m-4.750-2.742v2.742m-4.750-2.742v2.742m-4.750-2.742v2.742m-4.750-2.742v2.742m-4.750-2.742v2.742m-4.750-2.742v2.742m-4.750-2.742v2.742m-4.750-2.742v2.742m-4.750-2.742v2.742m-4.750-2.742v2.742m-4.750-2.742v2.742m-4.750-2.742v2.742M-5.38 87.99l2.375-1.371l2.375 1.371l2.375-1.371l2.375 1.371l2.375-1.371l2.375 1.371l2.375-1.371l2.375 1.371l2.375-1.371l2.375 1.371l2.375-1.371l2.375 1.371l2.375-1.371l2.375 1.371l2.375-1.371l2.375 1.371l2.375-1.371l2.375 1.371l2.375-1.371l2.375 1.371l2.375-1.371l2.375 1.371l2.375-1.371l2.375 1.371l2.375-1.371l2.375 1.371l2.375-1.371l2.375 1.371l2.375-1.371l2.375 1.371l2.375-1.371l2.375 1.371l2.375-1.371l2.375 1.371l2.375-1.371l2.375 1.371l2.375-1.371l2.375 1.371l2.375-1.371l2.375 1.371l2.375-1.371l2.375 1.371l2.375-1.371l2.375 1.371l2.375-1.371l2.375 1.371l2.375-1.371l2.375 1.371l2.375-1.371l2.375 1.371l2.375-1.371l2.375 1.371l2.375-1.371l2.375 1.371l2.375-1.371l2.375 1.371v2.742m-4.750-2.742v2.742m-4.750-2.742v2.742m-4.750-2.742v2.742m-4.750-2.742v2.742m-4.750-2.742v2.742m-4.750-2.742v2.742m-4.750-2.742v2.742m-4.750-2.742v2.742m-4.750-2.742v2.742m-4.750-2.742v2.742m-4.750-2.742v2.742m-4.750-2.742v2.742m-4.750-2.742v2.742m-4.750-2.742v2.742m-4.750-2.742v2.742m-4.750-2.742v2.742m-4.750-2.742v2.742m-4.750-2.742v2.742m-4.750-2.742v2.742m-4.750-2.742v2.742m-4.750-2.742v2.742m-4.750-2.742v2.742m-4.750-2.742v2.742m-4.750-2.742v2.742m-4.750-2.742v2.742m-4.750-2.742v2.742m-4.750-2.742v2.742m-4.750-2.742v2.742M-3.00 92.10l2.375-1.371l2.375 1.371l2.375-1.371l2.375 1.371l2.375-1.371l2.375 1.371l2.375-1.371l2.375 1.371l2.375-1.371l2.375 1.371l2.375-1.371l2.375 1.371l2.375-1.371l2.375 1.371l2.375-1.371l2.375 1.371l2.375-1.371l2.375 1.371l2.375-1.371l2.375 1.371l2.375-1.371l2.375 1.371l2.375-1.371l2.375 1.371l2.375-1.371l2.375 1.371l2.375-1.371l2.375 1.371l2.375-1.371l2.375 1.371l2.375-1.371l2.375 1.371l2.375-1.371l2.375 1.371l2.375-1.371l2.375 1.371l2.375-1.371l2.375 1.371l2.375-1.371l2.375 1.371l2.375-1.371l2.375 1.371l2.375-1.371l2.375 1.371l2.375-1.371l2.375 1.371l2.375-1.371l2.375 1.371l2.375-1.371l2.375 1.371l2.375-1.371l2.375 1.371l2.375-1.371l2.375 1.371l2.375-1.371l2.375 1.371v2.742m-4.750-2.742v2.742m-4.750-2.742v2.742m-4.750-2.742v2.742m-4.750-2.742v2.742m-4.750-2.742v2.742m-4.750-2.742v2.742m-4.750-2.742v2.742m-4.750-2.742v2.742m-4.750-2.742v2.742m-4.750-2.742v2.742m-4.750-2.742v2.742m-4.750-2.742v2.742m-4.750-2.742v2.742m-4.750-2.742v2.742m-4.750-2.742v2.742m-4.750-2.742v2.742m-4.750-2.742v2.742m-4.750-2.742v2.742m-4.750-2.742v2.742m-4.750-2.742v2.742m-4.750-2.742v2.742m-4.750-2.742v2.742m-4.750-2.742v2.742m-4.750-2.742v2.742m-4.750-2.742v2.742m-4.750-2.742v2.742m-4.750-2.742v2.742m-4.750-2.742v2.742M-5.38 96.21l2.375-1.371l2.375 1.371l2.375-1.371l2.375 1.371l2.375-1.371l2.375 1.371l2.375-1.371l2.375 1.371l2.375-1.371l2.375 1.371l2.375-1.371l2.375 1.371l2.375-1.371l2.375 1.371l2.375-1.371l2.375 1.371l2.375-1.371l2.375 1.371l2.375-1.371l2.375 1.371l2.375-1.371l2.375 1.371l2.375-1.371l2.375 1.371l2.375-1.371l2.375 1.371l2.375-1.371l2.375 1.371l2.375-1.371l2.375 1.371l2.375-1.371l2.375 1.371l2.375-1.371l2.375 1.371l2.375-1.371l2.375 1.371l2.375-1.371l2.375 1.371l2.375-1.371l2.375 1.371l2.375-1.371l2.375 1.371l2.375-1.371l2.375 1.371l2.375-1.371l2.375 1.371l2.375-1.371l2.375 1.371l2.375-1.371l2.375 1.371l2.375-1.371l2.375 1.371l2.375-1.371l2.375 1.371l2.375-1.371l2.375 1.371v2.742m-4.750-2.742v2.742m-4.750-2.742v2.742m-4.750-2.742v2.742m-4.750-2.742v2.742m-4.750-2.742v2.742m-4.750-2.742v2.742m-4.750-2.742v2.742m-4.750-2.742v2.742m-4.750-2.742v2.742m-4.750-2.742v2.742m-4.750-2.742v2.742m-4.750-2.742v2.742m-4.750-2.742v2.742m-4.750-2.742v2.742m-4.750-2.742v2.742m-4.750-2.742v2.742m-4.750-2.742v2.742m-4.750-2.742v2.742m-4.750-2.742v2.742m-4.750-2.742v2.742m-4.750-2.742v2.742m-4.750-2.742v2.742m-4.750-2.742v2.742m-4.750-2.742v2.742m-4.750-2.742v2.742m-4.750-2.742v2.742m-4.750-2.742v2.742m-4.750-2.742v2.742M-3.00 100.33l2.375-1.371l2.375 1.371l2.375-1.371l2.375 1.371l2.375-1.371l2.375 1.371l2.375-1.371l2.375 1.371l2.375-1.371l2.375 1.371l2.375-1.371l2.375 1.371l2.375-1.371l2.375 1.371l2.375-1.371l2.375 1.371l2.375-1.371l2.375 1.371l2.375-1.371l2.375 1.371l2.375-1.371l2.375 1.371l2.375-1.371l2.375 1.371l2.375-1.371l2.375 1.371l2.375-1.371l2.375 1.371l2.375-1.371l2.375 1.371l2.375-1.371l2.375 1.371l2.375-1.371l2.375 1.371l2.375-1.371l2.375 1.371l2.375-1.371l2.375 1.371l2.375-1.371l2.375 1.371l2.375-1.371l2.375 1.371l2.375-1.371l2.375 1.371l2.375-1.371l2.375 1.371l2.375-1.371l2.375 1.371l2.375-1.371l2.375 1.371l2.375-1.371l2.375 1.371l2.375-1.371l2.375 1.371l2.375-1.371l2.375 1.371v2.742m-4.750-2.742v2.742m-4.750-2.742v2.742m-4.750-2.742v2.742m-4.750-2.742v2.742m-4.750-2.742v2.742m-4.750-2.742v2.742m-4.750-2.742v2.742m-4.750-2.742v2.742m-4.750-2.742v2.742m-4.750-2.742v2.742m-4.750-2.742v2.742m-4.750-2.742v2.742m-4.750-2.742v2.742m-4.750-2.742v2.742m-4.750-2.742v2.742m-4.750-2.742v2.742m-4.750-2.742v2.742m-4.750-2.742v2.742m-4.750-2.742v2.742m-4.750-2.742v2.742m-4.750-2.742v2.742m-4.750-2.742v2.742m-4.750-2.742v2.742m-4.750-2.742v2.742m-4.750-2.742v2.742m-4.750-2.742v2.742m-4.750-2.742v2.742m-4.750-2.742v2.742M-5.38 104.44l2.375-1.371l2.375 1.371l2.375-1.371l2.375 1.371l2.375-1.371l2.375 1.371l2.375-1.371l2.375 1.371l2.375-1.371l2.375 1.371l2.375-1.371l2.375 1.371l2.375-1.371l2.375 1.371l2.375-1.371l2.375 1.371l2.375-1.371l2.375 1.371l2.375-1.371l2.375 1.371l2.375-1.371l2.375 1.371l2.375-1.371l2.375 1.371l2.375-1.371l2.375 1.371l2.375-1.371l2.375 1.371l2.375-1.371l2.375 1.371l2.375-1.371l2.375 1.371l2.375-1.371l2.375 1.371l2.375-1.371l2.375 1.371l2.375-1.371l2.375 1.371l2.375-1.371l2.375 1.371l2.375-1.371l2.375 1.371l2.375-1.371l2.375 1.371l2.375-1.371l2.375 1.371l2.375-1.371l2.375 1.371l2.375-1.371l2.375 1.371l2.375-1.371l2.375 1.371l2.375-1.371l2.375 1.371l2.375-1.371l2.375 1.371v2.742m-4.750-2.742v2.742m-4.750-2.742v2.742m-4.750-2.742v2.742m-4.750-2.742v2.742m-4.750-2.742v2.742m-4.750-2.742v2.742m-4.750-2.742v2.742m-4.750-2.742v2.742m-4.750-2.742v2.742m-4.750-2.742v2.742m-4.750-2.742v2.742m-4.750-2.742v2.742m-4.750-2.742v2.742m-4.750-2.742v2.742m-4.750-2.742v2.742m-4.750-2.742v2.742m-4.750-2.742v2.742m-4.750-2.742v2.742m-4.750-2.742v2.742m-4.750-2.742v2.742m-4.750-2.742v2.742m-4.750-2.742v2.742m-4.750-2.742v2.742m-4.750-2.742v2.742m-4.750-2.742v2.742m-4.750-2.742v2.742m-4.750-2.742v2.742m-4.750-2.742v2.742M-3.00 108.55l2.375-1.371l2.375 1.371l2.375-1.371l2.375 1.371l2.375-1.371l2.375 1.371l2.375-1.371l2.375 1.371l2.375-1.371l2.375 1.371l2.375-1.371l2.375 1.371l2.375-1.371l2.375 1.371l2.375-1.371l2.375 1.371l2.375-1.371l2.375 1.371l2.375-1.371l2.375 1.371l2.375-1.371l2.375 1.371l2.375-1.371l2.375 1.371l2.375-1.371l2.375 1.371l2.375-1.371l2.375 1.371l2.375-1.371l2.375 1.371l2.375-1.371l2.375 1.371l2.375-1.371l2.375 1.371l2.375-1.371l2.375 1.371l2.375-1.371l2.375 1.371l2.375-1.371l2.375 1.371l2.375-1.371l2.375 1.371l2.375-1.371l2.375 1.371l2.375-1.371l2.375 1.371l2.375-1.371l2.375 1.371l2.375-1.371l2.375 1.371l2.375-1.371l2.375 1.371l2.375-1.371l2.375 1.371l2.375-1.371l2.375 1.371v2.742m-4.750-2.742v2.742m-4.750-2.742v2.742m-4.750-2.742v2.742m-4.750-2.742v2.742m-4.750-2.742v2.742m-4.750-2.742v2.742m-4.750-2.742v2.742m-4.750-2.742v2.742m-4.750-2.742v2.742m-4.750-2.742v2.742m-4.750-2.742v2.742m-4.750-2.742v2.742m-4.750-2.742v2.742m-4.750-2.742v2.742m-4.750-2.742v2.742m-4.750-2.742v2.742m-4.750-2.742v2.742m-4.750-2.742v2.742m-4.750-2.742v2.742m-4.750-2.742v2.742m-4.750-2.742v2.742m-4.750-2.742v2.742m-4.750-2.742v2.742m-4.750-2.742v2.742m-4.750-2.742v2.742m-4.750-2.742v2.742m-4.750-2.742v2.742m-4.750-2.742v2.742M-5.38 112.67l2.375-1.371l2.375 1.371l2.375-1.371l2.375 1.371l2.375-1.371l2.375 1.371l2.375-1.371l2.375 1.371l2.375-1.371l2.375 1.371l2.375-1.371l2.375 1.371l2.375-1.371l2.375 1.371l2.375-1.371l2.375 1.371l2.375-1.371l2.375 1.371l2.375-1.371l2.375 1.371l2.375-1.371l2.375 1.371l2.375-1.371l2.375 1.371l2.375-1.371l2.375 1.371l2.375-1.371l2.375 1.371l2.375-1.371l2.375 1.371l2.375-1.371l2.375 1.371l2.375-1.371l2.375 1.371l2.375-1.371l2.375 1.371l2.375-1.371l2.375 1.371l2.375-1.371l2.375 1.371l2.375-1.371l2.375 1.371l2.375-1.371l2.375 1.371l2.375-1.371l2.375 1.371l2.375-1.371l2.375 1.371l2.375-1.371l2.375 1.371l2.375-1.371l2.375 1.371l2.375-1.371l2.375 1.371l2.375-1.371l2.375 1.371v2.742m-4.750-2.742v2.742m-4.750-2.742v2.742m-4.750-2.742v2.742m-4.750-2.742v2.742m-4.750-2.742v2.742m-4.750-2.742v2.742m-4.750-2.742v2.742m-4.750-2.742v2.742m-4.750-2.742v2.742m-4.750-2.742v2.742m-4.750-2.742v2.742m-4.750-2.742v2.742m-4.750-2.742v2.742m-4.750-2.742v2.742m-4.750-2.742v2.742m-4.750-2.742v2.742m-4.750-2.742v2.742m-4.750-2.742v2.742m-4.750-2.742v2.742m-4.750-2.742v2.742m-4.750-2.742v2.742m-4.750-2.742v2.742m-4.750-2.742v2.742m-4.750-2.742v2.742m-4.750-2.742v2.742m-4.750-2.742v2.742m-4.750-2.742v2.742m-4.750-2.742v2.742M-3.00 116.78l2.375-1.371l2.375 1.371l2.375-1.371l2.375 1.371l2.375-1.371l2.375 1.371l2.375-1.371l2.375 1.371l2.375-1.371l2.375 1.371l2.375-1.371l2.375 1.371l2.375-1.371l2.375 1.371l2.375-1.371l2.375 1.371l2.375-1.371l2.375 1.371l2.375-1.371l2.375 1.371l2.375-1.371l2.375 1.371l2.375-1.371l2.375 1.371l2.375-1.371l2.375 1.371l2.375-1.371l2.375 1.371l2.375-1.371l2.375 1.371l2.375-1.371l2.375 1.371l2.375-1.371l2.375 1.371l2.375-1.371l2.375 1.371l2.375-1.371l2.375 1.371l2.375-1.371l2.375 1.371l2.375-1.371l2.375 1.371l2.375-1.371l2.375 1.371l2.375-1.371l2.375 1.371l2.375-1.371l2.375 1.371l2.375-1.371l2.375 1.371l2.375-1.371l2.375 1.371l2.375-1.371l2.375 1.371l2.375-1.371l2.375 1.371v2.742m-4.750-2.742v2.742m-4.750-2.742v2.742m-4.750-2.742v2.742m-4.750-2.742v2.742m-4.750-2.742v2.742m-4.750-2.742v2.742m-4.750-2.742v2.742m-4.750-2.742v2.742m-4.750-2.742v2.742m-4.750-2.742v2.742m-4.750-2.742v2.742m-4.750-2.742v2.742m-4.750-2.742v2.742m-4.750-2.742v2.742m-4.750-2.742v2.742m-4.750-2.742v2.742m-4.750-2.742v2.742m-4.750-2.742v2.742m-4.750-2.742v2.742m-4.750-2.742v2.742m-4.750-2.742v2.742m-4.750-2.742v2.742m-4.750-2.742v2.742m-4.750-2.742v2.742m-4.750-2.742v2.742m-4.750-2.742v2.742m-4.750-2.742v2.742m-4.750-2.742v2.742M-5.38 120.89l2.375-1.371l2.375 1.371l2.375-1.371l2.375 1.371l2.375-1.371l2.375 1.371l2.375-1.371l2.375 1.371l2.375-1.371l2.375 1.371l2.375-1.371l2.375 1.371l2.375-1.371l2.375 1.371l2.375-1.371l2.375 1.371l2.375-1.371l2.375 1.371l2.375-1.371l2.375 1.371l2.375-1.371l2.375 1.371l2.375-1.371l2.375 1.371l2.375-1.371l2.375 1.371l2.375-1.371l2.375 1.371l2.375-1.371l2.375 1.371l2.375-1.371l2.375 1.371l2.375-1.371l2.375 1.371l2.375-1.371l2.375 1.371l2.375-1.371l2.375 1.371l2.375-1.371l2.375 1.371l2.375-1.371l2.375 1.371l2.375-1.371l2.375 1.371l2.375-1.371l2.375 1.371l2.375-1.371l2.375 1.371l2.375-1.371l2.375 1.371l2.375-1.371l2.375 1.371l2.375-1.371l2.375 1.371l2.375-1.371l2.375 1.371v2.742m-4.750-2.742v2.742m-4.750-2.742v2.742m-4.750-2.742v2.742m-4.750-2.742v2.742m-4.750-2.742v2.742m-4.750-2.742v2.742m-4.750-2.742v2.742m-4.750-2.742v2.742m-4.750-2.742v2.742m-4.750-2.742v2.742m-4.750-2.742v2.742m-4.750-2.742v2.742m-4.750-2.742v2.742m-4.750-2.742v2.742m-4.750-2.742v2.742m-4.750-2.742v2.742m-4.750-2.742v2.742m-4.750-2.742v2.742m-4.750-2.742v2.742m-4.750-2.742v2.742m-4.750-2.742v2.742m-4.750-2.742v2.742m-4.750-2.742v2.742m-4.750-2.742v2.742m-4.750-2.742v2.742m-4.750-2.742v2.742m-4.750-2.742v2.742m-4.750-2.742v2.742M-3.00 125.01l2.375-1.371l2.375 1.371l2.375-1.371l2.375 1.371l2.375-1.371l2.375 1.371l2.375-1.371l2.375 1.371l2.375-1.371l2.375 1.371l2.375-1.371l2.375 1.371l2.375-1.371l2.375 1.371l2.375-1.371l2.375 1.371l2.375-1.371l2.375 1.371l2.375-1.371l2.375 1.371l2.375-1.371l2.375 1.371l2.375-1.371l2.375 1.371l2.375-1.371l2.375 1.371l2.375-1.371l2.375 1.371l2.375-1.371l2.375 1.371l2.375-1.371l2.375 1.371l2.375-1.371l2.375 1.371l2.375-1.371l2.375 1.371l2.375-1.371l2.375 1.371l2.375-1.371l2.375 1.371l2.375-1.371l2.375 1.371l2.375-1.371l2.375 1.371l2.375-1.371l2.375 1.371l2.375-1.371l2.375 1.371l2.375-1.371l2.375 1.371l2.375-1.371l2.375 1.371l2.375-1.371l2.375 1.371l2.375-1.371l2.375 1.371v2.742m-4.750-2.742v2.742m-4.750-2.742v2.742m-4.750-2.742v2.742m-4.750-2.742v2.742m-4.750-2.742v2.742m-4.750-2.742v2.742m-4.750-2.742v2.742m-4.750-2.742v2.742m-4.750-2.742v2.742m-4.750-2.742v2.742m-4.750-2.742v2.742m-4.750-2.742v2.742m-4.750-2.742v2.742m-4.750-2.742v2.742m-4.750-2.742v2.742m-4.750-2.742v2.742m-4.750-2.742v2.742m-4.750-2.742v2.742m-4.750-2.742v2.742m-4.750-2.742v2.742m-4.750-2.742v2.742m-4.750-2.742v2.742m-4.750-2.742v2.742m-4.750-2.742v2.742m-4.750-2.742v2.742m-4.750-2.742v2.742m-4.750-2.742v2.742m-4.750-2.742v2.742M-5.38 129.12l2.375-1.371l2.375 1.371l2.375-1.371l2.375 1.371l2.375-1.371l2.375 1.371l2.375-1.371l2.375 1.371l2.375-1.371l2.375 1.371l2.375-1.371l2.375 1.371l2.375-1.371l2.375 1.371l2.375-1.371l2.375 1.371l2.375-1.371l2.375 1.371l2.375-1.371l2.375 1.371l2.375-1.371l2.375 1.371l2.375-1.371l2.375 1.371l2.375-1.371l2.375 1.371l2.375-1.371l2.375 1.371l2.375-1.371l2.375 1.371l2.375-1.371l2.375 1.371l2.375-1.371l2.375 1.371l2.375-1.371l2.375 1.371l2.375-1.371l2.375 1.371l2.375-1.371l2.375 1.371l2.375-1.371l2.375 1.371l2.375-1.371l2.375 1.371l2.375-1.371l2.375 1.371l2.375-1.371l2.375 1.371l2.375-1.371l2.375 1.371l2.375-1.371l2.375 1.371l2.375-1.371l2.375 1.371l2.375-1.371l2.375 1.371v2.742m-4.750-2.742v2.742m-4.750-2.742v2.742m-4.750-2.742v2.742m-4.750-2.742v2.742m-4.750-2.742v2.742m-4.750-2.742v2.742m-4.750-2.742v2.742m-4.750-2.742v2.742m-4.750-2.742v2.742m-4.750-2.742v2.742m-4.750-2.742v2.742m-4.750-2.742v2.742m-4.750-2.742v2.742m-4.750-2.742v2.742m-4.750-2.742v2.742m-4.750-2.742v2.742m-4.750-2.742v2.742m-4.750-2.742v2.742m-4.750-2.742v2.742m-4.750-2.742v2.742m-4.750-2.742v2.742m-4.750-2.742v2.742m-4.750-2.742v2.742m-4.750-2.742v2.742m-4.750-2.742v2.742m-4.750-2.742v2.742m-4.750-2.742v2.742m-4.750-2.742v2.742M-3.00 133.24l2.375-1.371l2.375 1.371l2.375-1.371l2.375 1.371l2.375-1.371l2.375 1.371l2.375-1.371l2.375 1.371l2.375-1.371l2.375 1.371l2.375-1.371l2.375 1.371l2.375-1.371l2.375 1.371l2.375-1.371l2.375 1.371l2.375-1.371l2.375 1.371l2.375-1.371l2.375 1.371l2.375-1.371l2.375 1.371l2.375-1.371l2.375 1.371l2.375-1.371l2.375 1.371l2.375-1.371l2.375 1.371l2.375-1.371l2.375 1.371l2.375-1.371l2.375 1.371l2.375-1.371l2.375 1.371l2.375-1.371l2.375 1.371l2.375-1.371l2.375 1.371l2.375-1.371l2.375 1.371l2.375-1.371l2.375 1.371l2.375-1.371l2.375 1.371l2.375-1.371l2.375 1.371l2.375-1.371l2.375 1.371l2.375-1.371l2.375 1.371l2.375-1.371l2.375 1.371l2.375-1.371l2.375 1.371l2.375-1.371l2.375 1.371v2.742m-4.750-2.742v2.742m-4.750-2.742v2.742m-4.750-2.742v2.742m-4.750-2.742v2.742m-4.750-2.742v2.742m-4.750-2.742v2.742m-4.750-2.742v2.742m-4.750-2.742v2.742m-4.750-2.742v2.742m-4.750-2.742v2.742m-4.750-2.742v2.742m-4.750-2.742v2.742m-4.750-2.742v2.742m-4.750-2.742v2.742m-4.750-2.742v2.742m-4.750-2.742v2.742m-4.750-2.742v2.742m-4.750-2.742v2.742m-4.750-2.742v2.742m-4.750-2.742v2.742m-4.750-2.742v2.742m-4.750-2.742v2.742m-4.750-2.742v2.742m-4.750-2.742v2.742m-4.750-2.742v2.742m-4.750-2.742v2.742m-4.750-2.742v2.742m-4.750-2.742v2.742M-5.38 137.35l2.375-1.371l2.375 1.371l2.375-1.371l2.375 1.371l2.375-1.371l2.375 1.371l2.375-1.371l2.375 1.371l2.375-1.371l2.375 1.371l2.375-1.371l2.375 1.371l2.375-1.371l2.375 1.371l2.375-1.371l2.375 1.371l2.375-1.371l2.375 1.371l2.375-1.371l2.375 1.371l2.375-1.371l2.375 1.371l2.375-1.371l2.375 1.371l2.375-1.371l2.375 1.371l2.375-1.371l2.375 1.371l2.375-1.371l2.375 1.371l2.375-1.371l2.375 1.371l2.375-1.371l2.375 1.371l2.375-1.371l2.375 1.371l2.375-1.371l2.375 1.371l2.375-1.371l2.375 1.371l2.375-1.371l2.375 1.371l2.375-1.371l2.375 1.371l2.375-1.371l2.375 1.371l2.375-1.371l2.375 1.371l2.375-1.371l2.375 1.371l2.375-1.371l2.375 1.371l2.375-1.371l2.375 1.371l2.375-1.371l2.375 1.371v2.742m-4.750-2.742v2.742m-4.750-2.742v2.742m-4.750-2.742v2.742m-4.750-2.742v2.742m-4.750-2.742v2.742m-4.750-2.742v2.742m-4.750-2.742v2.742m-4.750-2.742v2.742m-4.750-2.742v2.742m-4.750-2.742v2.742m-4.750-2.742v2.742m-4.750-2.742v2.742m-4.750-2.742v2.742m-4.750-2.742v2.742m-4.750-2.742v2.742m-4.750-2.742v2.742m-4.750-2.742v2.742m-4.750-2.742v2.742m-4.750-2.742v2.742m-4.750-2.742v2.742m-4.750-2.742v2.742m-4.750-2.742v2.742m-4.750-2.742v2.742m-4.750-2.742v2.742m-4.750-2.742v2.742m-4.750-2.742v2.742m-4.750-2.742v2.742m-4.750-2.742v2.742M-3.00 141.46l2.375-1.371l2.375 1.371l2.375-1.371l2.375 1.371l2.375-1.371l2.375 1.371l2.375-1.371l2.375 1.371l2.375-1.371l2.375 1.371l2.375-1.371l2.375 1.371l2.375-1.371l2.375 1.371l2.375-1.371l2.375 1.371l2.375-1.371l2.375 1.371l2.375-1.371l2.375 1.371l2.375-1.371l2.375 1.371l2.375-1.371l2.375 1.371l2.375-1.371l2.375 1.371l2.375-1.371l2.375 1.371l2.375-1.371l2.375 1.371l2.375-1.371l2.375 1.371l2.375-1.371l2.375 1.371l2.375-1.371l2.375 1.371l2.375-1.371l2.375 1.371l2.375-1.371l2.375 1.371l2.375-1.371l2.375 1.371l2.375-1.371l2.375 1.371l2.375-1.371l2.375 1.371l2.375-1.371l2.375 1.371l2.375-1.371l2.375 1.371l2.375-1.371l2.375 1.371l2.375-1.371l2.375 1.371l2.375-1.371l2.375 1.371v2.742m-4.750-2.742v2.742m-4.750-2.742v2.742m-4.750-2.742v2.742m-4.750-2.742v2.742m-4.750-2.742v2.742m-4.750-2.742v2.742m-4.750-2.742v2.742m-4.750-2.742v2.742m-4.750-2.742v2.742m-4.750-2.742v2.742m-4.750-2.742v2.742m-4.750-2.742v2.742m-4.750-2.742v2.742m-4.750-2.742v2.742m-4.750-2.742v2.742m-4.750-2.742v2.742m-4.750-2.742v2.742m-4.750-2.742v2.742m-4.750-2.742v2.742m-4.750-2.742v2.742m-4.750-2.742v2.742m-4.750-2.742v2.742m-4.750-2.742v2.742m-4.750-2.742v2.742m-4.750-2.742v2.742m-4.750-2.742v2.742m-4.750-2.742v2.742m-4.750-2.742v2.742" fill="none" stroke="#4a4a4a" stroke-width="0.42" marker-start="url(#dot)" marker-mid="url(#dot)" marker-end="url(#dot)"/></g></g>
<g clip-path="url(#ccl3)"><g transform="translate(494.6 139.8) rotate(46.0)"><path d="M-3.00 1.60l2.375-1.371l2.375 1.371l2.375-1.371l2.375 1.371l2.375-1.371l2.375 1.371l2.375-1.371l2.375 1.371l2.375-1.371l2.375 1.371l2.375-1.371l2.375 1.371l2.375-1.371l2.375 1.371l2.375-1.371l2.375 1.371l2.375-1.371l2.375 1.371l2.375-1.371l2.375 1.371l2.375-1.371l2.375 1.371l2.375-1.371l2.375 1.371l2.375-1.371l2.375 1.371l2.375-1.371l2.375 1.371l2.375-1.371l2.375 1.371l2.375-1.371l2.375 1.371l2.375-1.371l2.375 1.371l2.375-1.371l2.375 1.371l2.375-1.371l2.375 1.371l2.375-1.371l2.375 1.371l2.375-1.371l2.375 1.371l2.375-1.371l2.375 1.371l2.375-1.371l2.375 1.371l2.375-1.371l2.375 1.371l2.375-1.371l2.375 1.371l2.375-1.371l2.375 1.371l2.375-1.371l2.375 1.371l2.375-1.371l2.375 1.371v2.742m-4.750-2.742v2.742m-4.750-2.742v2.742m-4.750-2.742v2.742m-4.750-2.742v2.742m-4.750-2.742v2.742m-4.750-2.742v2.742m-4.750-2.742v2.742m-4.750-2.742v2.742m-4.750-2.742v2.742m-4.750-2.742v2.742m-4.750-2.742v2.742m-4.750-2.742v2.742m-4.750-2.742v2.742m-4.750-2.742v2.742m-4.750-2.742v2.742m-4.750-2.742v2.742m-4.750-2.742v2.742m-4.750-2.742v2.742m-4.750-2.742v2.742m-4.750-2.742v2.742m-4.750-2.742v2.742m-4.750-2.742v2.742m-4.750-2.742v2.742m-4.750-2.742v2.742m-4.750-2.742v2.742m-4.750-2.742v2.742m-4.750-2.742v2.742m-4.750-2.742v2.742M-5.38 5.71l2.375-1.371l2.375 1.371l2.375-1.371l2.375 1.371l2.375-1.371l2.375 1.371l2.375-1.371l2.375 1.371l2.375-1.371l2.375 1.371l2.375-1.371l2.375 1.371l2.375-1.371l2.375 1.371l2.375-1.371l2.375 1.371l2.375-1.371l2.375 1.371l2.375-1.371l2.375 1.371l2.375-1.371l2.375 1.371l2.375-1.371l2.375 1.371l2.375-1.371l2.375 1.371l2.375-1.371l2.375 1.371l2.375-1.371l2.375 1.371l2.375-1.371l2.375 1.371l2.375-1.371l2.375 1.371l2.375-1.371l2.375 1.371l2.375-1.371l2.375 1.371l2.375-1.371l2.375 1.371l2.375-1.371l2.375 1.371l2.375-1.371l2.375 1.371l2.375-1.371l2.375 1.371l2.375-1.371l2.375 1.371l2.375-1.371l2.375 1.371l2.375-1.371l2.375 1.371l2.375-1.371l2.375 1.371l2.375-1.371l2.375 1.371v2.742m-4.750-2.742v2.742m-4.750-2.742v2.742m-4.750-2.742v2.742m-4.750-2.742v2.742m-4.750-2.742v2.742m-4.750-2.742v2.742m-4.750-2.742v2.742m-4.750-2.742v2.742m-4.750-2.742v2.742m-4.750-2.742v2.742m-4.750-2.742v2.742m-4.750-2.742v2.742m-4.750-2.742v2.742m-4.750-2.742v2.742m-4.750-2.742v2.742m-4.750-2.742v2.742m-4.750-2.742v2.742m-4.750-2.742v2.742m-4.750-2.742v2.742m-4.750-2.742v2.742m-4.750-2.742v2.742m-4.750-2.742v2.742m-4.750-2.742v2.742m-4.750-2.742v2.742m-4.750-2.742v2.742m-4.750-2.742v2.742m-4.750-2.742v2.742m-4.750-2.742v2.742M-3.00 9.83l2.375-1.371l2.375 1.371l2.375-1.371l2.375 1.371l2.375-1.371l2.375 1.371l2.375-1.371l2.375 1.371l2.375-1.371l2.375 1.371l2.375-1.371l2.375 1.371l2.375-1.371l2.375 1.371l2.375-1.371l2.375 1.371l2.375-1.371l2.375 1.371l2.375-1.371l2.375 1.371l2.375-1.371l2.375 1.371l2.375-1.371l2.375 1.371l2.375-1.371l2.375 1.371l2.375-1.371l2.375 1.371l2.375-1.371l2.375 1.371l2.375-1.371l2.375 1.371l2.375-1.371l2.375 1.371l2.375-1.371l2.375 1.371l2.375-1.371l2.375 1.371l2.375-1.371l2.375 1.371l2.375-1.371l2.375 1.371l2.375-1.371l2.375 1.371l2.375-1.371l2.375 1.371l2.375-1.371l2.375 1.371l2.375-1.371l2.375 1.371l2.375-1.371l2.375 1.371l2.375-1.371l2.375 1.371l2.375-1.371l2.375 1.371v2.742m-4.750-2.742v2.742m-4.750-2.742v2.742m-4.750-2.742v2.742m-4.750-2.742v2.742m-4.750-2.742v2.742m-4.750-2.742v2.742m-4.750-2.742v2.742m-4.750-2.742v2.742m-4.750-2.742v2.742m-4.750-2.742v2.742m-4.750-2.742v2.742m-4.750-2.742v2.742m-4.750-2.742v2.742m-4.750-2.742v2.742m-4.750-2.742v2.742m-4.750-2.742v2.742m-4.750-2.742v2.742m-4.750-2.742v2.742m-4.750-2.742v2.742m-4.750-2.742v2.742m-4.750-2.742v2.742m-4.750-2.742v2.742m-4.750-2.742v2.742m-4.750-2.742v2.742m-4.750-2.742v2.742m-4.750-2.742v2.742m-4.750-2.742v2.742m-4.750-2.742v2.742M-5.38 13.94l2.375-1.371l2.375 1.371l2.375-1.371l2.375 1.371l2.375-1.371l2.375 1.371l2.375-1.371l2.375 1.371l2.375-1.371l2.375 1.371l2.375-1.371l2.375 1.371l2.375-1.371l2.375 1.371l2.375-1.371l2.375 1.371l2.375-1.371l2.375 1.371l2.375-1.371l2.375 1.371l2.375-1.371l2.375 1.371l2.375-1.371l2.375 1.371l2.375-1.371l2.375 1.371l2.375-1.371l2.375 1.371l2.375-1.371l2.375 1.371l2.375-1.371l2.375 1.371l2.375-1.371l2.375 1.371l2.375-1.371l2.375 1.371l2.375-1.371l2.375 1.371l2.375-1.371l2.375 1.371l2.375-1.371l2.375 1.371l2.375-1.371l2.375 1.371l2.375-1.371l2.375 1.371l2.375-1.371l2.375 1.371l2.375-1.371l2.375 1.371l2.375-1.371l2.375 1.371l2.375-1.371l2.375 1.371l2.375-1.371l2.375 1.371v2.742m-4.750-2.742v2.742m-4.750-2.742v2.742m-4.750-2.742v2.742m-4.750-2.742v2.742m-4.750-2.742v2.742m-4.750-2.742v2.742m-4.750-2.742v2.742m-4.750-2.742v2.742m-4.750-2.742v2.742m-4.750-2.742v2.742m-4.750-2.742v2.742m-4.750-2.742v2.742m-4.750-2.742v2.742m-4.750-2.742v2.742m-4.750-2.742v2.742m-4.750-2.742v2.742m-4.750-2.742v2.742m-4.750-2.742v2.742m-4.750-2.742v2.742m-4.750-2.742v2.742m-4.750-2.742v2.742m-4.750-2.742v2.742m-4.750-2.742v2.742m-4.750-2.742v2.742m-4.750-2.742v2.742m-4.750-2.742v2.742m-4.750-2.742v2.742m-4.750-2.742v2.742M-3.00 18.05l2.375-1.371l2.375 1.371l2.375-1.371l2.375 1.371l2.375-1.371l2.375 1.371l2.375-1.371l2.375 1.371l2.375-1.371l2.375 1.371l2.375-1.371l2.375 1.371l2.375-1.371l2.375 1.371l2.375-1.371l2.375 1.371l2.375-1.371l2.375 1.371l2.375-1.371l2.375 1.371l2.375-1.371l2.375 1.371l2.375-1.371l2.375 1.371l2.375-1.371l2.375 1.371l2.375-1.371l2.375 1.371l2.375-1.371l2.375 1.371l2.375-1.371l2.375 1.371l2.375-1.371l2.375 1.371l2.375-1.371l2.375 1.371l2.375-1.371l2.375 1.371l2.375-1.371l2.375 1.371l2.375-1.371l2.375 1.371l2.375-1.371l2.375 1.371l2.375-1.371l2.375 1.371l2.375-1.371l2.375 1.371l2.375-1.371l2.375 1.371l2.375-1.371l2.375 1.371l2.375-1.371l2.375 1.371l2.375-1.371l2.375 1.371v2.742m-4.750-2.742v2.742m-4.750-2.742v2.742m-4.750-2.742v2.742m-4.750-2.742v2.742m-4.750-2.742v2.742m-4.750-2.742v2.742m-4.750-2.742v2.742m-4.750-2.742v2.742m-4.750-2.742v2.742m-4.750-2.742v2.742m-4.750-2.742v2.742m-4.750-2.742v2.742m-4.750-2.742v2.742m-4.750-2.742v2.742m-4.750-2.742v2.742m-4.750-2.742v2.742m-4.750-2.742v2.742m-4.750-2.742v2.742m-4.750-2.742v2.742m-4.750-2.742v2.742m-4.750-2.742v2.742m-4.750-2.742v2.742m-4.750-2.742v2.742m-4.750-2.742v2.742m-4.750-2.742v2.742m-4.750-2.742v2.742m-4.750-2.742v2.742m-4.750-2.742v2.742M-5.38 22.17l2.375-1.371l2.375 1.371l2.375-1.371l2.375 1.371l2.375-1.371l2.375 1.371l2.375-1.371l2.375 1.371l2.375-1.371l2.375 1.371l2.375-1.371l2.375 1.371l2.375-1.371l2.375 1.371l2.375-1.371l2.375 1.371l2.375-1.371l2.375 1.371l2.375-1.371l2.375 1.371l2.375-1.371l2.375 1.371l2.375-1.371l2.375 1.371l2.375-1.371l2.375 1.371l2.375-1.371l2.375 1.371l2.375-1.371l2.375 1.371l2.375-1.371l2.375 1.371l2.375-1.371l2.375 1.371l2.375-1.371l2.375 1.371l2.375-1.371l2.375 1.371l2.375-1.371l2.375 1.371l2.375-1.371l2.375 1.371l2.375-1.371l2.375 1.371l2.375-1.371l2.375 1.371l2.375-1.371l2.375 1.371l2.375-1.371l2.375 1.371l2.375-1.371l2.375 1.371l2.375-1.371l2.375 1.371l2.375-1.371l2.375 1.371v2.742m-4.750-2.742v2.742m-4.750-2.742v2.742m-4.750-2.742v2.742m-4.750-2.742v2.742m-4.750-2.742v2.742m-4.750-2.742v2.742m-4.750-2.742v2.742m-4.750-2.742v2.742m-4.750-2.742v2.742m-4.750-2.742v2.742m-4.750-2.742v2.742m-4.750-2.742v2.742m-4.750-2.742v2.742m-4.750-2.742v2.742m-4.750-2.742v2.742m-4.750-2.742v2.742m-4.750-2.742v2.742m-4.750-2.742v2.742m-4.750-2.742v2.742m-4.750-2.742v2.742m-4.750-2.742v2.742m-4.750-2.742v2.742m-4.750-2.742v2.742m-4.750-2.742v2.742m-4.750-2.742v2.742m-4.750-2.742v2.742m-4.750-2.742v2.742m-4.750-2.742v2.742M-3.00 26.28l2.375-1.371l2.375 1.371l2.375-1.371l2.375 1.371l2.375-1.371l2.375 1.371l2.375-1.371l2.375 1.371l2.375-1.371l2.375 1.371l2.375-1.371l2.375 1.371l2.375-1.371l2.375 1.371l2.375-1.371l2.375 1.371l2.375-1.371l2.375 1.371l2.375-1.371l2.375 1.371l2.375-1.371l2.375 1.371l2.375-1.371l2.375 1.371l2.375-1.371l2.375 1.371l2.375-1.371l2.375 1.371l2.375-1.371l2.375 1.371l2.375-1.371l2.375 1.371l2.375-1.371l2.375 1.371l2.375-1.371l2.375 1.371l2.375-1.371l2.375 1.371l2.375-1.371l2.375 1.371l2.375-1.371l2.375 1.371l2.375-1.371l2.375 1.371l2.375-1.371l2.375 1.371l2.375-1.371l2.375 1.371l2.375-1.371l2.375 1.371l2.375-1.371l2.375 1.371l2.375-1.371l2.375 1.371l2.375-1.371l2.375 1.371v2.742m-4.750-2.742v2.742m-4.750-2.742v2.742m-4.750-2.742v2.742m-4.750-2.742v2.742m-4.750-2.742v2.742m-4.750-2.742v2.742m-4.750-2.742v2.742m-4.750-2.742v2.742m-4.750-2.742v2.742m-4.750-2.742v2.742m-4.750-2.742v2.742m-4.750-2.742v2.742m-4.750-2.742v2.742m-4.750-2.742v2.742m-4.750-2.742v2.742m-4.750-2.742v2.742m-4.750-2.742v2.742m-4.750-2.742v2.742m-4.750-2.742v2.742m-4.750-2.742v2.742m-4.750-2.742v2.742m-4.750-2.742v2.742m-4.750-2.742v2.742m-4.750-2.742v2.742m-4.750-2.742v2.742m-4.750-2.742v2.742m-4.750-2.742v2.742m-4.750-2.742v2.742M-5.38 30.40l2.375-1.371l2.375 1.371l2.375-1.371l2.375 1.371l2.375-1.371l2.375 1.371l2.375-1.371l2.375 1.371l2.375-1.371l2.375 1.371l2.375-1.371l2.375 1.371l2.375-1.371l2.375 1.371l2.375-1.371l2.375 1.371l2.375-1.371l2.375 1.371l2.375-1.371l2.375 1.371l2.375-1.371l2.375 1.371l2.375-1.371l2.375 1.371l2.375-1.371l2.375 1.371l2.375-1.371l2.375 1.371l2.375-1.371l2.375 1.371l2.375-1.371l2.375 1.371l2.375-1.371l2.375 1.371l2.375-1.371l2.375 1.371l2.375-1.371l2.375 1.371l2.375-1.371l2.375 1.371l2.375-1.371l2.375 1.371l2.375-1.371l2.375 1.371l2.375-1.371l2.375 1.371l2.375-1.371l2.375 1.371l2.375-1.371l2.375 1.371l2.375-1.371l2.375 1.371l2.375-1.371l2.375 1.371l2.375-1.371l2.375 1.371v2.742m-4.750-2.742v2.742m-4.750-2.742v2.742m-4.750-2.742v2.742m-4.750-2.742v2.742m-4.750-2.742v2.742m-4.750-2.742v2.742m-4.750-2.742v2.742m-4.750-2.742v2.742m-4.750-2.742v2.742m-4.750-2.742v2.742m-4.750-2.742v2.742m-4.750-2.742v2.742m-4.750-2.742v2.742m-4.750-2.742v2.742m-4.750-2.742v2.742m-4.750-2.742v2.742m-4.750-2.742v2.742m-4.750-2.742v2.742m-4.750-2.742v2.742m-4.750-2.742v2.742m-4.750-2.742v2.742m-4.750-2.742v2.742m-4.750-2.742v2.742m-4.750-2.742v2.742m-4.750-2.742v2.742m-4.750-2.742v2.742m-4.750-2.742v2.742m-4.750-2.742v2.742M-3.00 34.51l2.375-1.371l2.375 1.371l2.375-1.371l2.375 1.371l2.375-1.371l2.375 1.371l2.375-1.371l2.375 1.371l2.375-1.371l2.375 1.371l2.375-1.371l2.375 1.371l2.375-1.371l2.375 1.371l2.375-1.371l2.375 1.371l2.375-1.371l2.375 1.371l2.375-1.371l2.375 1.371l2.375-1.371l2.375 1.371l2.375-1.371l2.375 1.371l2.375-1.371l2.375 1.371l2.375-1.371l2.375 1.371l2.375-1.371l2.375 1.371l2.375-1.371l2.375 1.371l2.375-1.371l2.375 1.371l2.375-1.371l2.375 1.371l2.375-1.371l2.375 1.371l2.375-1.371l2.375 1.371l2.375-1.371l2.375 1.371l2.375-1.371l2.375 1.371l2.375-1.371l2.375 1.371l2.375-1.371l2.375 1.371l2.375-1.371l2.375 1.371l2.375-1.371l2.375 1.371l2.375-1.371l2.375 1.371l2.375-1.371l2.375 1.371v2.742m-4.750-2.742v2.742m-4.750-2.742v2.742m-4.750-2.742v2.742m-4.750-2.742v2.742m-4.750-2.742v2.742m-4.750-2.742v2.742m-4.750-2.742v2.742m-4.750-2.742v2.742m-4.750-2.742v2.742m-4.750-2.742v2.742m-4.750-2.742v2.742m-4.750-2.742v2.742m-4.750-2.742v2.742m-4.750-2.742v2.742m-4.750-2.742v2.742m-4.750-2.742v2.742m-4.750-2.742v2.742m-4.750-2.742v2.742m-4.750-2.742v2.742m-4.750-2.742v2.742m-4.750-2.742v2.742m-4.750-2.742v2.742m-4.750-2.742v2.742m-4.750-2.742v2.742m-4.750-2.742v2.742m-4.750-2.742v2.742m-4.750-2.742v2.742m-4.750-2.742v2.742M-5.38 38.62l2.375-1.371l2.375 1.371l2.375-1.371l2.375 1.371l2.375-1.371l2.375 1.371l2.375-1.371l2.375 1.371l2.375-1.371l2.375 1.371l2.375-1.371l2.375 1.371l2.375-1.371l2.375 1.371l2.375-1.371l2.375 1.371l2.375-1.371l2.375 1.371l2.375-1.371l2.375 1.371l2.375-1.371l2.375 1.371l2.375-1.371l2.375 1.371l2.375-1.371l2.375 1.371l2.375-1.371l2.375 1.371l2.375-1.371l2.375 1.371l2.375-1.371l2.375 1.371l2.375-1.371l2.375 1.371l2.375-1.371l2.375 1.371l2.375-1.371l2.375 1.371l2.375-1.371l2.375 1.371l2.375-1.371l2.375 1.371l2.375-1.371l2.375 1.371l2.375-1.371l2.375 1.371l2.375-1.371l2.375 1.371l2.375-1.371l2.375 1.371l2.375-1.371l2.375 1.371l2.375-1.371l2.375 1.371l2.375-1.371l2.375 1.371v2.742m-4.750-2.742v2.742m-4.750-2.742v2.742m-4.750-2.742v2.742m-4.750-2.742v2.742m-4.750-2.742v2.742m-4.750-2.742v2.742m-4.750-2.742v2.742m-4.750-2.742v2.742m-4.750-2.742v2.742m-4.750-2.742v2.742m-4.750-2.742v2.742m-4.750-2.742v2.742m-4.750-2.742v2.742m-4.750-2.742v2.742m-4.750-2.742v2.742m-4.750-2.742v2.742m-4.750-2.742v2.742m-4.750-2.742v2.742m-4.750-2.742v2.742m-4.750-2.742v2.742m-4.750-2.742v2.742m-4.750-2.742v2.742m-4.750-2.742v2.742m-4.750-2.742v2.742m-4.750-2.742v2.742m-4.750-2.742v2.742m-4.750-2.742v2.742m-4.750-2.742v2.742M-3.00 42.74l2.375-1.371l2.375 1.371l2.375-1.371l2.375 1.371l2.375-1.371l2.375 1.371l2.375-1.371l2.375 1.371l2.375-1.371l2.375 1.371l2.375-1.371l2.375 1.371l2.375-1.371l2.375 1.371l2.375-1.371l2.375 1.371l2.375-1.371l2.375 1.371l2.375-1.371l2.375 1.371l2.375-1.371l2.375 1.371l2.375-1.371l2.375 1.371l2.375-1.371l2.375 1.371l2.375-1.371l2.375 1.371l2.375-1.371l2.375 1.371l2.375-1.371l2.375 1.371l2.375-1.371l2.375 1.371l2.375-1.371l2.375 1.371l2.375-1.371l2.375 1.371l2.375-1.371l2.375 1.371l2.375-1.371l2.375 1.371l2.375-1.371l2.375 1.371l2.375-1.371l2.375 1.371l2.375-1.371l2.375 1.371l2.375-1.371l2.375 1.371l2.375-1.371l2.375 1.371l2.375-1.371l2.375 1.371l2.375-1.371l2.375 1.371v2.742m-4.750-2.742v2.742m-4.750-2.742v2.742m-4.750-2.742v2.742m-4.750-2.742v2.742m-4.750-2.742v2.742m-4.750-2.742v2.742m-4.750-2.742v2.742m-4.750-2.742v2.742m-4.750-2.742v2.742m-4.750-2.742v2.742m-4.750-2.742v2.742m-4.750-2.742v2.742m-4.750-2.742v2.742m-4.750-2.742v2.742m-4.750-2.742v2.742m-4.750-2.742v2.742m-4.750-2.742v2.742m-4.750-2.742v2.742m-4.750-2.742v2.742m-4.750-2.742v2.742m-4.750-2.742v2.742m-4.750-2.742v2.742m-4.750-2.742v2.742m-4.750-2.742v2.742m-4.750-2.742v2.742m-4.750-2.742v2.742m-4.750-2.742v2.742m-4.750-2.742v2.742M-5.38 46.85l2.375-1.371l2.375 1.371l2.375-1.371l2.375 1.371l2.375-1.371l2.375 1.371l2.375-1.371l2.375 1.371l2.375-1.371l2.375 1.371l2.375-1.371l2.375 1.371l2.375-1.371l2.375 1.371l2.375-1.371l2.375 1.371l2.375-1.371l2.375 1.371l2.375-1.371l2.375 1.371l2.375-1.371l2.375 1.371l2.375-1.371l2.375 1.371l2.375-1.371l2.375 1.371l2.375-1.371l2.375 1.371l2.375-1.371l2.375 1.371l2.375-1.371l2.375 1.371l2.375-1.371l2.375 1.371l2.375-1.371l2.375 1.371l2.375-1.371l2.375 1.371l2.375-1.371l2.375 1.371l2.375-1.371l2.375 1.371l2.375-1.371l2.375 1.371l2.375-1.371l2.375 1.371l2.375-1.371l2.375 1.371l2.375-1.371l2.375 1.371l2.375-1.371l2.375 1.371l2.375-1.371l2.375 1.371l2.375-1.371l2.375 1.371v2.742m-4.750-2.742v2.742m-4.750-2.742v2.742m-4.750-2.742v2.742m-4.750-2.742v2.742m-4.750-2.742v2.742m-4.750-2.742v2.742m-4.750-2.742v2.742m-4.750-2.742v2.742m-4.750-2.742v2.742m-4.750-2.742v2.742m-4.750-2.742v2.742m-4.750-2.742v2.742m-4.750-2.742v2.742m-4.750-2.742v2.742m-4.750-2.742v2.742m-4.750-2.742v2.742m-4.750-2.742v2.742m-4.750-2.742v2.742m-4.750-2.742v2.742m-4.750-2.742v2.742m-4.750-2.742v2.742m-4.750-2.742v2.742m-4.750-2.742v2.742m-4.750-2.742v2.742m-4.750-2.742v2.742m-4.750-2.742v2.742m-4.750-2.742v2.742m-4.750-2.742v2.742M-3.00 50.96l2.375-1.371l2.375 1.371l2.375-1.371l2.375 1.371l2.375-1.371l2.375 1.371l2.375-1.371l2.375 1.371l2.375-1.371l2.375 1.371l2.375-1.371l2.375 1.371l2.375-1.371l2.375 1.371l2.375-1.371l2.375 1.371l2.375-1.371l2.375 1.371l2.375-1.371l2.375 1.371l2.375-1.371l2.375 1.371l2.375-1.371l2.375 1.371l2.375-1.371l2.375 1.371l2.375-1.371l2.375 1.371l2.375-1.371l2.375 1.371l2.375-1.371l2.375 1.371l2.375-1.371l2.375 1.371l2.375-1.371l2.375 1.371l2.375-1.371l2.375 1.371l2.375-1.371l2.375 1.371l2.375-1.371l2.375 1.371l2.375-1.371l2.375 1.371l2.375-1.371l2.375 1.371l2.375-1.371l2.375 1.371l2.375-1.371l2.375 1.371l2.375-1.371l2.375 1.371l2.375-1.371l2.375 1.371l2.375-1.371l2.375 1.371v2.742m-4.750-2.742v2.742m-4.750-2.742v2.742m-4.750-2.742v2.742m-4.750-2.742v2.742m-4.750-2.742v2.742m-4.750-2.742v2.742m-4.750-2.742v2.742m-4.750-2.742v2.742m-4.750-2.742v2.742m-4.750-2.742v2.742m-4.750-2.742v2.742m-4.750-2.742v2.742m-4.750-2.742v2.742m-4.750-2.742v2.742m-4.750-2.742v2.742m-4.750-2.742v2.742m-4.750-2.742v2.742m-4.750-2.742v2.742m-4.750-2.742v2.742m-4.750-2.742v2.742m-4.750-2.742v2.742m-4.750-2.742v2.742m-4.750-2.742v2.742m-4.750-2.742v2.742m-4.750-2.742v2.742m-4.750-2.742v2.742m-4.750-2.742v2.742m-4.750-2.742v2.742M-5.38 55.08l2.375-1.371l2.375 1.371l2.375-1.371l2.375 1.371l2.375-1.371l2.375 1.371l2.375-1.371l2.375 1.371l2.375-1.371l2.375 1.371l2.375-1.371l2.375 1.371l2.375-1.371l2.375 1.371l2.375-1.371l2.375 1.371l2.375-1.371l2.375 1.371l2.375-1.371l2.375 1.371l2.375-1.371l2.375 1.371l2.375-1.371l2.375 1.371l2.375-1.371l2.375 1.371l2.375-1.371l2.375 1.371l2.375-1.371l2.375 1.371l2.375-1.371l2.375 1.371l2.375-1.371l2.375 1.371l2.375-1.371l2.375 1.371l2.375-1.371l2.375 1.371l2.375-1.371l2.375 1.371l2.375-1.371l2.375 1.371l2.375-1.371l2.375 1.371l2.375-1.371l2.375 1.371l2.375-1.371l2.375 1.371l2.375-1.371l2.375 1.371l2.375-1.371l2.375 1.371l2.375-1.371l2.375 1.371l2.375-1.371l2.375 1.371v2.742m-4.750-2.742v2.742m-4.750-2.742v2.742m-4.750-2.742v2.742m-4.750-2.742v2.742m-4.750-2.742v2.742m-4.750-2.742v2.742m-4.750-2.742v2.742m-4.750-2.742v2.742m-4.750-2.742v2.742m-4.750-2.742v2.742m-4.750-2.742v2.742m-4.750-2.742v2.742m-4.750-2.742v2.742m-4.750-2.742v2.742m-4.750-2.742v2.742m-4.750-2.742v2.742m-4.750-2.742v2.742m-4.750-2.742v2.742m-4.750-2.742v2.742m-4.750-2.742v2.742m-4.750-2.742v2.742m-4.750-2.742v2.742m-4.750-2.742v2.742m-4.750-2.742v2.742m-4.750-2.742v2.742m-4.750-2.742v2.742m-4.750-2.742v2.742m-4.750-2.742v2.742M-3.00 59.19l2.375-1.371l2.375 1.371l2.375-1.371l2.375 1.371l2.375-1.371l2.375 1.371l2.375-1.371l2.375 1.371l2.375-1.371l2.375 1.371l2.375-1.371l2.375 1.371l2.375-1.371l2.375 1.371l2.375-1.371l2.375 1.371l2.375-1.371l2.375 1.371l2.375-1.371l2.375 1.371l2.375-1.371l2.375 1.371l2.375-1.371l2.375 1.371l2.375-1.371l2.375 1.371l2.375-1.371l2.375 1.371l2.375-1.371l2.375 1.371l2.375-1.371l2.375 1.371l2.375-1.371l2.375 1.371l2.375-1.371l2.375 1.371l2.375-1.371l2.375 1.371l2.375-1.371l2.375 1.371l2.375-1.371l2.375 1.371l2.375-1.371l2.375 1.371l2.375-1.371l2.375 1.371l2.375-1.371l2.375 1.371l2.375-1.371l2.375 1.371l2.375-1.371l2.375 1.371l2.375-1.371l2.375 1.371l2.375-1.371l2.375 1.371v2.742m-4.750-2.742v2.742m-4.750-2.742v2.742m-4.750-2.742v2.742m-4.750-2.742v2.742m-4.750-2.742v2.742m-4.750-2.742v2.742m-4.750-2.742v2.742m-4.750-2.742v2.742m-4.750-2.742v2.742m-4.750-2.742v2.742m-4.750-2.742v2.742m-4.750-2.742v2.742m-4.750-2.742v2.742m-4.750-2.742v2.742m-4.750-2.742v2.742m-4.750-2.742v2.742m-4.750-2.742v2.742m-4.750-2.742v2.742m-4.750-2.742v2.742m-4.750-2.742v2.742m-4.750-2.742v2.742m-4.750-2.742v2.742m-4.750-2.742v2.742m-4.750-2.742v2.742m-4.750-2.742v2.742m-4.750-2.742v2.742m-4.750-2.742v2.742m-4.750-2.742v2.742M-5.38 63.30l2.375-1.371l2.375 1.371l2.375-1.371l2.375 1.371l2.375-1.371l2.375 1.371l2.375-1.371l2.375 1.371l2.375-1.371l2.375 1.371l2.375-1.371l2.375 1.371l2.375-1.371l2.375 1.371l2.375-1.371l2.375 1.371l2.375-1.371l2.375 1.371l2.375-1.371l2.375 1.371l2.375-1.371l2.375 1.371l2.375-1.371l2.375 1.371l2.375-1.371l2.375 1.371l2.375-1.371l2.375 1.371l2.375-1.371l2.375 1.371l2.375-1.371l2.375 1.371l2.375-1.371l2.375 1.371l2.375-1.371l2.375 1.371l2.375-1.371l2.375 1.371l2.375-1.371l2.375 1.371l2.375-1.371l2.375 1.371l2.375-1.371l2.375 1.371l2.375-1.371l2.375 1.371l2.375-1.371l2.375 1.371l2.375-1.371l2.375 1.371l2.375-1.371l2.375 1.371l2.375-1.371l2.375 1.371l2.375-1.371l2.375 1.371v2.742m-4.750-2.742v2.742m-4.750-2.742v2.742m-4.750-2.742v2.742m-4.750-2.742v2.742m-4.750-2.742v2.742m-4.750-2.742v2.742m-4.750-2.742v2.742m-4.750-2.742v2.742m-4.750-2.742v2.742m-4.750-2.742v2.742m-4.750-2.742v2.742m-4.750-2.742v2.742m-4.750-2.742v2.742m-4.750-2.742v2.742m-4.750-2.742v2.742m-4.750-2.742v2.742m-4.750-2.742v2.742m-4.750-2.742v2.742m-4.750-2.742v2.742m-4.750-2.742v2.742m-4.750-2.742v2.742m-4.750-2.742v2.742m-4.750-2.742v2.742m-4.750-2.742v2.742m-4.750-2.742v2.742m-4.750-2.742v2.742m-4.750-2.742v2.742m-4.750-2.742v2.742M-3.00 67.42l2.375-1.371l2.375 1.371l2.375-1.371l2.375 1.371l2.375-1.371l2.375 1.371l2.375-1.371l2.375 1.371l2.375-1.371l2.375 1.371l2.375-1.371l2.375 1.371l2.375-1.371l2.375 1.371l2.375-1.371l2.375 1.371l2.375-1.371l2.375 1.371l2.375-1.371l2.375 1.371l2.375-1.371l2.375 1.371l2.375-1.371l2.375 1.371l2.375-1.371l2.375 1.371l2.375-1.371l2.375 1.371l2.375-1.371l2.375 1.371l2.375-1.371l2.375 1.371l2.375-1.371l2.375 1.371l2.375-1.371l2.375 1.371l2.375-1.371l2.375 1.371l2.375-1.371l2.375 1.371l2.375-1.371l2.375 1.371l2.375-1.371l2.375 1.371l2.375-1.371l2.375 1.371l2.375-1.371l2.375 1.371l2.375-1.371l2.375 1.371l2.375-1.371l2.375 1.371l2.375-1.371l2.375 1.371l2.375-1.371l2.375 1.371v2.742m-4.750-2.742v2.742m-4.750-2.742v2.742m-4.750-2.742v2.742m-4.750-2.742v2.742m-4.750-2.742v2.742m-4.750-2.742v2.742m-4.750-2.742v2.742m-4.750-2.742v2.742m-4.750-2.742v2.742m-4.750-2.742v2.742m-4.750-2.742v2.742m-4.750-2.742v2.742m-4.750-2.742v2.742m-4.750-2.742v2.742m-4.750-2.742v2.742m-4.750-2.742v2.742m-4.750-2.742v2.742m-4.750-2.742v2.742m-4.750-2.742v2.742m-4.750-2.742v2.742m-4.750-2.742v2.742m-4.750-2.742v2.742m-4.750-2.742v2.742m-4.750-2.742v2.742m-4.750-2.742v2.742m-4.750-2.742v2.742m-4.750-2.742v2.742m-4.750-2.742v2.742M-5.38 71.53l2.375-1.371l2.375 1.371l2.375-1.371l2.375 1.371l2.375-1.371l2.375 1.371l2.375-1.371l2.375 1.371l2.375-1.371l2.375 1.371l2.375-1.371l2.375 1.371l2.375-1.371l2.375 1.371l2.375-1.371l2.375 1.371l2.375-1.371l2.375 1.371l2.375-1.371l2.375 1.371l2.375-1.371l2.375 1.371l2.375-1.371l2.375 1.371l2.375-1.371l2.375 1.371l2.375-1.371l2.375 1.371l2.375-1.371l2.375 1.371l2.375-1.371l2.375 1.371l2.375-1.371l2.375 1.371l2.375-1.371l2.375 1.371l2.375-1.371l2.375 1.371l2.375-1.371l2.375 1.371l2.375-1.371l2.375 1.371l2.375-1.371l2.375 1.371l2.375-1.371l2.375 1.371l2.375-1.371l2.375 1.371l2.375-1.371l2.375 1.371l2.375-1.371l2.375 1.371l2.375-1.371l2.375 1.371l2.375-1.371l2.375 1.371v2.742m-4.750-2.742v2.742m-4.750-2.742v2.742m-4.750-2.742v2.742m-4.750-2.742v2.742m-4.750-2.742v2.742m-4.750-2.742v2.742m-4.750-2.742v2.742m-4.750-2.742v2.742m-4.750-2.742v2.742m-4.750-2.742v2.742m-4.750-2.742v2.742m-4.750-2.742v2.742m-4.750-2.742v2.742m-4.750-2.742v2.742m-4.750-2.742v2.742m-4.750-2.742v2.742m-4.750-2.742v2.742m-4.750-2.742v2.742m-4.750-2.742v2.742m-4.750-2.742v2.742m-4.750-2.742v2.742m-4.750-2.742v2.742m-4.750-2.742v2.742m-4.750-2.742v2.742m-4.750-2.742v2.742m-4.750-2.742v2.742m-4.750-2.742v2.742m-4.750-2.742v2.742M-3.00 75.65l2.375-1.371l2.375 1.371l2.375-1.371l2.375 1.371l2.375-1.371l2.375 1.371l2.375-1.371l2.375 1.371l2.375-1.371l2.375 1.371l2.375-1.371l2.375 1.371l2.375-1.371l2.375 1.371l2.375-1.371l2.375 1.371l2.375-1.371l2.375 1.371l2.375-1.371l2.375 1.371l2.375-1.371l2.375 1.371l2.375-1.371l2.375 1.371l2.375-1.371l2.375 1.371l2.375-1.371l2.375 1.371l2.375-1.371l2.375 1.371l2.375-1.371l2.375 1.371l2.375-1.371l2.375 1.371l2.375-1.371l2.375 1.371l2.375-1.371l2.375 1.371l2.375-1.371l2.375 1.371l2.375-1.371l2.375 1.371l2.375-1.371l2.375 1.371l2.375-1.371l2.375 1.371l2.375-1.371l2.375 1.371l2.375-1.371l2.375 1.371l2.375-1.371l2.375 1.371l2.375-1.371l2.375 1.371l2.375-1.371l2.375 1.371v2.742m-4.750-2.742v2.742m-4.750-2.742v2.742m-4.750-2.742v2.742m-4.750-2.742v2.742m-4.750-2.742v2.742m-4.750-2.742v2.742m-4.750-2.742v2.742m-4.750-2.742v2.742m-4.750-2.742v2.742m-4.750-2.742v2.742m-4.750-2.742v2.742m-4.750-2.742v2.742m-4.750-2.742v2.742m-4.750-2.742v2.742m-4.750-2.742v2.742m-4.750-2.742v2.742m-4.750-2.742v2.742m-4.750-2.742v2.742m-4.750-2.742v2.742m-4.750-2.742v2.742m-4.750-2.742v2.742m-4.750-2.742v2.742m-4.750-2.742v2.742m-4.750-2.742v2.742m-4.750-2.742v2.742m-4.750-2.742v2.742m-4.750-2.742v2.742m-4.750-2.742v2.742M-5.38 79.76l2.375-1.371l2.375 1.371l2.375-1.371l2.375 1.371l2.375-1.371l2.375 1.371l2.375-1.371l2.375 1.371l2.375-1.371l2.375 1.371l2.375-1.371l2.375 1.371l2.375-1.371l2.375 1.371l2.375-1.371l2.375 1.371l2.375-1.371l2.375 1.371l2.375-1.371l2.375 1.371l2.375-1.371l2.375 1.371l2.375-1.371l2.375 1.371l2.375-1.371l2.375 1.371l2.375-1.371l2.375 1.371l2.375-1.371l2.375 1.371l2.375-1.371l2.375 1.371l2.375-1.371l2.375 1.371l2.375-1.371l2.375 1.371l2.375-1.371l2.375 1.371l2.375-1.371l2.375 1.371l2.375-1.371l2.375 1.371l2.375-1.371l2.375 1.371l2.375-1.371l2.375 1.371l2.375-1.371l2.375 1.371l2.375-1.371l2.375 1.371l2.375-1.371l2.375 1.371l2.375-1.371l2.375 1.371l2.375-1.371l2.375 1.371v2.742m-4.750-2.742v2.742m-4.750-2.742v2.742m-4.750-2.742v2.742m-4.750-2.742v2.742m-4.750-2.742v2.742m-4.750-2.742v2.742m-4.750-2.742v2.742m-4.750-2.742v2.742m-4.750-2.742v2.742m-4.750-2.742v2.742m-4.750-2.742v2.742m-4.750-2.742v2.742m-4.750-2.742v2.742m-4.750-2.742v2.742m-4.750-2.742v2.742m-4.750-2.742v2.742m-4.750-2.742v2.742m-4.750-2.742v2.742m-4.750-2.742v2.742m-4.750-2.742v2.742m-4.750-2.742v2.742m-4.750-2.742v2.742m-4.750-2.742v2.742m-4.750-2.742v2.742m-4.750-2.742v2.742m-4.750-2.742v2.742m-4.750-2.742v2.742m-4.750-2.742v2.742M-3.00 83.87l2.375-1.371l2.375 1.371l2.375-1.371l2.375 1.371l2.375-1.371l2.375 1.371l2.375-1.371l2.375 1.371l2.375-1.371l2.375 1.371l2.375-1.371l2.375 1.371l2.375-1.371l2.375 1.371l2.375-1.371l2.375 1.371l2.375-1.371l2.375 1.371l2.375-1.371l2.375 1.371l2.375-1.371l2.375 1.371l2.375-1.371l2.375 1.371l2.375-1.371l2.375 1.371l2.375-1.371l2.375 1.371l2.375-1.371l2.375 1.371l2.375-1.371l2.375 1.371l2.375-1.371l2.375 1.371l2.375-1.371l2.375 1.371l2.375-1.371l2.375 1.371l2.375-1.371l2.375 1.371l2.375-1.371l2.375 1.371l2.375-1.371l2.375 1.371l2.375-1.371l2.375 1.371l2.375-1.371l2.375 1.371l2.375-1.371l2.375 1.371l2.375-1.371l2.375 1.371l2.375-1.371l2.375 1.371l2.375-1.371l2.375 1.371v2.742m-4.750-2.742v2.742m-4.750-2.742v2.742m-4.750-2.742v2.742m-4.750-2.742v2.742m-4.750-2.742v2.742m-4.750-2.742v2.742m-4.750-2.742v2.742m-4.750-2.742v2.742m-4.750-2.742v2.742m-4.750-2.742v2.742m-4.750-2.742v2.742m-4.750-2.742v2.742m-4.750-2.742v2.742m-4.750-2.742v2.742m-4.750-2.742v2.742m-4.750-2.742v2.742m-4.750-2.742v2.742m-4.750-2.742v2.742m-4.750-2.742v2.742m-4.750-2.742v2.742m-4.750-2.742v2.742m-4.750-2.742v2.742m-4.750-2.742v2.742m-4.750-2.742v2.742m-4.750-2.742v2.742m-4.750-2.742v2.742m-4.750-2.742v2.742m-4.750-2.742v2.742M-5.38 87.99l2.375-1.371l2.375 1.371l2.375-1.371l2.375 1.371l2.375-1.371l2.375 1.371l2.375-1.371l2.375 1.371l2.375-1.371l2.375 1.371l2.375-1.371l2.375 1.371l2.375-1.371l2.375 1.371l2.375-1.371l2.375 1.371l2.375-1.371l2.375 1.371l2.375-1.371l2.375 1.371l2.375-1.371l2.375 1.371l2.375-1.371l2.375 1.371l2.375-1.371l2.375 1.371l2.375-1.371l2.375 1.371l2.375-1.371l2.375 1.371l2.375-1.371l2.375 1.371l2.375-1.371l2.375 1.371l2.375-1.371l2.375 1.371l2.375-1.371l2.375 1.371l2.375-1.371l2.375 1.371l2.375-1.371l2.375 1.371l2.375-1.371l2.375 1.371l2.375-1.371l2.375 1.371l2.375-1.371l2.375 1.371l2.375-1.371l2.375 1.371l2.375-1.371l2.375 1.371l2.375-1.371l2.375 1.371l2.375-1.371l2.375 1.371v2.742m-4.750-2.742v2.742m-4.750-2.742v2.742m-4.750-2.742v2.742m-4.750-2.742v2.742m-4.750-2.742v2.742m-4.750-2.742v2.742m-4.750-2.742v2.742m-4.750-2.742v2.742m-4.750-2.742v2.742m-4.750-2.742v2.742m-4.750-2.742v2.742m-4.750-2.742v2.742m-4.750-2.742v2.742m-4.750-2.742v2.742m-4.750-2.742v2.742m-4.750-2.742v2.742m-4.750-2.742v2.742m-4.750-2.742v2.742m-4.750-2.742v2.742m-4.750-2.742v2.742m-4.750-2.742v2.742m-4.750-2.742v2.742m-4.750-2.742v2.742m-4.750-2.742v2.742m-4.750-2.742v2.742m-4.750-2.742v2.742m-4.750-2.742v2.742m-4.750-2.742v2.742M-3.00 92.10l2.375-1.371l2.375 1.371l2.375-1.371l2.375 1.371l2.375-1.371l2.375 1.371l2.375-1.371l2.375 1.371l2.375-1.371l2.375 1.371l2.375-1.371l2.375 1.371l2.375-1.371l2.375 1.371l2.375-1.371l2.375 1.371l2.375-1.371l2.375 1.371l2.375-1.371l2.375 1.371l2.375-1.371l2.375 1.371l2.375-1.371l2.375 1.371l2.375-1.371l2.375 1.371l2.375-1.371l2.375 1.371l2.375-1.371l2.375 1.371l2.375-1.371l2.375 1.371l2.375-1.371l2.375 1.371l2.375-1.371l2.375 1.371l2.375-1.371l2.375 1.371l2.375-1.371l2.375 1.371l2.375-1.371l2.375 1.371l2.375-1.371l2.375 1.371l2.375-1.371l2.375 1.371l2.375-1.371l2.375 1.371l2.375-1.371l2.375 1.371l2.375-1.371l2.375 1.371l2.375-1.371l2.375 1.371l2.375-1.371l2.375 1.371v2.742m-4.750-2.742v2.742m-4.750-2.742v2.742m-4.750-2.742v2.742m-4.750-2.742v2.742m-4.750-2.742v2.742m-4.750-2.742v2.742m-4.750-2.742v2.742m-4.750-2.742v2.742m-4.750-2.742v2.742m-4.750-2.742v2.742m-4.750-2.742v2.742m-4.750-2.742v2.742m-4.750-2.742v2.742m-4.750-2.742v2.742m-4.750-2.742v2.742m-4.750-2.742v2.742m-4.750-2.742v2.742m-4.750-2.742v2.742m-4.750-2.742v2.742m-4.750-2.742v2.742m-4.750-2.742v2.742m-4.750-2.742v2.742m-4.750-2.742v2.742m-4.750-2.742v2.742m-4.750-2.742v2.742m-4.750-2.742v2.742m-4.750-2.742v2.742m-4.750-2.742v2.742M-5.38 96.21l2.375-1.371l2.375 1.371l2.375-1.371l2.375 1.371l2.375-1.371l2.375 1.371l2.375-1.371l2.375 1.371l2.375-1.371l2.375 1.371l2.375-1.371l2.375 1.371l2.375-1.371l2.375 1.371l2.375-1.371l2.375 1.371l2.375-1.371l2.375 1.371l2.375-1.371l2.375 1.371l2.375-1.371l2.375 1.371l2.375-1.371l2.375 1.371l2.375-1.371l2.375 1.371l2.375-1.371l2.375 1.371l2.375-1.371l2.375 1.371l2.375-1.371l2.375 1.371l2.375-1.371l2.375 1.371l2.375-1.371l2.375 1.371l2.375-1.371l2.375 1.371l2.375-1.371l2.375 1.371l2.375-1.371l2.375 1.371l2.375-1.371l2.375 1.371l2.375-1.371l2.375 1.371l2.375-1.371l2.375 1.371l2.375-1.371l2.375 1.371l2.375-1.371l2.375 1.371l2.375-1.371l2.375 1.371l2.375-1.371l2.375 1.371v2.742m-4.750-2.742v2.742m-4.750-2.742v2.742m-4.750-2.742v2.742m-4.750-2.742v2.742m-4.750-2.742v2.742m-4.750-2.742v2.742m-4.750-2.742v2.742m-4.750-2.742v2.742m-4.750-2.742v2.742m-4.750-2.742v2.742m-4.750-2.742v2.742m-4.750-2.742v2.742m-4.750-2.742v2.742m-4.750-2.742v2.742m-4.750-2.742v2.742m-4.750-2.742v2.742m-4.750-2.742v2.742m-4.750-2.742v2.742m-4.750-2.742v2.742m-4.750-2.742v2.742m-4.750-2.742v2.742m-4.750-2.742v2.742m-4.750-2.742v2.742m-4.750-2.742v2.742m-4.750-2.742v2.742m-4.750-2.742v2.742m-4.750-2.742v2.742m-4.750-2.742v2.742M-3.00 100.33l2.375-1.371l2.375 1.371l2.375-1.371l2.375 1.371l2.375-1.371l2.375 1.371l2.375-1.371l2.375 1.371l2.375-1.371l2.375 1.371l2.375-1.371l2.375 1.371l2.375-1.371l2.375 1.371l2.375-1.371l2.375 1.371l2.375-1.371l2.375 1.371l2.375-1.371l2.375 1.371l2.375-1.371l2.375 1.371l2.375-1.371l2.375 1.371l2.375-1.371l2.375 1.371l2.375-1.371l2.375 1.371l2.375-1.371l2.375 1.371l2.375-1.371l2.375 1.371l2.375-1.371l2.375 1.371l2.375-1.371l2.375 1.371l2.375-1.371l2.375 1.371l2.375-1.371l2.375 1.371l2.375-1.371l2.375 1.371l2.375-1.371l2.375 1.371l2.375-1.371l2.375 1.371l2.375-1.371l2.375 1.371l2.375-1.371l2.375 1.371l2.375-1.371l2.375 1.371l2.375-1.371l2.375 1.371l2.375-1.371l2.375 1.371v2.742m-4.750-2.742v2.742m-4.750-2.742v2.742m-4.750-2.742v2.742m-4.750-2.742v2.742m-4.750-2.742v2.742m-4.750-2.742v2.742m-4.750-2.742v2.742m-4.750-2.742v2.742m-4.750-2.742v2.742m-4.750-2.742v2.742m-4.750-2.742v2.742m-4.750-2.742v2.742m-4.750-2.742v2.742m-4.750-2.742v2.742m-4.750-2.742v2.742m-4.750-2.742v2.742m-4.750-2.742v2.742m-4.750-2.742v2.742m-4.750-2.742v2.742m-4.750-2.742v2.742m-4.750-2.742v2.742m-4.750-2.742v2.742m-4.750-2.742v2.742m-4.750-2.742v2.742m-4.750-2.742v2.742m-4.750-2.742v2.742m-4.750-2.742v2.742m-4.750-2.742v2.742M-5.38 104.44l2.375-1.371l2.375 1.371l2.375-1.371l2.375 1.371l2.375-1.371l2.375 1.371l2.375-1.371l2.375 1.371l2.375-1.371l2.375 1.371l2.375-1.371l2.375 1.371l2.375-1.371l2.375 1.371l2.375-1.371l2.375 1.371l2.375-1.371l2.375 1.371l2.375-1.371l2.375 1.371l2.375-1.371l2.375 1.371l2.375-1.371l2.375 1.371l2.375-1.371l2.375 1.371l2.375-1.371l2.375 1.371l2.375-1.371l2.375 1.371l2.375-1.371l2.375 1.371l2.375-1.371l2.375 1.371l2.375-1.371l2.375 1.371l2.375-1.371l2.375 1.371l2.375-1.371l2.375 1.371l2.375-1.371l2.375 1.371l2.375-1.371l2.375 1.371l2.375-1.371l2.375 1.371l2.375-1.371l2.375 1.371l2.375-1.371l2.375 1.371l2.375-1.371l2.375 1.371l2.375-1.371l2.375 1.371l2.375-1.371l2.375 1.371v2.742m-4.750-2.742v2.742m-4.750-2.742v2.742m-4.750-2.742v2.742m-4.750-2.742v2.742m-4.750-2.742v2.742m-4.750-2.742v2.742m-4.750-2.742v2.742m-4.750-2.742v2.742m-4.750-2.742v2.742m-4.750-2.742v2.742m-4.750-2.742v2.742m-4.750-2.742v2.742m-4.750-2.742v2.742m-4.750-2.742v2.742m-4.750-2.742v2.742m-4.750-2.742v2.742m-4.750-2.742v2.742m-4.750-2.742v2.742m-4.750-2.742v2.742m-4.750-2.742v2.742m-4.750-2.742v2.742m-4.750-2.742v2.742m-4.750-2.742v2.742m-4.750-2.742v2.742m-4.750-2.742v2.742m-4.750-2.742v2.742m-4.750-2.742v2.742m-4.750-2.742v2.742M-3.00 108.55l2.375-1.371l2.375 1.371l2.375-1.371l2.375 1.371l2.375-1.371l2.375 1.371l2.375-1.371l2.375 1.371l2.375-1.371l2.375 1.371l2.375-1.371l2.375 1.371l2.375-1.371l2.375 1.371l2.375-1.371l2.375 1.371l2.375-1.371l2.375 1.371l2.375-1.371l2.375 1.371l2.375-1.371l2.375 1.371l2.375-1.371l2.375 1.371l2.375-1.371l2.375 1.371l2.375-1.371l2.375 1.371l2.375-1.371l2.375 1.371l2.375-1.371l2.375 1.371l2.375-1.371l2.375 1.371l2.375-1.371l2.375 1.371l2.375-1.371l2.375 1.371l2.375-1.371l2.375 1.371l2.375-1.371l2.375 1.371l2.375-1.371l2.375 1.371l2.375-1.371l2.375 1.371l2.375-1.371l2.375 1.371l2.375-1.371l2.375 1.371l2.375-1.371l2.375 1.371l2.375-1.371l2.375 1.371l2.375-1.371l2.375 1.371v2.742m-4.750-2.742v2.742m-4.750-2.742v2.742m-4.750-2.742v2.742m-4.750-2.742v2.742m-4.750-2.742v2.742m-4.750-2.742v2.742m-4.750-2.742v2.742m-4.750-2.742v2.742m-4.750-2.742v2.742m-4.750-2.742v2.742m-4.750-2.742v2.742m-4.750-2.742v2.742m-4.750-2.742v2.742m-4.750-2.742v2.742m-4.750-2.742v2.742m-4.750-2.742v2.742m-4.750-2.742v2.742m-4.750-2.742v2.742m-4.750-2.742v2.742m-4.750-2.742v2.742m-4.750-2.742v2.742m-4.750-2.742v2.742m-4.750-2.742v2.742m-4.750-2.742v2.742m-4.750-2.742v2.742m-4.750-2.742v2.742m-4.750-2.742v2.742m-4.750-2.742v2.742M-5.38 112.67l2.375-1.371l2.375 1.371l2.375-1.371l2.375 1.371l2.375-1.371l2.375 1.371l2.375-1.371l2.375 1.371l2.375-1.371l2.375 1.371l2.375-1.371l2.375 1.371l2.375-1.371l2.375 1.371l2.375-1.371l2.375 1.371l2.375-1.371l2.375 1.371l2.375-1.371l2.375 1.371l2.375-1.371l2.375 1.371l2.375-1.371l2.375 1.371l2.375-1.371l2.375 1.371l2.375-1.371l2.375 1.371l2.375-1.371l2.375 1.371l2.375-1.371l2.375 1.371l2.375-1.371l2.375 1.371l2.375-1.371l2.375 1.371l2.375-1.371l2.375 1.371l2.375-1.371l2.375 1.371l2.375-1.371l2.375 1.371l2.375-1.371l2.375 1.371l2.375-1.371l2.375 1.371l2.375-1.371l2.375 1.371l2.375-1.371l2.375 1.371l2.375-1.371l2.375 1.371l2.375-1.371l2.375 1.371l2.375-1.371l2.375 1.371v2.742m-4.750-2.742v2.742m-4.750-2.742v2.742m-4.750-2.742v2.742m-4.750-2.742v2.742m-4.750-2.742v2.742m-4.750-2.742v2.742m-4.750-2.742v2.742m-4.750-2.742v2.742m-4.750-2.742v2.742m-4.750-2.742v2.742m-4.750-2.742v2.742m-4.750-2.742v2.742m-4.750-2.742v2.742m-4.750-2.742v2.742m-4.750-2.742v2.742m-4.750-2.742v2.742m-4.750-2.742v2.742m-4.750-2.742v2.742m-4.750-2.742v2.742m-4.750-2.742v2.742m-4.750-2.742v2.742m-4.750-2.742v2.742m-4.750-2.742v2.742m-4.750-2.742v2.742m-4.750-2.742v2.742m-4.750-2.742v2.742m-4.750-2.742v2.742m-4.750-2.742v2.742M-3.00 116.78l2.375-1.371l2.375 1.371l2.375-1.371l2.375 1.371l2.375-1.371l2.375 1.371l2.375-1.371l2.375 1.371l2.375-1.371l2.375 1.371l2.375-1.371l2.375 1.371l2.375-1.371l2.375 1.371l2.375-1.371l2.375 1.371l2.375-1.371l2.375 1.371l2.375-1.371l2.375 1.371l2.375-1.371l2.375 1.371l2.375-1.371l2.375 1.371l2.375-1.371l2.375 1.371l2.375-1.371l2.375 1.371l2.375-1.371l2.375 1.371l2.375-1.371l2.375 1.371l2.375-1.371l2.375 1.371l2.375-1.371l2.375 1.371l2.375-1.371l2.375 1.371l2.375-1.371l2.375 1.371l2.375-1.371l2.375 1.371l2.375-1.371l2.375 1.371l2.375-1.371l2.375 1.371l2.375-1.371l2.375 1.371l2.375-1.371l2.375 1.371l2.375-1.371l2.375 1.371l2.375-1.371l2.375 1.371l2.375-1.371l2.375 1.371v2.742m-4.750-2.742v2.742m-4.750-2.742v2.742m-4.750-2.742v2.742m-4.750-2.742v2.742m-4.750-2.742v2.742m-4.750-2.742v2.742m-4.750-2.742v2.742m-4.750-2.742v2.742m-4.750-2.742v2.742m-4.750-2.742v2.742m-4.750-2.742v2.742m-4.750-2.742v2.742m-4.750-2.742v2.742m-4.750-2.742v2.742m-4.750-2.742v2.742m-4.750-2.742v2.742m-4.750-2.742v2.742m-4.750-2.742v2.742m-4.750-2.742v2.742m-4.750-2.742v2.742m-4.750-2.742v2.742m-4.750-2.742v2.742m-4.750-2.742v2.742m-4.750-2.742v2.742m-4.750-2.742v2.742m-4.750-2.742v2.742m-4.750-2.742v2.742m-4.750-2.742v2.742M-5.38 120.89l2.375-1.371l2.375 1.371l2.375-1.371l2.375 1.371l2.375-1.371l2.375 1.371l2.375-1.371l2.375 1.371l2.375-1.371l2.375 1.371l2.375-1.371l2.375 1.371l2.375-1.371l2.375 1.371l2.375-1.371l2.375 1.371l2.375-1.371l2.375 1.371l2.375-1.371l2.375 1.371l2.375-1.371l2.375 1.371l2.375-1.371l2.375 1.371l2.375-1.371l2.375 1.371l2.375-1.371l2.375 1.371l2.375-1.371l2.375 1.371l2.375-1.371l2.375 1.371l2.375-1.371l2.375 1.371l2.375-1.371l2.375 1.371l2.375-1.371l2.375 1.371l2.375-1.371l2.375 1.371l2.375-1.371l2.375 1.371l2.375-1.371l2.375 1.371l2.375-1.371l2.375 1.371l2.375-1.371l2.375 1.371l2.375-1.371l2.375 1.371l2.375-1.371l2.375 1.371l2.375-1.371l2.375 1.371l2.375-1.371l2.375 1.371v2.742m-4.750-2.742v2.742m-4.750-2.742v2.742m-4.750-2.742v2.742m-4.750-2.742v2.742m-4.750-2.742v2.742m-4.750-2.742v2.742m-4.750-2.742v2.742m-4.750-2.742v2.742m-4.750-2.742v2.742m-4.750-2.742v2.742m-4.750-2.742v2.742m-4.750-2.742v2.742m-4.750-2.742v2.742m-4.750-2.742v2.742m-4.750-2.742v2.742m-4.750-2.742v2.742m-4.750-2.742v2.742m-4.750-2.742v2.742m-4.750-2.742v2.742m-4.750-2.742v2.742m-4.750-2.742v2.742m-4.750-2.742v2.742m-4.750-2.742v2.742m-4.750-2.742v2.742m-4.750-2.742v2.742m-4.750-2.742v2.742m-4.750-2.742v2.742m-4.750-2.742v2.742M-3.00 125.01l2.375-1.371l2.375 1.371l2.375-1.371l2.375 1.371l2.375-1.371l2.375 1.371l2.375-1.371l2.375 1.371l2.375-1.371l2.375 1.371l2.375-1.371l2.375 1.371l2.375-1.371l2.375 1.371l2.375-1.371l2.375 1.371l2.375-1.371l2.375 1.371l2.375-1.371l2.375 1.371l2.375-1.371l2.375 1.371l2.375-1.371l2.375 1.371l2.375-1.371l2.375 1.371l2.375-1.371l2.375 1.371l2.375-1.371l2.375 1.371l2.375-1.371l2.375 1.371l2.375-1.371l2.375 1.371l2.375-1.371l2.375 1.371l2.375-1.371l2.375 1.371l2.375-1.371l2.375 1.371l2.375-1.371l2.375 1.371l2.375-1.371l2.375 1.371l2.375-1.371l2.375 1.371l2.375-1.371l2.375 1.371l2.375-1.371l2.375 1.371l2.375-1.371l2.375 1.371l2.375-1.371l2.375 1.371l2.375-1.371l2.375 1.371v2.742m-4.750-2.742v2.742m-4.750-2.742v2.742m-4.750-2.742v2.742m-4.750-2.742v2.742m-4.750-2.742v2.742m-4.750-2.742v2.742m-4.750-2.742v2.742m-4.750-2.742v2.742m-4.750-2.742v2.742m-4.750-2.742v2.742m-4.750-2.742v2.742m-4.750-2.742v2.742m-4.750-2.742v2.742m-4.750-2.742v2.742m-4.750-2.742v2.742m-4.750-2.742v2.742m-4.750-2.742v2.742m-4.750-2.742v2.742m-4.750-2.742v2.742m-4.750-2.742v2.742m-4.750-2.742v2.742m-4.750-2.742v2.742m-4.750-2.742v2.742m-4.750-2.742v2.742m-4.750-2.742v2.742m-4.750-2.742v2.742m-4.750-2.742v2.742m-4.750-2.742v2.742M-5.38 129.12l2.375-1.371l2.375 1.371l2.375-1.371l2.375 1.371l2.375-1.371l2.375 1.371l2.375-1.371l2.375 1.371l2.375-1.371l2.375 1.371l2.375-1.371l2.375 1.371l2.375-1.371l2.375 1.371l2.375-1.371l2.375 1.371l2.375-1.371l2.375 1.371l2.375-1.371l2.375 1.371l2.375-1.371l2.375 1.371l2.375-1.371l2.375 1.371l2.375-1.371l2.375 1.371l2.375-1.371l2.375 1.371l2.375-1.371l2.375 1.371l2.375-1.371l2.375 1.371l2.375-1.371l2.375 1.371l2.375-1.371l2.375 1.371l2.375-1.371l2.375 1.371l2.375-1.371l2.375 1.371l2.375-1.371l2.375 1.371l2.375-1.371l2.375 1.371l2.375-1.371l2.375 1.371l2.375-1.371l2.375 1.371l2.375-1.371l2.375 1.371l2.375-1.371l2.375 1.371l2.375-1.371l2.375 1.371l2.375-1.371l2.375 1.371v2.742m-4.750-2.742v2.742m-4.750-2.742v2.742m-4.750-2.742v2.742m-4.750-2.742v2.742m-4.750-2.742v2.742m-4.750-2.742v2.742m-4.750-2.742v2.742m-4.750-2.742v2.742m-4.750-2.742v2.742m-4.750-2.742v2.742m-4.750-2.742v2.742m-4.750-2.742v2.742m-4.750-2.742v2.742m-4.750-2.742v2.742m-4.750-2.742v2.742m-4.750-2.742v2.742m-4.750-2.742v2.742m-4.750-2.742v2.742m-4.750-2.742v2.742m-4.750-2.742v2.742m-4.750-2.742v2.742m-4.750-2.742v2.742m-4.750-2.742v2.742m-4.750-2.742v2.742m-4.750-2.742v2.742m-4.750-2.742v2.742m-4.750-2.742v2.742m-4.750-2.742v2.742M-3.00 133.24l2.375-1.371l2.375 1.371l2.375-1.371l2.375 1.371l2.375-1.371l2.375 1.371l2.375-1.371l2.375 1.371l2.375-1.371l2.375 1.371l2.375-1.371l2.375 1.371l2.375-1.371l2.375 1.371l2.375-1.371l2.375 1.371l2.375-1.371l2.375 1.371l2.375-1.371l2.375 1.371l2.375-1.371l2.375 1.371l2.375-1.371l2.375 1.371l2.375-1.371l2.375 1.371l2.375-1.371l2.375 1.371l2.375-1.371l2.375 1.371l2.375-1.371l2.375 1.371l2.375-1.371l2.375 1.371l2.375-1.371l2.375 1.371l2.375-1.371l2.375 1.371l2.375-1.371l2.375 1.371l2.375-1.371l2.375 1.371l2.375-1.371l2.375 1.371l2.375-1.371l2.375 1.371l2.375-1.371l2.375 1.371l2.375-1.371l2.375 1.371l2.375-1.371l2.375 1.371l2.375-1.371l2.375 1.371l2.375-1.371l2.375 1.371v2.742m-4.750-2.742v2.742m-4.750-2.742v2.742m-4.750-2.742v2.742m-4.750-2.742v2.742m-4.750-2.742v2.742m-4.750-2.742v2.742m-4.750-2.742v2.742m-4.750-2.742v2.742m-4.750-2.742v2.742m-4.750-2.742v2.742m-4.750-2.742v2.742m-4.750-2.742v2.742m-4.750-2.742v2.742m-4.750-2.742v2.742m-4.750-2.742v2.742m-4.750-2.742v2.742m-4.750-2.742v2.742m-4.750-2.742v2.742m-4.750-2.742v2.742m-4.750-2.742v2.742m-4.750-2.742v2.742m-4.750-2.742v2.742m-4.750-2.742v2.742m-4.750-2.742v2.742m-4.750-2.742v2.742m-4.750-2.742v2.742m-4.750-2.742v2.742m-4.750-2.742v2.742M-5.38 137.35l2.375-1.371l2.375 1.371l2.375-1.371l2.375 1.371l2.375-1.371l2.375 1.371l2.375-1.371l2.375 1.371l2.375-1.371l2.375 1.371l2.375-1.371l2.375 1.371l2.375-1.371l2.375 1.371l2.375-1.371l2.375 1.371l2.375-1.371l2.375 1.371l2.375-1.371l2.375 1.371l2.375-1.371l2.375 1.371l2.375-1.371l2.375 1.371l2.375-1.371l2.375 1.371l2.375-1.371l2.375 1.371l2.375-1.371l2.375 1.371l2.375-1.371l2.375 1.371l2.375-1.371l2.375 1.371l2.375-1.371l2.375 1.371l2.375-1.371l2.375 1.371l2.375-1.371l2.375 1.371l2.375-1.371l2.375 1.371l2.375-1.371l2.375 1.371l2.375-1.371l2.375 1.371l2.375-1.371l2.375 1.371l2.375-1.371l2.375 1.371l2.375-1.371l2.375 1.371l2.375-1.371l2.375 1.371l2.375-1.371l2.375 1.371v2.742m-4.750-2.742v2.742m-4.750-2.742v2.742m-4.750-2.742v2.742m-4.750-2.742v2.742m-4.750-2.742v2.742m-4.750-2.742v2.742m-4.750-2.742v2.742m-4.750-2.742v2.742m-4.750-2.742v2.742m-4.750-2.742v2.742m-4.750-2.742v2.742m-4.750-2.742v2.742m-4.750-2.742v2.742m-4.750-2.742v2.742m-4.750-2.742v2.742m-4.750-2.742v2.742m-4.750-2.742v2.742m-4.750-2.742v2.742m-4.750-2.742v2.742m-4.750-2.742v2.742m-4.750-2.742v2.742m-4.750-2.742v2.742m-4.750-2.742v2.742m-4.750-2.742v2.742m-4.750-2.742v2.742m-4.750-2.742v2.742m-4.750-2.742v2.742m-4.750-2.742v2.742M-3.00 141.46l2.375-1.371l2.375 1.371l2.375-1.371l2.375 1.371l2.375-1.371l2.375 1.371l2.375-1.371l2.375 1.371l2.375-1.371l2.375 1.371l2.375-1.371l2.375 1.371l2.375-1.371l2.375 1.371l2.375-1.371l2.375 1.371l2.375-1.371l2.375 1.371l2.375-1.371l2.375 1.371l2.375-1.371l2.375 1.371l2.375-1.371l2.375 1.371l2.375-1.371l2.375 1.371l2.375-1.371l2.375 1.371l2.375-1.371l2.375 1.371l2.375-1.371l2.375 1.371l2.375-1.371l2.375 1.371l2.375-1.371l2.375 1.371l2.375-1.371l2.375 1.371l2.375-1.371l2.375 1.371l2.375-1.371l2.375 1.371l2.375-1.371l2.375 1.371l2.375-1.371l2.375 1.371l2.375-1.371l2.375 1.371l2.375-1.371l2.375 1.371l2.375-1.371l2.375 1.371l2.375-1.371l2.375 1.371l2.375-1.371l2.375 1.371v2.742m-4.750-2.742v2.742m-4.750-2.742v2.742m-4.750-2.742v2.742m-4.750-2.742v2.742m-4.750-2.742v2.742m-4.750-2.742v2.742m-4.750-2.742v2.742m-4.750-2.742v2.742m-4.750-2.742v2.742m-4.750-2.742v2.742m-4.750-2.742v2.742m-4.750-2.742v2.742m-4.750-2.742v2.742m-4.750-2.742v2.742m-4.750-2.742v2.742m-4.750-2.742v2.742m-4.750-2.742v2.742m-4.750-2.742v2.742m-4.750-2.742v2.742m-4.750-2.742v2.742m-4.750-2.742v2.742m-4.750-2.742v2.742m-4.750-2.742v2.742m-4.750-2.742v2.742m-4.750-2.742v2.742m-4.750-2.742v2.742m-4.750-2.742v2.742m-4.750-2.742v2.742" fill="none" stroke="#4a4a4a" stroke-width="0.42" marker-start="url(#dot)" marker-mid="url(#dot)" marker-end="url(#dot)"/></g></g>
</g>
<path d="M479 114.9L520.2 157.6L441.9 133.2" fill="none" stroke="#e23a3a" stroke-width="0.9"/>
<path d="M492.6 128.9A39 39 0 0 0 482.9 146" fill="none" stroke="#e23a3a" stroke-width="0.8"/>
<text x="478.7" y="133.2" font-size="21" class="ser" text-anchor="middle" style="fill:#d93636">θ</text><g fill="none" stroke="#a9a9a9" stroke-width="1.3">
<rect x="724.8" y="17.2" width="534.4000000000001" height="534.4"/>
<line x1="715.5" y1="551.5" x2="724.8" y2="551.5"/>
<line x1="715.5" y1="418.9" x2="724.8" y2="418.9"/>
<line x1="715.5" y1="286.4" x2="724.8" y2="286.4"/>
<line x1="715.5" y1="153.8" x2="724.8" y2="153.8"/>
<line x1="715.5" y1="21.3" x2="724.8" y2="21.3"/>
<line x1="724.6" y1="551.6" x2="724.6" y2="561.4"/>
<line x1="857.4" y1="551.6" x2="857.4" y2="561.4"/>
<line x1="990.2" y1="551.6" x2="990.2" y2="561.4"/>
<line x1="1123.0" y1="551.6" x2="1123.0" y2="561.4"/>
<line x1="1255.8" y1="551.6" x2="1255.8" y2="561.4"/>
</g>
<text x="710.2" y="555.9" font-size="20.3" text-anchor="end">0</text>
<text x="710.2" y="424.5" font-size="20.3" text-anchor="end">10</text>
<text x="710.2" y="293.1" font-size="20.3" text-anchor="end">20</text>
<text x="710.2" y="161.7" font-size="20.3" text-anchor="end">30</text>
<text x="710.2" y="30.3" font-size="20.3" text-anchor="end">40</text>
<text x="725.3" y="580.6" font-size="20.3" text-anchor="middle">0</text>
<text x="857.2" y="580.6" font-size="20.3" text-anchor="middle">4</text>
<text x="989.1" y="580.6" font-size="20.3" text-anchor="middle">8</text>
<text x="1120.9" y="580.6" font-size="20.3" text-anchor="middle">12</text>
<text x="1252.8" y="580.6" font-size="20.3" text-anchor="middle">16</text>
<line x1="724.6" y1="551.5" x2="1239" y2="21.4" stroke="#2a2a2a" stroke-width="1.1"/>
<circle cx="1109.9" cy="154.0" r="6.3" fill="none" stroke="#4a9fd8" stroke-width="1.3"/>
<path d="M1105.7 154.0H1114.1000000000001M1105.7 151.0v6M1114.1000000000001 151.0v6" stroke="#2f86c6" stroke-width="0.9" fill="none"/>
<circle cx="979.0" cy="286.3" r="6.3" fill="none" stroke="#4a9fd8" stroke-width="1.3"/>
<path d="M977.4 286.3H980.6M977.4 283.3v6M980.6 283.3v6" stroke="#2f86c6" stroke-width="0.9" fill="none"/>
<rect x="875.9" y="385.7" width="12.6" height="12.6" fill="none" stroke="#e26b6b" stroke-width="1.2"/>
<path d="M879.0 392.0H885.4M879.0 389.0v6M885.4 389.0v6" stroke="#c83c3c" stroke-width="0.9" fill="none"/>
<rect x="846.6" y="412.7" width="12.6" height="12.6" fill="none" stroke="#e26b6b" stroke-width="1.2"/>
<path d="M850.5 419.0H855.3M850.5 416.0v6M855.3 416.0v6" stroke="#c83c3c" stroke-width="0.9" fill="none"/>
<rect x="822.7" y="439.1" width="12.6" height="12.6" fill="none" stroke="#e26b6b" stroke-width="1.2"/>
<path d="M826.8 445.4H831.2M826.8 442.4v6M831.2 442.4v6" stroke="#c83c3c" stroke-width="0.9" fill="none"/>
<rect x="782.7" y="478.9" width="12.6" height="12.6" fill="none" stroke="#e26b6b" stroke-width="1.2"/>
<path d="M787.8 485.2H790.2M787.8 482.2v6M790.2 482.2v6" stroke="#c83c3c" stroke-width="0.9" fill="none"/>
<rect x="757.0" y="505.1" width="12.6" height="12.6" fill="none" stroke="#e26b6b" stroke-width="1.2"/>
<path d="M761.8 511.4H764.8M761.8 508.4v6M764.8 508.4v6" stroke="#c83c3c" stroke-width="0.9" fill="none"/>
<text x="1064" y="414.2" font-size="20" textLength="161" lengthAdjust="spacingAndGlyphs">Experimental data</text>
<text x="1089" y="444.8" font-size="20" textLength="108" lengthAdjust="spacingAndGlyphs">Sample-S24</text>
<text x="1089" y="479.8" font-size="20" textLength="108" lengthAdjust="spacingAndGlyphs">Sample-S37</text>
<circle cx="1067.5" cy="438.6" r="5.4" fill="none" stroke="#4a9fd8" stroke-width="1.2"/>
<rect x="1062.6" y="468.6" width="10.6" height="10.6" fill="none" stroke="#e26b6b" stroke-width="1.1"/>
<text x="816.9" y="136.4" font-size="20" textLength="177.5" lengthAdjust="spacingAndGlyphs">Slope: 25812.807 <tspan class="ser" font-size="21">Ω</tspan></text>
<text x="996.3" y="122.7" font-size="14" textLength="42" lengthAdjust="spacingAndGlyphs">Ref [7]</text>
<text x="803.7" y="160.7" font-size="20" textLength="191" lengthAdjust="spacingAndGlyphs">K. v. Klitzing constant</text>
<path d="M1015 153.7C1040 152 1055 172 1058.2 195" fill="none" stroke="#222" stroke-width="0.9"/>
<path d="M1058.6 197.3L1056 192.4L1060.1 191.9Z" fill="#222"/>
<text transform="translate(681.8,289) rotate(-90)" font-size="21" text-anchor="middle" textLength="169" lengthAdjust="spacingAndGlyphs">Magnetic Field (T)</text>
<text x="919.5" y="604" font-size="20" textLength="142" lengthAdjust="spacingAndGlyphs"><tspan class="ser" font-size="21">δ</tspan><tspan font-style="italic">D</tspan> ( × 10<tspan font-size="12" dy="-7">-4</tspan><tspan dy="7"> C/m</tspan><tspan font-size="12" dy="-7">2</tspan><tspan dy="7">)</tspan></text>
<text x="658" y="18" font-size="21" font-weight="bold">d</text>
</svg>
</body></html>
